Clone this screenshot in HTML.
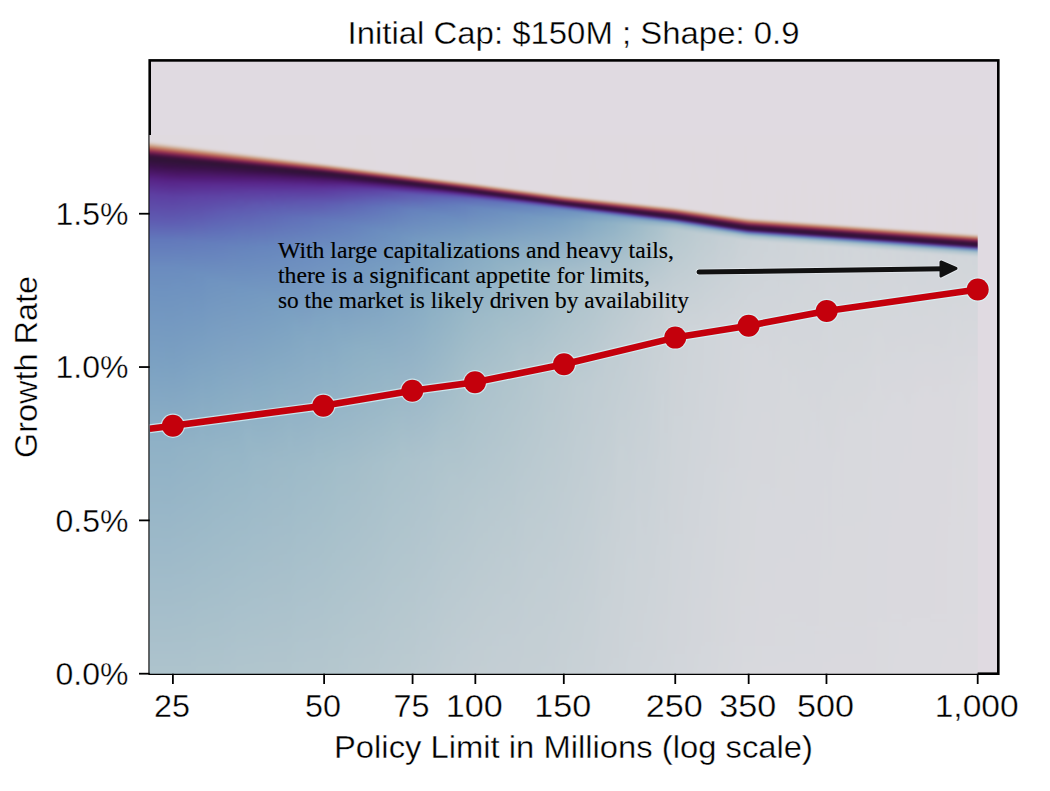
<!DOCTYPE html><html><head><meta charset="utf-8"><style>html,body{margin:0;padding:0;background:#fff;}svg{display:block;}</style></head><body><svg width="1050" height="791" viewBox="0 0 1050 791" font-family='"Liberation Sans", sans-serif'><defs><clipPath id="axc"><rect x="149.7" y="60.4" width="848.6" height="613.3"/></clipPath></defs><rect x="0" y="0" width="1050" height="791" fill="#ffffff"/><rect x="149.7" y="60.4" width="848.6" height="613.3" fill="#e0dae1"/><rect x="149.70" y="60.40" width="848.60" height="613.30" fill="none" stroke="#000" stroke-width="2.6"/><defs><linearGradient id="g0" x2="0" y2="1"><stop offset="0.0000" stop-color="#e0dae0"/><stop offset="0.0277" stop-color="#e0dadf"/><stop offset="0.0304" stop-color="#ded5d5"/><stop offset="0.0322" stop-color="#daccc6"/><stop offset="0.0349" stop-color="#d2b6a4"/><stop offset="0.0385" stop-color="#c78f72"/><stop offset="0.0411" stop-color="#bd6c5a"/><stop offset="0.0438" stop-color="#ab4b50"/><stop offset="0.0465" stop-color="#922f50"/><stop offset="0.0492" stop-color="#741e4f"/><stop offset="0.0528" stop-color="#4c1343"/><stop offset="0.0555" stop-color="#3a113a"/><stop offset="0.0599" stop-color="#2f1436"/><stop offset="0.0716" stop-color="#3a1148"/><stop offset="0.0886" stop-color="#4f1971"/><stop offset="0.0975" stop-color="#572486"/><stop offset="0.1234" stop-color="#5d3ea1"/><stop offset="0.1735" stop-color="#5f5db2"/><stop offset="0.2057" stop-color="#6278bb"/><stop offset="0.2540" stop-color="#6a8bbf"/><stop offset="0.2916" stop-color="#6e92c0"/><stop offset="0.4302" stop-color="#7ca1c2"/><stop offset="0.5671" stop-color="#8fb1c6"/><stop offset="1.0000" stop-color="#afc4cd"/></linearGradient><linearGradient id="g1" x2="0" y2="1"><stop offset="0.0000" stop-color="#e0dae0"/><stop offset="0.0277" stop-color="#e0dadf"/><stop offset="0.0304" stop-color="#ded5d5"/><stop offset="0.0322" stop-color="#daccc6"/><stop offset="0.0349" stop-color="#d2b6a4"/><stop offset="0.0385" stop-color="#c78f72"/><stop offset="0.0411" stop-color="#bd6c5a"/><stop offset="0.0438" stop-color="#ab4b50"/><stop offset="0.0465" stop-color="#922f50"/><stop offset="0.0492" stop-color="#741e4f"/><stop offset="0.0528" stop-color="#4c1343"/><stop offset="0.0555" stop-color="#3a113a"/><stop offset="0.0599" stop-color="#2f1436"/><stop offset="0.0716" stop-color="#3a1148"/><stop offset="0.0886" stop-color="#4f1971"/><stop offset="0.0975" stop-color="#572486"/><stop offset="0.1234" stop-color="#5d3ea1"/><stop offset="0.1735" stop-color="#5f5db2"/><stop offset="0.2048" stop-color="#6277bb"/><stop offset="0.2531" stop-color="#6a8bbf"/><stop offset="0.2970" stop-color="#6f93c0"/><stop offset="0.4293" stop-color="#7ca1c2"/><stop offset="0.5671" stop-color="#8fb1c6"/><stop offset="1.0000" stop-color="#afc4cd"/></linearGradient><linearGradient id="g2" x2="0" y2="1"><stop offset="0.0000" stop-color="#e0dae0"/><stop offset="0.0277" stop-color="#e0dadf"/><stop offset="0.0304" stop-color="#ded5d6"/><stop offset="0.0322" stop-color="#dbccc7"/><stop offset="0.0358" stop-color="#cfae97"/><stop offset="0.0385" stop-color="#c78f72"/><stop offset="0.0411" stop-color="#bd6d5a"/><stop offset="0.0438" stop-color="#ac4c50"/><stop offset="0.0474" stop-color="#8a2950"/><stop offset="0.0501" stop-color="#691a4d"/><stop offset="0.0537" stop-color="#45123f"/><stop offset="0.0564" stop-color="#361139"/><stop offset="0.0599" stop-color="#2f1436"/><stop offset="0.0716" stop-color="#3a1148"/><stop offset="0.0886" stop-color="#4f1970"/><stop offset="0.0975" stop-color="#572386"/><stop offset="0.1234" stop-color="#5d3ea1"/><stop offset="0.1726" stop-color="#5f5db2"/><stop offset="0.2048" stop-color="#6278bb"/><stop offset="0.2558" stop-color="#6b8cbf"/><stop offset="0.2996" stop-color="#6f93c0"/><stop offset="0.4302" stop-color="#7ca1c2"/><stop offset="0.5671" stop-color="#8fb1c6"/><stop offset="1.0000" stop-color="#afc4cd"/></linearGradient><linearGradient id="g3" x2="0" y2="1"><stop offset="0.0000" stop-color="#e0dae0"/><stop offset="0.0286" stop-color="#e0dadf"/><stop offset="0.0313" stop-color="#ded5d5"/><stop offset="0.0340" stop-color="#d8c6bd"/><stop offset="0.0376" stop-color="#cca389"/><stop offset="0.0403" stop-color="#c48367"/><stop offset="0.0429" stop-color="#b86155"/><stop offset="0.0465" stop-color="#9a3750"/><stop offset="0.0492" stop-color="#7d2250"/><stop offset="0.0528" stop-color="#531545"/><stop offset="0.0555" stop-color="#3d113c"/><stop offset="0.0590" stop-color="#311337"/><stop offset="0.0626" stop-color="#301338"/><stop offset="0.0760" stop-color="#3e1150"/><stop offset="0.0921" stop-color="#521c79"/><stop offset="0.0993" stop-color="#572588"/><stop offset="0.1252" stop-color="#5d40a2"/><stop offset="0.1735" stop-color="#5f5db2"/><stop offset="0.2048" stop-color="#6278bb"/><stop offset="0.2558" stop-color="#6b8cbf"/><stop offset="0.2996" stop-color="#6f93c0"/><stop offset="0.4311" stop-color="#7ca2c2"/><stop offset="0.5680" stop-color="#8fb1c6"/><stop offset="1.0000" stop-color="#afc4cd"/></linearGradient><linearGradient id="g4" x2="0" y2="1"><stop offset="0.0000" stop-color="#e0dae0"/><stop offset="0.0295" stop-color="#e0dadf"/><stop offset="0.0322" stop-color="#ded5d5"/><stop offset="0.0349" stop-color="#d8c6bc"/><stop offset="0.0385" stop-color="#cca388"/><stop offset="0.0411" stop-color="#c48266"/><stop offset="0.0438" stop-color="#b75f54"/><stop offset="0.0474" stop-color="#993650"/><stop offset="0.0501" stop-color="#7b2150"/><stop offset="0.0537" stop-color="#511445"/><stop offset="0.0564" stop-color="#3c113b"/><stop offset="0.0599" stop-color="#311337"/><stop offset="0.0662" stop-color="#33113c"/><stop offset="0.0814" stop-color="#44135b"/><stop offset="0.0957" stop-color="#552080"/><stop offset="0.1064" stop-color="#5a2b90"/><stop offset="0.1288" stop-color="#5d41a4"/><stop offset="0.1735" stop-color="#5f5db2"/><stop offset="0.2048" stop-color="#6278bb"/><stop offset="0.2558" stop-color="#6b8cbf"/><stop offset="0.3005" stop-color="#6f93c0"/><stop offset="0.4374" stop-color="#7da2c3"/><stop offset="0.5680" stop-color="#8fb1c6"/><stop offset="1.0000" stop-color="#afc4cd"/></linearGradient><linearGradient id="g5" x2="0" y2="1"><stop offset="0.0000" stop-color="#e0dae0"/><stop offset="0.0304" stop-color="#e0dadf"/><stop offset="0.0331" stop-color="#ded5d5"/><stop offset="0.0349" stop-color="#daccc6"/><stop offset="0.0385" stop-color="#ceac94"/><stop offset="0.0411" stop-color="#c78c6f"/><stop offset="0.0429" stop-color="#c0755e"/><stop offset="0.0456" stop-color="#b05251"/><stop offset="0.0492" stop-color="#8e2c50"/><stop offset="0.0519" stop-color="#6e1c4e"/><stop offset="0.0555" stop-color="#471340"/><stop offset="0.0581" stop-color="#371139"/><stop offset="0.0617" stop-color="#2f1436"/><stop offset="0.0742" stop-color="#3a1149"/><stop offset="0.0912" stop-color="#501a73"/><stop offset="0.1002" stop-color="#572487"/><stop offset="0.1252" stop-color="#5d3ea1"/><stop offset="0.1753" stop-color="#5f5eb3"/><stop offset="0.2048" stop-color="#6278bb"/><stop offset="0.2558" stop-color="#6b8cbf"/><stop offset="0.3005" stop-color="#6f93c0"/><stop offset="0.4320" stop-color="#7ca1c2"/><stop offset="0.5689" stop-color="#8fb1c6"/><stop offset="1.0000" stop-color="#afc4cd"/></linearGradient><linearGradient id="g6" x2="0" y2="1"><stop offset="0.0000" stop-color="#e0dae0"/><stop offset="0.0313" stop-color="#e0dadf"/><stop offset="0.0340" stop-color="#ded5d5"/><stop offset="0.0358" stop-color="#daccc6"/><stop offset="0.0385" stop-color="#d1b5a1"/><stop offset="0.0420" stop-color="#c68b6e"/><stop offset="0.0438" stop-color="#c0745d"/><stop offset="0.0465" stop-color="#af5151"/><stop offset="0.0492" stop-color="#963350"/><stop offset="0.0519" stop-color="#761f4f"/><stop offset="0.0555" stop-color="#4d1443"/><stop offset="0.0581" stop-color="#3a113a"/><stop offset="0.0626" stop-color="#2f1436"/><stop offset="0.0760" stop-color="#3c114b"/><stop offset="0.0930" stop-color="#511b76"/><stop offset="0.1011" stop-color="#572488"/><stop offset="0.1270" stop-color="#5d40a2"/><stop offset="0.1744" stop-color="#5f5db2"/><stop offset="0.2048" stop-color="#6278bb"/><stop offset="0.2558" stop-color="#6b8cbf"/><stop offset="0.3005" stop-color="#6f93c0"/><stop offset="0.4329" stop-color="#7ca2c2"/><stop offset="0.5698" stop-color="#8fb1c6"/><stop offset="1.0000" stop-color="#afc4cd"/></linearGradient><linearGradient id="g7" x2="0" y2="1"><stop offset="0.0000" stop-color="#e0dae0"/><stop offset="0.0322" stop-color="#e0dadf"/><stop offset="0.0349" stop-color="#ded5d5"/><stop offset="0.0367" stop-color="#dacbc6"/><stop offset="0.0394" stop-color="#d1b4a1"/><stop offset="0.0429" stop-color="#c68a6d"/><stop offset="0.0447" stop-color="#bf725c"/><stop offset="0.0474" stop-color="#ae4f51"/><stop offset="0.0510" stop-color="#8b2a50"/><stop offset="0.0537" stop-color="#691a4d"/><stop offset="0.0564" stop-color="#4b1342"/><stop offset="0.0590" stop-color="#39113a"/><stop offset="0.0626" stop-color="#301436"/><stop offset="0.0742" stop-color="#391146"/><stop offset="0.0912" stop-color="#4f1870"/><stop offset="0.1020" stop-color="#572588"/><stop offset="0.1288" stop-color="#5d40a3"/><stop offset="0.1744" stop-color="#5f5db2"/><stop offset="0.2048" stop-color="#6278bb"/><stop offset="0.2558" stop-color="#6b8cbf"/><stop offset="0.3005" stop-color="#6f93c0"/><stop offset="0.4329" stop-color="#7ca1c2"/><stop offset="0.5707" stop-color="#8fb1c6"/><stop offset="1.0000" stop-color="#afc4cd"/></linearGradient><linearGradient id="g8" x2="0" y2="1"><stop offset="0.0000" stop-color="#e0dae0"/><stop offset="0.0331" stop-color="#e0dadf"/><stop offset="0.0358" stop-color="#ded5d5"/><stop offset="0.0376" stop-color="#dacbc5"/><stop offset="0.0403" stop-color="#d1b4a0"/><stop offset="0.0438" stop-color="#c6896c"/><stop offset="0.0456" stop-color="#be715c"/><stop offset="0.0483" stop-color="#ac4d51"/><stop offset="0.0510" stop-color="#923050"/><stop offset="0.0537" stop-color="#721d4f"/><stop offset="0.0572" stop-color="#491341"/><stop offset="0.0599" stop-color="#381139"/><stop offset="0.0635" stop-color="#2f1436"/><stop offset="0.0751" stop-color="#3a1148"/><stop offset="0.0921" stop-color="#4f1971"/><stop offset="0.1011" stop-color="#572487"/><stop offset="0.1279" stop-color="#5d3fa2"/><stop offset="0.1753" stop-color="#5f5eb3"/><stop offset="0.2048" stop-color="#6278bb"/><stop offset="0.2558" stop-color="#6b8cbf"/><stop offset="0.2987" stop-color="#6f93c0"/><stop offset="0.4329" stop-color="#7ca1c2"/><stop offset="0.5698" stop-color="#8fb1c6"/><stop offset="1.0000" stop-color="#afc4cd"/></linearGradient><linearGradient id="g9" x2="0" y2="1"><stop offset="0.0000" stop-color="#e0dae0"/><stop offset="0.0340" stop-color="#e0dadf"/><stop offset="0.0367" stop-color="#ded5d5"/><stop offset="0.0385" stop-color="#dacbc5"/><stop offset="0.0411" stop-color="#d1b4a0"/><stop offset="0.0438" stop-color="#c89477"/><stop offset="0.0456" stop-color="#c27c62"/><stop offset="0.0483" stop-color="#b35752"/><stop offset="0.0519" stop-color="#912f50"/><stop offset="0.0546" stop-color="#701c4e"/><stop offset="0.0572" stop-color="#501444"/><stop offset="0.0599" stop-color="#3b113a"/><stop offset="0.0635" stop-color="#301437"/><stop offset="0.0725" stop-color="#361142"/><stop offset="0.0877" stop-color="#491564"/><stop offset="0.1020" stop-color="#572588"/><stop offset="0.1288" stop-color="#5d41a3"/><stop offset="0.1762" stop-color="#5f5fb3"/><stop offset="0.2057" stop-color="#6379bb"/><stop offset="0.2522" stop-color="#6a8bbf"/><stop offset="0.2871" stop-color="#6e92c0"/><stop offset="0.4302" stop-color="#7ca1c2"/><stop offset="0.5778" stop-color="#91b2c6"/><stop offset="1.0000" stop-color="#afc4cd"/></linearGradient><linearGradient id="g10" x2="0" y2="1"><stop offset="0.0000" stop-color="#e0dae0"/><stop offset="0.0349" stop-color="#e0dadf"/><stop offset="0.0376" stop-color="#ded5d5"/><stop offset="0.0394" stop-color="#dacbc5"/><stop offset="0.0420" stop-color="#d0b39e"/><stop offset="0.0447" stop-color="#c89275"/><stop offset="0.0474" stop-color="#be6e5a"/><stop offset="0.0501" stop-color="#ab4b50"/><stop offset="0.0528" stop-color="#8f2d50"/><stop offset="0.0555" stop-color="#6e1c4e"/><stop offset="0.0590" stop-color="#461240"/><stop offset="0.0617" stop-color="#361138"/><stop offset="0.0653" stop-color="#2f1436"/><stop offset="0.0769" stop-color="#3b114a"/><stop offset="0.0930" stop-color="#501973"/><stop offset="0.1029" stop-color="#58268a"/><stop offset="0.1297" stop-color="#5d42a4"/><stop offset="0.1771" stop-color="#5f60b4"/><stop offset="0.2057" stop-color="#6379bb"/><stop offset="0.2585" stop-color="#6b8dbf"/><stop offset="0.3140" stop-color="#7195c0"/><stop offset="0.4428" stop-color="#7ea3c3"/><stop offset="0.5769" stop-color="#91b2c6"/><stop offset="1.0000" stop-color="#afc4cd"/></linearGradient><linearGradient id="g11" x2="0" y2="1"><stop offset="0.0000" stop-color="#e0dae0"/><stop offset="0.0358" stop-color="#e0dadf"/><stop offset="0.0385" stop-color="#ded5d5"/><stop offset="0.0403" stop-color="#dacbc5"/><stop offset="0.0429" stop-color="#d0b39e"/><stop offset="0.0456" stop-color="#c89275"/><stop offset="0.0483" stop-color="#bd6d5a"/><stop offset="0.0510" stop-color="#a94950"/><stop offset="0.0537" stop-color="#8e2c50"/><stop offset="0.0564" stop-color="#6c1b4e"/><stop offset="0.0590" stop-color="#4c1342"/><stop offset="0.0617" stop-color="#39113a"/><stop offset="0.0653" stop-color="#2f1436"/><stop offset="0.0751" stop-color="#381145"/><stop offset="0.0921" stop-color="#4f1970"/><stop offset="0.1038" stop-color="#58278b"/><stop offset="0.1297" stop-color="#5d42a4"/><stop offset="0.1789" stop-color="#5f62b4"/><stop offset="0.2075" stop-color="#637abb"/><stop offset="0.2585" stop-color="#6b8dbf"/><stop offset="0.3095" stop-color="#7195c0"/><stop offset="0.4401" stop-color="#7ea3c3"/><stop offset="0.5733" stop-color="#91b2c6"/><stop offset="1.0000" stop-color="#afc4cd"/></linearGradient><linearGradient id="g12" x2="0" y2="1"><stop offset="0.0000" stop-color="#e0dae0"/><stop offset="0.0367" stop-color="#e0dadf"/><stop offset="0.0394" stop-color="#ded5d5"/><stop offset="0.0411" stop-color="#dacbc5"/><stop offset="0.0438" stop-color="#d0b29e"/><stop offset="0.0465" stop-color="#c89174"/><stop offset="0.0483" stop-color="#c17860"/><stop offset="0.0501" stop-color="#b75f55"/><stop offset="0.0528" stop-color="#a03d50"/><stop offset="0.0555" stop-color="#812450"/><stop offset="0.0581" stop-color="#5e174a"/><stop offset="0.0608" stop-color="#42123e"/><stop offset="0.0635" stop-color="#341238"/><stop offset="0.0671" stop-color="#301437"/><stop offset="0.0787" stop-color="#3d114d"/><stop offset="0.0948" stop-color="#511b77"/><stop offset="0.1047" stop-color="#59288c"/><stop offset="0.1297" stop-color="#5d43a5"/><stop offset="0.1798" stop-color="#5f64b5"/><stop offset="0.2066" stop-color="#637abb"/><stop offset="0.2612" stop-color="#6c8ebf"/><stop offset="0.3274" stop-color="#7297c1"/><stop offset="0.4660" stop-color="#82a7c3"/><stop offset="0.5805" stop-color="#92b3c6"/><stop offset="1.0000" stop-color="#afc4cd"/></linearGradient><linearGradient id="g13" x2="0" y2="1"><stop offset="0.0000" stop-color="#e0dae0"/><stop offset="0.0376" stop-color="#e0dadf"/><stop offset="0.0403" stop-color="#ded5d5"/><stop offset="0.0420" stop-color="#dacbc5"/><stop offset="0.0447" stop-color="#d0b29c"/><stop offset="0.0474" stop-color="#c89073"/><stop offset="0.0492" stop-color="#c1775f"/><stop offset="0.0510" stop-color="#b65e54"/><stop offset="0.0537" stop-color="#9f3c50"/><stop offset="0.0564" stop-color="#7f2350"/><stop offset="0.0590" stop-color="#5c1749"/><stop offset="0.0617" stop-color="#41123d"/><stop offset="0.0644" stop-color="#341238"/><stop offset="0.0680" stop-color="#301437"/><stop offset="0.0778" stop-color="#3b114a"/><stop offset="0.0939" stop-color="#501a75"/><stop offset="0.1055" stop-color="#59298e"/><stop offset="0.1297" stop-color="#5e43a5"/><stop offset="0.1789" stop-color="#5f64b5"/><stop offset="0.2084" stop-color="#637bbc"/><stop offset="0.2648" stop-color="#6c8fbf"/><stop offset="0.4490" stop-color="#80a5c3"/><stop offset="0.5796" stop-color="#92b3c6"/><stop offset="1.0000" stop-color="#afc4cd"/></linearGradient><linearGradient id="g14" x2="0" y2="1"><stop offset="0.0000" stop-color="#e0dae0"/><stop offset="0.0385" stop-color="#e0dadf"/><stop offset="0.0411" stop-color="#ded5d5"/><stop offset="0.0429" stop-color="#dacbc5"/><stop offset="0.0456" stop-color="#d0b29c"/><stop offset="0.0483" stop-color="#c78f72"/><stop offset="0.0501" stop-color="#c0765f"/><stop offset="0.0519" stop-color="#b55c54"/><stop offset="0.0546" stop-color="#9d3a50"/><stop offset="0.0572" stop-color="#7d2150"/><stop offset="0.0608" stop-color="#4f1444"/><stop offset="0.0635" stop-color="#3a113a"/><stop offset="0.0671" stop-color="#301436"/><stop offset="0.0760" stop-color="#381145"/><stop offset="0.0921" stop-color="#4e1870"/><stop offset="0.1047" stop-color="#59288d"/><stop offset="0.1279" stop-color="#5d42a4"/><stop offset="0.1682" stop-color="#5f5db2"/><stop offset="0.2093" stop-color="#647cbc"/><stop offset="0.2674" stop-color="#6d90c0"/><stop offset="0.4535" stop-color="#81a6c3"/><stop offset="0.5778" stop-color="#92b3c6"/><stop offset="1.0000" stop-color="#b0c5cd"/></linearGradient><linearGradient id="g15" x2="0" y2="1"><stop offset="0.0000" stop-color="#e0dae0"/><stop offset="0.0394" stop-color="#e0dadf"/><stop offset="0.0420" stop-color="#ded5d5"/><stop offset="0.0438" stop-color="#dacbc5"/><stop offset="0.0465" stop-color="#d0b19b"/><stop offset="0.0492" stop-color="#c78e71"/><stop offset="0.0510" stop-color="#c0755e"/><stop offset="0.0537" stop-color="#ad4e51"/><stop offset="0.0564" stop-color="#912f50"/><stop offset="0.0590" stop-color="#6f1c4e"/><stop offset="0.0617" stop-color="#4d1443"/><stop offset="0.0644" stop-color="#391139"/><stop offset="0.0680" stop-color="#2f1436"/><stop offset="0.0778" stop-color="#3a1149"/><stop offset="0.0939" stop-color="#501a74"/><stop offset="0.1064" stop-color="#592a8f"/><stop offset="0.1288" stop-color="#5e43a5"/><stop offset="0.1744" stop-color="#5f61b4"/><stop offset="0.2093" stop-color="#647cbc"/><stop offset="0.2639" stop-color="#6c8fbf"/><stop offset="0.3649" stop-color="#769cc1"/><stop offset="0.5492" stop-color="#90b2c6"/><stop offset="1.0000" stop-color="#b0c5cd"/></linearGradient><linearGradient id="g16" x2="0" y2="1"><stop offset="0.0000" stop-color="#e0dae0"/><stop offset="0.0403" stop-color="#e0dadf"/><stop offset="0.0429" stop-color="#ded5d5"/><stop offset="0.0447" stop-color="#dacbc4"/><stop offset="0.0474" stop-color="#d0b09b"/><stop offset="0.0501" stop-color="#c78e71"/><stop offset="0.0519" stop-color="#bf735d"/><stop offset="0.0546" stop-color="#ac4d51"/><stop offset="0.0572" stop-color="#8f2d50"/><stop offset="0.0599" stop-color="#6c1b4e"/><stop offset="0.0626" stop-color="#4b1342"/><stop offset="0.0653" stop-color="#371139"/><stop offset="0.0689" stop-color="#2f1436"/><stop offset="0.0778" stop-color="#3a1148"/><stop offset="0.0939" stop-color="#501a74"/><stop offset="0.1055" stop-color="#59298e"/><stop offset="0.1270" stop-color="#5d41a4"/><stop offset="0.1565" stop-color="#5f57b0"/><stop offset="0.1825" stop-color="#6068b6"/><stop offset="0.2111" stop-color="#647dbc"/><stop offset="0.2746" stop-color="#6e92c0"/><stop offset="0.4562" stop-color="#82a7c3"/><stop offset="0.5823" stop-color="#93b4c6"/><stop offset="1.0000" stop-color="#b0c5cd"/></linearGradient><linearGradient id="g17" x2="0" y2="1"><stop offset="0.0000" stop-color="#e0dae0"/><stop offset="0.0411" stop-color="#e0dadf"/><stop offset="0.0438" stop-color="#ded5d5"/><stop offset="0.0456" stop-color="#dacac4"/><stop offset="0.0483" stop-color="#d0b09a"/><stop offset="0.0510" stop-color="#c78c6f"/><stop offset="0.0528" stop-color="#bf725c"/><stop offset="0.0555" stop-color="#ab4b50"/><stop offset="0.0581" stop-color="#8e2c50"/><stop offset="0.0608" stop-color="#691a4d"/><stop offset="0.0635" stop-color="#491341"/><stop offset="0.0662" stop-color="#361139"/><stop offset="0.0698" stop-color="#2f1437"/><stop offset="0.0787" stop-color="#3a1149"/><stop offset="0.0939" stop-color="#501a74"/><stop offset="0.1064" stop-color="#592a8f"/><stop offset="0.1279" stop-color="#5e43a5"/><stop offset="0.1601" stop-color="#5f5ab1"/><stop offset="0.1860" stop-color="#606cb8"/><stop offset="0.2120" stop-color="#647ebc"/><stop offset="0.2773" stop-color="#6f93c0"/><stop offset="0.4535" stop-color="#82a7c3"/><stop offset="0.5814" stop-color="#93b4c6"/><stop offset="1.0000" stop-color="#b0c5cd"/></linearGradient><linearGradient id="g18" x2="0" y2="1"><stop offset="0.0000" stop-color="#e0dae0"/><stop offset="0.0420" stop-color="#e0dadf"/><stop offset="0.0447" stop-color="#ded5d5"/><stop offset="0.0465" stop-color="#dacac4"/><stop offset="0.0492" stop-color="#cfaf99"/><stop offset="0.0519" stop-color="#c68b6e"/><stop offset="0.0537" stop-color="#be705c"/><stop offset="0.0555" stop-color="#b25652"/><stop offset="0.0581" stop-color="#973450"/><stop offset="0.0608" stop-color="#741e4f"/><stop offset="0.0635" stop-color="#501444"/><stop offset="0.0653" stop-color="#3f123d"/><stop offset="0.0680" stop-color="#331237"/><stop offset="0.0707" stop-color="#2f1437"/><stop offset="0.0796" stop-color="#3b114a"/><stop offset="0.0948" stop-color="#511b75"/><stop offset="0.1073" stop-color="#5a2c91"/><stop offset="0.1279" stop-color="#5e43a5"/><stop offset="0.1583" stop-color="#5f5ab1"/><stop offset="0.1869" stop-color="#606db8"/><stop offset="0.2120" stop-color="#647ebc"/><stop offset="0.2773" stop-color="#6f93c0"/><stop offset="0.4597" stop-color="#83a8c4"/><stop offset="0.5877" stop-color="#95b5c7"/><stop offset="1.0000" stop-color="#b0c5cd"/></linearGradient><linearGradient id="g19" x2="0" y2="1"><stop offset="0.0000" stop-color="#e0dae0"/><stop offset="0.0429" stop-color="#e0dadf"/><stop offset="0.0456" stop-color="#ded5d6"/><stop offset="0.0474" stop-color="#dacac3"/><stop offset="0.0501" stop-color="#cfaf99"/><stop offset="0.0528" stop-color="#c68a6d"/><stop offset="0.0546" stop-color="#be6f5b"/><stop offset="0.0572" stop-color="#a94850"/><stop offset="0.0599" stop-color="#8b2a50"/><stop offset="0.0617" stop-color="#711d4f"/><stop offset="0.0644" stop-color="#4e1443"/><stop offset="0.0671" stop-color="#381139"/><stop offset="0.0707" stop-color="#2f1436"/><stop offset="0.0796" stop-color="#3a1149"/><stop offset="0.0948" stop-color="#511a75"/><stop offset="0.1073" stop-color="#5a2c91"/><stop offset="0.1288" stop-color="#5e44a5"/><stop offset="0.1547" stop-color="#5f59b1"/><stop offset="0.1860" stop-color="#606db8"/><stop offset="0.2138" stop-color="#657fbd"/><stop offset="0.2826" stop-color="#7094c0"/><stop offset="0.4714" stop-color="#85aac4"/><stop offset="0.5859" stop-color="#95b5c7"/><stop offset="1.0000" stop-color="#b0c5cd"/></linearGradient><linearGradient id="g20" x2="0" y2="1"><stop offset="0.0000" stop-color="#e0dae0"/><stop offset="0.0438" stop-color="#e0dadf"/><stop offset="0.0465" stop-color="#ded5d6"/><stop offset="0.0483" stop-color="#dacac3"/><stop offset="0.0510" stop-color="#cfae98"/><stop offset="0.0537" stop-color="#c6896d"/><stop offset="0.0555" stop-color="#bd6e5a"/><stop offset="0.0581" stop-color="#a84750"/><stop offset="0.0608" stop-color="#882850"/><stop offset="0.0635" stop-color="#62184b"/><stop offset="0.0653" stop-color="#4b1342"/><stop offset="0.0680" stop-color="#371139"/><stop offset="0.0716" stop-color="#2f1436"/><stop offset="0.0805" stop-color="#3b114b"/><stop offset="0.0957" stop-color="#521b77"/><stop offset="0.1082" stop-color="#5a2d92"/><stop offset="0.1297" stop-color="#5e46a6"/><stop offset="0.1574" stop-color="#5f5bb2"/><stop offset="0.1869" stop-color="#606eb8"/><stop offset="0.2129" stop-color="#657fbd"/><stop offset="0.2818" stop-color="#7094c0"/><stop offset="0.4776" stop-color="#87abc4"/><stop offset="0.5850" stop-color="#95b5c7"/><stop offset="1.0000" stop-color="#b0c5cd"/></linearGradient><linearGradient id="g21" x2="0" y2="1"><stop offset="0.0000" stop-color="#e0dae0"/><stop offset="0.0447" stop-color="#e0dadf"/><stop offset="0.0474" stop-color="#ded5d6"/><stop offset="0.0492" stop-color="#dacac3"/><stop offset="0.0519" stop-color="#cfae97"/><stop offset="0.0546" stop-color="#c6886c"/><stop offset="0.0564" stop-color="#bd6c5a"/><stop offset="0.0581" stop-color="#af5251"/><stop offset="0.0608" stop-color="#922f50"/><stop offset="0.0635" stop-color="#6c1b4e"/><stop offset="0.0662" stop-color="#4a1341"/><stop offset="0.0680" stop-color="#3b113a"/><stop offset="0.0716" stop-color="#2f1436"/><stop offset="0.0787" stop-color="#371144"/><stop offset="0.0939" stop-color="#4f1972"/><stop offset="0.1055" stop-color="#59298e"/><stop offset="0.1243" stop-color="#5d41a3"/><stop offset="0.1538" stop-color="#5f5ab1"/><stop offset="0.1905" stop-color="#6171b9"/><stop offset="0.2147" stop-color="#6580bd"/><stop offset="0.2862" stop-color="#7195c0"/><stop offset="0.4830" stop-color="#88acc4"/><stop offset="0.5921" stop-color="#96b6c7"/><stop offset="1.0000" stop-color="#b1c5ce"/></linearGradient><linearGradient id="g22" x2="0" y2="1"><stop offset="0.0000" stop-color="#e0dae0"/><stop offset="0.0456" stop-color="#e0dae0"/><stop offset="0.0483" stop-color="#ded5d6"/><stop offset="0.0501" stop-color="#dacac3"/><stop offset="0.0528" stop-color="#cfad96"/><stop offset="0.0555" stop-color="#c5876b"/><stop offset="0.0572" stop-color="#bc6b59"/><stop offset="0.0590" stop-color="#ae5051"/><stop offset="0.0617" stop-color="#902e50"/><stop offset="0.0635" stop-color="#771f4f"/><stop offset="0.0662" stop-color="#521545"/><stop offset="0.0680" stop-color="#3f123d"/><stop offset="0.0707" stop-color="#331237"/><stop offset="0.0733" stop-color="#301437"/><stop offset="0.0814" stop-color="#3c114b"/><stop offset="0.0957" stop-color="#511b77"/><stop offset="0.1082" stop-color="#5a2d92"/><stop offset="0.1279" stop-color="#5e45a6"/><stop offset="0.1538" stop-color="#5f5bb2"/><stop offset="0.1914" stop-color="#6172ba"/><stop offset="0.2165" stop-color="#6682bd"/><stop offset="0.2871" stop-color="#7195c0"/><stop offset="0.5045" stop-color="#8baec5"/><stop offset="0.5921" stop-color="#96b6c7"/><stop offset="1.0000" stop-color="#b1c5ce"/></linearGradient><linearGradient id="g23" x2="0" y2="1"><stop offset="0.0000" stop-color="#e0dae0"/><stop offset="0.0465" stop-color="#e0dae0"/><stop offset="0.0492" stop-color="#ded5d6"/><stop offset="0.0510" stop-color="#dacac3"/><stop offset="0.0537" stop-color="#cfad96"/><stop offset="0.0564" stop-color="#c5866a"/><stop offset="0.0581" stop-color="#bc6a58"/><stop offset="0.0608" stop-color="#a44250"/><stop offset="0.0635" stop-color="#822450"/><stop offset="0.0662" stop-color="#5b1648"/><stop offset="0.0689" stop-color="#3e113c"/><stop offset="0.0716" stop-color="#321237"/><stop offset="0.0742" stop-color="#301338"/><stop offset="0.0823" stop-color="#3d114d"/><stop offset="0.0966" stop-color="#521c79"/><stop offset="0.1064" stop-color="#592a8f"/><stop offset="0.1234" stop-color="#5d40a3"/><stop offset="0.1521" stop-color="#5f5bb1"/><stop offset="0.1905" stop-color="#6172ba"/><stop offset="0.2165" stop-color="#6682bd"/><stop offset="0.2862" stop-color="#7195c0"/><stop offset="0.5179" stop-color="#8eb0c5"/><stop offset="0.6047" stop-color="#97b7c7"/><stop offset="1.0000" stop-color="#b1c5ce"/></linearGradient><linearGradient id="g24" x2="0" y2="1"><stop offset="0.0000" stop-color="#e0dae0"/><stop offset="0.0474" stop-color="#e0dae0"/><stop offset="0.0501" stop-color="#ded5d6"/><stop offset="0.0519" stop-color="#dacac3"/><stop offset="0.0546" stop-color="#ceac95"/><stop offset="0.0564" stop-color="#c89275"/><stop offset="0.0581" stop-color="#c0765f"/><stop offset="0.0599" stop-color="#b45a53"/><stop offset="0.0626" stop-color="#983550"/><stop offset="0.0644" stop-color="#7f2350"/><stop offset="0.0671" stop-color="#581647"/><stop offset="0.0689" stop-color="#43123e"/><stop offset="0.0716" stop-color="#341238"/><stop offset="0.0742" stop-color="#2f1437"/><stop offset="0.0814" stop-color="#3a1148"/><stop offset="0.0957" stop-color="#511a75"/><stop offset="0.1038" stop-color="#58268a"/><stop offset="0.1145" stop-color="#5c359a"/><stop offset="0.1360" stop-color="#5e4eab"/><stop offset="0.1619" stop-color="#5f61b4"/><stop offset="0.1959" stop-color="#6277bb"/><stop offset="0.2209" stop-color="#6684bd"/><stop offset="0.2961" stop-color="#7297c1"/><stop offset="0.5170" stop-color="#8eb0c5"/><stop offset="0.6020" stop-color="#97b7c7"/><stop offset="1.0000" stop-color="#b2c6ce"/></linearGradient><linearGradient id="g25" x2="0" y2="1"><stop offset="0.0000" stop-color="#e0dae0"/><stop offset="0.0483" stop-color="#e0dae0"/><stop offset="0.0510" stop-color="#ded5d6"/><stop offset="0.0528" stop-color="#dacac3"/><stop offset="0.0555" stop-color="#ceac94"/><stop offset="0.0572" stop-color="#c89174"/><stop offset="0.0590" stop-color="#c0755e"/><stop offset="0.0608" stop-color="#b35953"/><stop offset="0.0635" stop-color="#963350"/><stop offset="0.0653" stop-color="#7d2250"/><stop offset="0.0680" stop-color="#561546"/><stop offset="0.0698" stop-color="#41123e"/><stop offset="0.0725" stop-color="#331237"/><stop offset="0.0751" stop-color="#301437"/><stop offset="0.0823" stop-color="#3b1149"/><stop offset="0.0939" stop-color="#4e1870"/><stop offset="0.1029" stop-color="#572588"/><stop offset="0.1154" stop-color="#5c379b"/><stop offset="0.1377" stop-color="#5e50ac"/><stop offset="0.1646" stop-color="#5f64b5"/><stop offset="0.2165" stop-color="#6683bd"/><stop offset="0.2952" stop-color="#7297c1"/><stop offset="0.5313" stop-color="#90b2c6"/><stop offset="0.6360" stop-color="#9ab8c8"/><stop offset="1.0000" stop-color="#b2c6ce"/></linearGradient><linearGradient id="g26" x2="0" y2="1"><stop offset="0.0000" stop-color="#e0dae0"/><stop offset="0.0492" stop-color="#e0dae0"/><stop offset="0.0519" stop-color="#ded5d6"/><stop offset="0.0537" stop-color="#dac9c3"/><stop offset="0.0564" stop-color="#ceab93"/><stop offset="0.0581" stop-color="#c89073"/><stop offset="0.0599" stop-color="#c0745d"/><stop offset="0.0617" stop-color="#b25752"/><stop offset="0.0644" stop-color="#943150"/><stop offset="0.0662" stop-color="#7b2050"/><stop offset="0.0689" stop-color="#531545"/><stop offset="0.0707" stop-color="#40123d"/><stop offset="0.0733" stop-color="#321237"/><stop offset="0.0760" stop-color="#301437"/><stop offset="0.0841" stop-color="#3d114e"/><stop offset="0.0975" stop-color="#531d7a"/><stop offset="0.1073" stop-color="#5a2b90"/><stop offset="0.1225" stop-color="#5d40a2"/><stop offset="0.1512" stop-color="#5f5cb2"/><stop offset="0.1995" stop-color="#637abb"/><stop offset="0.2254" stop-color="#6786be"/><stop offset="0.3014" stop-color="#7398c1"/><stop offset="0.5537" stop-color="#94b5c7"/><stop offset="1.0000" stop-color="#b2c6ce"/></linearGradient><linearGradient id="g27" x2="0" y2="1"><stop offset="0.0000" stop-color="#e0dae0"/><stop offset="0.0501" stop-color="#e0dae0"/><stop offset="0.0528" stop-color="#ded5d6"/><stop offset="0.0546" stop-color="#dac9c2"/><stop offset="0.0572" stop-color="#ceab92"/><stop offset="0.0590" stop-color="#c89073"/><stop offset="0.0608" stop-color="#bf725c"/><stop offset="0.0626" stop-color="#b15552"/><stop offset="0.0653" stop-color="#922f50"/><stop offset="0.0671" stop-color="#781f50"/><stop offset="0.0698" stop-color="#501444"/><stop offset="0.0716" stop-color="#3e113c"/><stop offset="0.0733" stop-color="#341238"/><stop offset="0.0760" stop-color="#2f1437"/><stop offset="0.0832" stop-color="#3a1149"/><stop offset="0.0939" stop-color="#4e186f"/><stop offset="0.1038" stop-color="#58268a"/><stop offset="0.1172" stop-color="#5d3a9e"/><stop offset="0.1449" stop-color="#5f58b0"/><stop offset="0.1744" stop-color="#606ab7"/><stop offset="0.2174" stop-color="#6684bd"/><stop offset="0.2996" stop-color="#7398c1"/><stop offset="0.5653" stop-color="#96b6c7"/><stop offset="1.0000" stop-color="#b2c6ce"/></linearGradient><linearGradient id="g28" x2="0" y2="1"><stop offset="0.0000" stop-color="#e0dae0"/><stop offset="0.0510" stop-color="#e0dae0"/><stop offset="0.0537" stop-color="#ded5d6"/><stop offset="0.0555" stop-color="#d9c9c2"/><stop offset="0.0581" stop-color="#ceaa91"/><stop offset="0.0599" stop-color="#c78f72"/><stop offset="0.0617" stop-color="#be705c"/><stop offset="0.0635" stop-color="#b05351"/><stop offset="0.0662" stop-color="#902e50"/><stop offset="0.0680" stop-color="#751e4f"/><stop offset="0.0707" stop-color="#4e1443"/><stop offset="0.0725" stop-color="#3c113b"/><stop offset="0.0751" stop-color="#311337"/><stop offset="0.0778" stop-color="#311339"/><stop offset="0.0850" stop-color="#3d114e"/><stop offset="0.0903" stop-color="#481562"/><stop offset="0.1029" stop-color="#572588"/><stop offset="0.1172" stop-color="#5d3a9e"/><stop offset="0.1422" stop-color="#5f56af"/><stop offset="0.1664" stop-color="#6067b6"/><stop offset="0.2165" stop-color="#6684bd"/><stop offset="0.2987" stop-color="#7398c1"/><stop offset="0.4857" stop-color="#8aaec5"/><stop offset="0.5966" stop-color="#99b8c8"/><stop offset="1.0000" stop-color="#b2c6ce"/></linearGradient><linearGradient id="g29" x2="0" y2="1"><stop offset="0.0000" stop-color="#e0dae0"/><stop offset="0.0519" stop-color="#e0dae0"/><stop offset="0.0546" stop-color="#ded5d6"/><stop offset="0.0564" stop-color="#d9c9c2"/><stop offset="0.0590" stop-color="#cea991"/><stop offset="0.0608" stop-color="#c78e71"/><stop offset="0.0626" stop-color="#be6f5b"/><stop offset="0.0644" stop-color="#af5251"/><stop offset="0.0671" stop-color="#8e2c50"/><stop offset="0.0689" stop-color="#721d4f"/><stop offset="0.0716" stop-color="#4b1342"/><stop offset="0.0733" stop-color="#3b113a"/><stop offset="0.0760" stop-color="#311337"/><stop offset="0.0796" stop-color="#33123b"/><stop offset="0.0859" stop-color="#3e1150"/><stop offset="0.0912" stop-color="#491564"/><stop offset="0.1038" stop-color="#58268a"/><stop offset="0.1172" stop-color="#5d3a9e"/><stop offset="0.1422" stop-color="#5f57b0"/><stop offset="0.1691" stop-color="#6069b7"/><stop offset="0.2182" stop-color="#6785be"/><stop offset="0.3041" stop-color="#7499c1"/><stop offset="0.4571" stop-color="#87abc4"/><stop offset="0.5939" stop-color="#99b8c8"/><stop offset="1.0000" stop-color="#b2c6ce"/></linearGradient><linearGradient id="g30" x2="0" y2="1"><stop offset="0.0000" stop-color="#e0dae0"/><stop offset="0.0528" stop-color="#e0dae0"/><stop offset="0.0555" stop-color="#ded5d6"/><stop offset="0.0572" stop-color="#d9c9c2"/><stop offset="0.0599" stop-color="#cda88f"/><stop offset="0.0617" stop-color="#c78c6f"/><stop offset="0.0635" stop-color="#bd6e5a"/><stop offset="0.0653" stop-color="#ae5051"/><stop offset="0.0680" stop-color="#8d2b50"/><stop offset="0.0698" stop-color="#701c4e"/><stop offset="0.0725" stop-color="#491341"/><stop offset="0.0742" stop-color="#39113a"/><stop offset="0.0769" stop-color="#301437"/><stop offset="0.0814" stop-color="#34113f"/><stop offset="0.0877" stop-color="#411256"/><stop offset="0.0993" stop-color="#541e7d"/><stop offset="0.1073" stop-color="#5a2b90"/><stop offset="0.1243" stop-color="#5e43a5"/><stop offset="0.1547" stop-color="#5f62b4"/><stop offset="0.2174" stop-color="#6785be"/><stop offset="0.3077" stop-color="#759ac1"/><stop offset="0.4803" stop-color="#8aaec5"/><stop offset="0.6029" stop-color="#9ab8c8"/><stop offset="1.0000" stop-color="#b2c6ce"/></linearGradient><linearGradient id="g31" x2="0" y2="1"><stop offset="0.0000" stop-color="#e0dae0"/><stop offset="0.0546" stop-color="#e0dade"/><stop offset="0.0564" stop-color="#ded5d6"/><stop offset="0.0581" stop-color="#d9c9c2"/><stop offset="0.0608" stop-color="#cda88f"/><stop offset="0.0626" stop-color="#c68b6e"/><stop offset="0.0644" stop-color="#bd6c59"/><stop offset="0.0662" stop-color="#ad4e51"/><stop offset="0.0689" stop-color="#8a2950"/><stop offset="0.0707" stop-color="#6d1b4e"/><stop offset="0.0733" stop-color="#471340"/><stop offset="0.0751" stop-color="#381139"/><stop offset="0.0778" stop-color="#301436"/><stop offset="0.0841" stop-color="#381145"/><stop offset="0.0921" stop-color="#4a1565"/><stop offset="0.1029" stop-color="#572487"/><stop offset="0.1154" stop-color="#5c379c"/><stop offset="0.1377" stop-color="#5e53ae"/><stop offset="0.1637" stop-color="#6068b6"/><stop offset="0.2191" stop-color="#6786be"/><stop offset="0.3122" stop-color="#769bc1"/><stop offset="0.4776" stop-color="#8aaec5"/><stop offset="0.6002" stop-color="#9ab8c8"/><stop offset="1.0000" stop-color="#b3c6ce"/></linearGradient><linearGradient id="g32" x2="0" y2="1"><stop offset="0.0000" stop-color="#e0dae0"/><stop offset="0.0555" stop-color="#e0dadf"/><stop offset="0.0572" stop-color="#ded5d6"/><stop offset="0.0590" stop-color="#d9c9c2"/><stop offset="0.0617" stop-color="#cda78e"/><stop offset="0.0635" stop-color="#c68a6d"/><stop offset="0.0653" stop-color="#bc6a58"/><stop offset="0.0671" stop-color="#ac4c50"/><stop offset="0.0689" stop-color="#953250"/><stop offset="0.0707" stop-color="#792050"/><stop offset="0.0733" stop-color="#4f1444"/><stop offset="0.0751" stop-color="#3c113b"/><stop offset="0.0778" stop-color="#311337"/><stop offset="0.0805" stop-color="#31123a"/><stop offset="0.0868" stop-color="#3d114e"/><stop offset="0.0930" stop-color="#4b1668"/><stop offset="0.1047" stop-color="#58278b"/><stop offset="0.1190" stop-color="#5d3ca0"/><stop offset="0.1431" stop-color="#5f59b1"/><stop offset="0.1664" stop-color="#606ab7"/><stop offset="0.2182" stop-color="#6786be"/><stop offset="0.3122" stop-color="#769bc1"/><stop offset="0.4383" stop-color="#86aac4"/><stop offset="0.5975" stop-color="#9ab8c8"/><stop offset="1.0000" stop-color="#b3c6ce"/></linearGradient><linearGradient id="g33" x2="0" y2="1"><stop offset="0.0000" stop-color="#e0dae0"/><stop offset="0.0564" stop-color="#e0dadf"/><stop offset="0.0581" stop-color="#ded5d6"/><stop offset="0.0599" stop-color="#d9c9c1"/><stop offset="0.0626" stop-color="#cda68c"/><stop offset="0.0644" stop-color="#c6896c"/><stop offset="0.0662" stop-color="#bb6958"/><stop offset="0.0680" stop-color="#aa4a50"/><stop offset="0.0698" stop-color="#933050"/><stop offset="0.0716" stop-color="#761f4f"/><stop offset="0.0742" stop-color="#4d1443"/><stop offset="0.0760" stop-color="#3b113a"/><stop offset="0.0787" stop-color="#301337"/><stop offset="0.0832" stop-color="#34113f"/><stop offset="0.0903" stop-color="#45135d"/><stop offset="0.1020" stop-color="#562284"/><stop offset="0.1091" stop-color="#5a2e93"/><stop offset="0.1252" stop-color="#5e45a6"/><stop offset="0.1547" stop-color="#5f64b5"/><stop offset="0.2165" stop-color="#6786be"/><stop offset="0.3157" stop-color="#769cc1"/><stop offset="0.4436" stop-color="#87abc4"/><stop offset="0.6064" stop-color="#9cb9c8"/><stop offset="1.0000" stop-color="#b3c6ce"/></linearGradient><linearGradient id="g34" x2="0" y2="1"><stop offset="0.0000" stop-color="#e0dae0"/><stop offset="0.0572" stop-color="#e0dadf"/><stop offset="0.0590" stop-color="#ded5d6"/><stop offset="0.0608" stop-color="#d9c8c1"/><stop offset="0.0635" stop-color="#cda68c"/><stop offset="0.0653" stop-color="#c6876b"/><stop offset="0.0671" stop-color="#ba6757"/><stop offset="0.0689" stop-color="#a94850"/><stop offset="0.0707" stop-color="#912e50"/><stop offset="0.0725" stop-color="#741e4f"/><stop offset="0.0751" stop-color="#4a1342"/><stop offset="0.0769" stop-color="#39113a"/><stop offset="0.0796" stop-color="#301437"/><stop offset="0.0850" stop-color="#371143"/><stop offset="0.0930" stop-color="#4a1566"/><stop offset="0.1038" stop-color="#572588"/><stop offset="0.1154" stop-color="#5c379c"/><stop offset="0.1369" stop-color="#5e53ae"/><stop offset="0.1646" stop-color="#606bb7"/><stop offset="0.2182" stop-color="#6887be"/><stop offset="0.3265" stop-color="#789ec2"/><stop offset="0.4776" stop-color="#8cafc5"/><stop offset="0.6038" stop-color="#9cb9c8"/><stop offset="1.0000" stop-color="#b3c6ce"/></linearGradient><linearGradient id="g35" x2="0" y2="1"><stop offset="0.0000" stop-color="#e0dae0"/><stop offset="0.0581" stop-color="#e0dadf"/><stop offset="0.0599" stop-color="#ded5d6"/><stop offset="0.0608" stop-color="#dcd0ce"/><stop offset="0.0626" stop-color="#d5beb0"/><stop offset="0.0653" stop-color="#c99679"/><stop offset="0.0671" stop-color="#c0755e"/><stop offset="0.0689" stop-color="#b15552"/><stop offset="0.0716" stop-color="#8e2c50"/><stop offset="0.0733" stop-color="#711d4f"/><stop offset="0.0751" stop-color="#531546"/><stop offset="0.0769" stop-color="#3e113c"/><stop offset="0.0796" stop-color="#311337"/><stop offset="0.0814" stop-color="#301437"/><stop offset="0.0877" stop-color="#3c114b"/><stop offset="0.0948" stop-color="#4c176b"/><stop offset="0.1055" stop-color="#59288d"/><stop offset="0.1208" stop-color="#5d3fa2"/><stop offset="0.1467" stop-color="#5f5eb3"/><stop offset="0.1682" stop-color="#606eb8"/><stop offset="0.2200" stop-color="#6888be"/><stop offset="0.3309" stop-color="#799fc2"/><stop offset="0.4928" stop-color="#8eb1c5"/><stop offset="0.6029" stop-color="#9cb9c8"/><stop offset="1.0000" stop-color="#b3c6ce"/></linearGradient><linearGradient id="g36" x2="0" y2="1"><stop offset="0.0000" stop-color="#e0dae0"/><stop offset="0.0590" stop-color="#e0dadf"/><stop offset="0.0608" stop-color="#ded6d7"/><stop offset="0.0617" stop-color="#dcd0ce"/><stop offset="0.0635" stop-color="#d4beaf"/><stop offset="0.0662" stop-color="#c99578"/><stop offset="0.0680" stop-color="#c0745d"/><stop offset="0.0698" stop-color="#b05351"/><stop offset="0.0725" stop-color="#8d2b50"/><stop offset="0.0742" stop-color="#6e1c4e"/><stop offset="0.0760" stop-color="#501444"/><stop offset="0.0778" stop-color="#3c113b"/><stop offset="0.0805" stop-color="#311337"/><stop offset="0.0832" stop-color="#32123a"/><stop offset="0.0894" stop-color="#3f1251"/><stop offset="0.0948" stop-color="#4c1669"/><stop offset="0.1064" stop-color="#59298e"/><stop offset="0.1216" stop-color="#5d41a3"/><stop offset="0.1485" stop-color="#5f60b3"/><stop offset="0.1682" stop-color="#616fb9"/><stop offset="0.2191" stop-color="#6888be"/><stop offset="0.3354" stop-color="#7aa0c2"/><stop offset="0.5179" stop-color="#92b3c6"/><stop offset="0.6145" stop-color="#9dbac8"/><stop offset="1.0000" stop-color="#b3c6ce"/></linearGradient><linearGradient id="g37" x2="0" y2="1"><stop offset="0.0000" stop-color="#e0dae0"/><stop offset="0.0599" stop-color="#e0dadf"/><stop offset="0.0617" stop-color="#ded6d7"/><stop offset="0.0626" stop-color="#dcd0ce"/><stop offset="0.0644" stop-color="#d4beaf"/><stop offset="0.0671" stop-color="#c89477"/><stop offset="0.0680" stop-color="#c48368"/><stop offset="0.0698" stop-color="#b86255"/><stop offset="0.0716" stop-color="#a44250"/><stop offset="0.0733" stop-color="#8a2950"/><stop offset="0.0751" stop-color="#6b1b4d"/><stop offset="0.0769" stop-color="#4e1443"/><stop offset="0.0787" stop-color="#3b113a"/><stop offset="0.0814" stop-color="#301437"/><stop offset="0.0859" stop-color="#351141"/><stop offset="0.0948" stop-color="#4b1668"/><stop offset="0.1055" stop-color="#58278b"/><stop offset="0.1145" stop-color="#5c369b"/><stop offset="0.1342" stop-color="#5e51ad"/><stop offset="0.1646" stop-color="#606eb8"/><stop offset="0.2182" stop-color="#6888be"/><stop offset="0.3399" stop-color="#7ba1c2"/><stop offset="0.5626" stop-color="#99b8c8"/><stop offset="1.0000" stop-color="#b3c6ce"/></linearGradient><linearGradient id="g38" x2="0" y2="1"><stop offset="0.0000" stop-color="#e0dae0"/><stop offset="0.0608" stop-color="#e0dadf"/><stop offset="0.0626" stop-color="#ded6d7"/><stop offset="0.0635" stop-color="#dcd0ce"/><stop offset="0.0653" stop-color="#d4bdaf"/><stop offset="0.0680" stop-color="#c89275"/><stop offset="0.0689" stop-color="#c48166"/><stop offset="0.0707" stop-color="#b75f55"/><stop offset="0.0725" stop-color="#a24050"/><stop offset="0.0742" stop-color="#872750"/><stop offset="0.0760" stop-color="#681a4d"/><stop offset="0.0778" stop-color="#4b1342"/><stop offset="0.0796" stop-color="#39113a"/><stop offset="0.0823" stop-color="#2f1436"/><stop offset="0.0877" stop-color="#381145"/><stop offset="0.0957" stop-color="#4c176b"/><stop offset="0.1073" stop-color="#592a8f"/><stop offset="0.1216" stop-color="#5d41a3"/><stop offset="0.1449" stop-color="#5f5db2"/><stop offset="0.1673" stop-color="#6170b9"/><stop offset="0.2191" stop-color="#6989be"/><stop offset="0.3605" stop-color="#7fa5c3"/><stop offset="0.6055" stop-color="#9dbac8"/><stop offset="1.0000" stop-color="#b4c7ce"/></linearGradient><linearGradient id="g39" x2="0" y2="1"><stop offset="0.0000" stop-color="#e0dae0"/><stop offset="0.0617" stop-color="#e0dadf"/><stop offset="0.0635" stop-color="#ded6d7"/><stop offset="0.0644" stop-color="#dcd0ce"/><stop offset="0.0653" stop-color="#d9c8c0"/><stop offset="0.0671" stop-color="#d0b09a"/><stop offset="0.0689" stop-color="#c89174"/><stop offset="0.0698" stop-color="#c48065"/><stop offset="0.0716" stop-color="#b65d54"/><stop offset="0.0733" stop-color="#a13e50"/><stop offset="0.0751" stop-color="#852650"/><stop offset="0.0769" stop-color="#64194c"/><stop offset="0.0787" stop-color="#481341"/><stop offset="0.0805" stop-color="#381139"/><stop offset="0.0832" stop-color="#2f1436"/><stop offset="0.0894" stop-color="#3b114a"/><stop offset="0.0957" stop-color="#4c1669"/><stop offset="0.1064" stop-color="#59288d"/><stop offset="0.1172" stop-color="#5d3a9e"/><stop offset="0.1395" stop-color="#5f58b0"/><stop offset="0.1664" stop-color="#6170b9"/><stop offset="0.2182" stop-color="#6989be"/><stop offset="0.3694" stop-color="#81a6c3"/><stop offset="0.6154" stop-color="#9ebbc9"/><stop offset="1.0000" stop-color="#b4c7cf"/></linearGradient><linearGradient id="g40" x2="0" y2="1"><stop offset="0.0000" stop-color="#e0dae0"/><stop offset="0.0626" stop-color="#e0dadf"/><stop offset="0.0644" stop-color="#ded6d7"/><stop offset="0.0653" stop-color="#dcd0ce"/><stop offset="0.0671" stop-color="#d4bdad"/><stop offset="0.0698" stop-color="#c89073"/><stop offset="0.0707" stop-color="#c37f64"/><stop offset="0.0716" stop-color="#bd6d5a"/><stop offset="0.0733" stop-color="#ab4b50"/><stop offset="0.0751" stop-color="#912f50"/><stop offset="0.0769" stop-color="#711d4f"/><stop offset="0.0796" stop-color="#461240"/><stop offset="0.0814" stop-color="#361139"/><stop offset="0.0841" stop-color="#2f1437"/><stop offset="0.0894" stop-color="#3a1148"/><stop offset="0.0957" stop-color="#4b1668"/><stop offset="0.1064" stop-color="#58288c"/><stop offset="0.1136" stop-color="#5c359a"/><stop offset="0.1351" stop-color="#5e53ae"/><stop offset="0.1664" stop-color="#6171b9"/><stop offset="0.2200" stop-color="#698abf"/><stop offset="0.3766" stop-color="#82a7c3"/><stop offset="0.6118" stop-color="#9ebbc9"/><stop offset="1.0000" stop-color="#b4c7cf"/></linearGradient><linearGradient id="g41" x2="0" y2="1"><stop offset="0.0000" stop-color="#e0dae0"/><stop offset="0.0635" stop-color="#e0dadf"/><stop offset="0.0653" stop-color="#ded6d7"/><stop offset="0.0662" stop-color="#dcd0ce"/><stop offset="0.0680" stop-color="#d4bcad"/><stop offset="0.0707" stop-color="#c78f72"/><stop offset="0.0716" stop-color="#c37d63"/><stop offset="0.0725" stop-color="#bc6b59"/><stop offset="0.0742" stop-color="#a94950"/><stop offset="0.0760" stop-color="#8f2d50"/><stop offset="0.0778" stop-color="#6f1c4e"/><stop offset="0.0796" stop-color="#4f1444"/><stop offset="0.0814" stop-color="#3b113a"/><stop offset="0.0841" stop-color="#301437"/><stop offset="0.0877" stop-color="#34113f"/><stop offset="0.0939" stop-color="#45135c"/><stop offset="0.0966" stop-color="#4c176b"/><stop offset="0.1073" stop-color="#59298e"/><stop offset="0.1145" stop-color="#5c369b"/><stop offset="0.1369" stop-color="#5f55af"/><stop offset="0.1673" stop-color="#6172ba"/><stop offset="0.2191" stop-color="#698abf"/><stop offset="0.3810" stop-color="#84a8c4"/><stop offset="0.6091" stop-color="#9ebbc9"/><stop offset="1.0000" stop-color="#b5c7cf"/></linearGradient><linearGradient id="g42" x2="0" y2="1"><stop offset="0.0000" stop-color="#e0dae0"/><stop offset="0.0644" stop-color="#e0dadf"/><stop offset="0.0662" stop-color="#ded6d7"/><stop offset="0.0671" stop-color="#dcd0ce"/><stop offset="0.0689" stop-color="#d4bcac"/><stop offset="0.0716" stop-color="#c78e71"/><stop offset="0.0725" stop-color="#c27b62"/><stop offset="0.0733" stop-color="#bb6958"/><stop offset="0.0751" stop-color="#a84750"/><stop offset="0.0769" stop-color="#8d2b50"/><stop offset="0.0787" stop-color="#6b1b4d"/><stop offset="0.0805" stop-color="#4d1443"/><stop offset="0.0823" stop-color="#39113a"/><stop offset="0.0850" stop-color="#2f1436"/><stop offset="0.0903" stop-color="#391147"/><stop offset="0.0975" stop-color="#4d176d"/><stop offset="0.1082" stop-color="#592a8f"/><stop offset="0.1136" stop-color="#5c359a"/><stop offset="0.1360" stop-color="#5f55af"/><stop offset="0.1682" stop-color="#6173ba"/><stop offset="0.2200" stop-color="#6a8bbf"/><stop offset="0.3873" stop-color="#85a9c4"/><stop offset="0.6136" stop-color="#9fbbc9"/><stop offset="1.0000" stop-color="#b5c7cf"/></linearGradient><linearGradient id="g43" x2="0" y2="1"><stop offset="0.0000" stop-color="#e0dae0"/><stop offset="0.0653" stop-color="#e0dadf"/><stop offset="0.0671" stop-color="#ded6d7"/><stop offset="0.0680" stop-color="#dcd0ce"/><stop offset="0.0698" stop-color="#d4bcac"/><stop offset="0.0725" stop-color="#c78c6f"/><stop offset="0.0733" stop-color="#c27a61"/><stop offset="0.0742" stop-color="#bb6757"/><stop offset="0.0760" stop-color="#a64550"/><stop offset="0.0778" stop-color="#8a2950"/><stop offset="0.0796" stop-color="#681a4d"/><stop offset="0.0814" stop-color="#491341"/><stop offset="0.0832" stop-color="#381139"/><stop offset="0.0859" stop-color="#2f1436"/><stop offset="0.0912" stop-color="#3a1149"/><stop offset="0.0975" stop-color="#4c176b"/><stop offset="0.1082" stop-color="#592a8f"/><stop offset="0.1145" stop-color="#5c369b"/><stop offset="0.1377" stop-color="#5f57b0"/><stop offset="0.1682" stop-color="#6275ba"/><stop offset="0.2191" stop-color="#6a8bbf"/><stop offset="0.3640" stop-color="#82a7c3"/><stop offset="0.6145" stop-color="#a0bcc9"/><stop offset="1.0000" stop-color="#b5c7cf"/></linearGradient><linearGradient id="g44" x2="0" y2="1"><stop offset="0.0000" stop-color="#e0dae0"/><stop offset="0.0662" stop-color="#e0dadf"/><stop offset="0.0680" stop-color="#ded6d7"/><stop offset="0.0689" stop-color="#dcd0ce"/><stop offset="0.0698" stop-color="#d8c7be"/><stop offset="0.0716" stop-color="#cfad96"/><stop offset="0.0733" stop-color="#c68a6e"/><stop offset="0.0742" stop-color="#c17860"/><stop offset="0.0751" stop-color="#ba6557"/><stop offset="0.0769" stop-color="#a54350"/><stop offset="0.0787" stop-color="#872750"/><stop offset="0.0805" stop-color="#64194c"/><stop offset="0.0823" stop-color="#471340"/><stop offset="0.0841" stop-color="#361139"/><stop offset="0.0868" stop-color="#2f1437"/><stop offset="0.0921" stop-color="#3b114a"/><stop offset="0.0984" stop-color="#4d176d"/><stop offset="0.1082" stop-color="#59298e"/><stop offset="0.1136" stop-color="#5c359a"/><stop offset="0.1369" stop-color="#5f57b0"/><stop offset="0.1691" stop-color="#6276ba"/><stop offset="0.2200" stop-color="#6b8cbf"/><stop offset="0.3515" stop-color="#80a5c3"/><stop offset="0.5886" stop-color="#9ebbc9"/><stop offset="1.0000" stop-color="#b5c7cf"/></linearGradient><linearGradient id="g45" x2="0" y2="1"><stop offset="0.0000" stop-color="#e0dae0"/><stop offset="0.0671" stop-color="#e0dae0"/><stop offset="0.0689" stop-color="#ded6d7"/><stop offset="0.0698" stop-color="#dcd0ce"/><stop offset="0.0707" stop-color="#d8c7be"/><stop offset="0.0725" stop-color="#ceac94"/><stop offset="0.0742" stop-color="#c6896c"/><stop offset="0.0751" stop-color="#c0765f"/><stop offset="0.0760" stop-color="#b96356"/><stop offset="0.0778" stop-color="#a34050"/><stop offset="0.0796" stop-color="#842550"/><stop offset="0.0814" stop-color="#61184b"/><stop offset="0.0832" stop-color="#44123f"/><stop offset="0.0850" stop-color="#351138"/><stop offset="0.0868" stop-color="#2f1436"/><stop offset="0.0912" stop-color="#371144"/><stop offset="0.0975" stop-color="#4a1667"/><stop offset="0.1047" stop-color="#562182"/><stop offset="0.1127" stop-color="#5c3499"/><stop offset="0.1360" stop-color="#5f55af"/><stop offset="0.1691" stop-color="#6277bb"/><stop offset="0.2182" stop-color="#6b8cbf"/><stop offset="0.3453" stop-color="#7fa4c3"/><stop offset="0.4159" stop-color="#89adc5"/><stop offset="0.6091" stop-color="#a0bcc9"/><stop offset="1.0000" stop-color="#b5c7cf"/></linearGradient><linearGradient id="g46" x2="0" y2="1"><stop offset="0.0000" stop-color="#e0dae0"/><stop offset="0.0680" stop-color="#e0dae0"/><stop offset="0.0698" stop-color="#ded6d8"/><stop offset="0.0707" stop-color="#dcd0ce"/><stop offset="0.0716" stop-color="#d8c7be"/><stop offset="0.0733" stop-color="#ceac94"/><stop offset="0.0751" stop-color="#c6896c"/><stop offset="0.0760" stop-color="#c0765e"/><stop offset="0.0769" stop-color="#b96356"/><stop offset="0.0787" stop-color="#a23f50"/><stop offset="0.0805" stop-color="#832550"/><stop offset="0.0823" stop-color="#5f184a"/><stop offset="0.0841" stop-color="#43123e"/><stop offset="0.0859" stop-color="#341238"/><stop offset="0.0877" stop-color="#2f1436"/><stop offset="0.0921" stop-color="#381145"/><stop offset="0.1002" stop-color="#4f1972"/><stop offset="0.1100" stop-color="#5a2d92"/><stop offset="0.1163" stop-color="#5d3a9e"/><stop offset="0.1404" stop-color="#5f5cb2"/><stop offset="0.1708" stop-color="#6378bb"/><stop offset="0.2200" stop-color="#6b8dbf"/><stop offset="0.3479" stop-color="#80a5c3"/><stop offset="0.4329" stop-color="#8cafc5"/><stop offset="0.6163" stop-color="#a1bdc9"/><stop offset="1.0000" stop-color="#b5c7cf"/></linearGradient><linearGradient id="g47" x2="0" y2="1"><stop offset="0.0000" stop-color="#e0dae0"/><stop offset="0.0689" stop-color="#e0dae0"/><stop offset="0.0707" stop-color="#dfd6d8"/><stop offset="0.0716" stop-color="#dcd1cf"/><stop offset="0.0733" stop-color="#d3bbab"/><stop offset="0.0751" stop-color="#ca9b7f"/><stop offset="0.0760" stop-color="#c6896c"/><stop offset="0.0769" stop-color="#c0765f"/><stop offset="0.0778" stop-color="#b96356"/><stop offset="0.0796" stop-color="#a13f50"/><stop offset="0.0814" stop-color="#832550"/><stop offset="0.0832" stop-color="#5f174a"/><stop offset="0.0850" stop-color="#42123e"/><stop offset="0.0868" stop-color="#341238"/><stop offset="0.0886" stop-color="#2f1436"/><stop offset="0.0930" stop-color="#391146"/><stop offset="0.1002" stop-color="#4f1971"/><stop offset="0.1100" stop-color="#5a2e93"/><stop offset="0.1172" stop-color="#5d3ca0"/><stop offset="0.1413" stop-color="#5f5eb3"/><stop offset="0.1717" stop-color="#637abb"/><stop offset="0.2218" stop-color="#6c8ebf"/><stop offset="0.3515" stop-color="#81a6c3"/><stop offset="0.4821" stop-color="#92b3c6"/><stop offset="0.6136" stop-color="#a1bdc9"/><stop offset="1.0000" stop-color="#b6c8cf"/></linearGradient><linearGradient id="g48" x2="0" y2="1"><stop offset="0.0000" stop-color="#e0dae0"/><stop offset="0.0698" stop-color="#e0dae0"/><stop offset="0.0716" stop-color="#dfd7d8"/><stop offset="0.0725" stop-color="#dcd1cf"/><stop offset="0.0733" stop-color="#d9c8c0"/><stop offset="0.0751" stop-color="#cfad96"/><stop offset="0.0769" stop-color="#c6896d"/><stop offset="0.0778" stop-color="#c0765f"/><stop offset="0.0787" stop-color="#b96356"/><stop offset="0.0805" stop-color="#a13f50"/><stop offset="0.0823" stop-color="#822450"/><stop offset="0.0841" stop-color="#5d1749"/><stop offset="0.0859" stop-color="#41123d"/><stop offset="0.0877" stop-color="#341238"/><stop offset="0.0894" stop-color="#2f1436"/><stop offset="0.0939" stop-color="#3a1148"/><stop offset="0.1011" stop-color="#501a74"/><stop offset="0.1091" stop-color="#5a2b90"/><stop offset="0.1172" stop-color="#5d3da1"/><stop offset="0.1422" stop-color="#5f60b4"/><stop offset="0.1726" stop-color="#637bbc"/><stop offset="0.2236" stop-color="#6c8fbf"/><stop offset="0.3605" stop-color="#83a8c4"/><stop offset="0.6082" stop-color="#a1bdc9"/><stop offset="1.0000" stop-color="#b6c8cf"/></linearGradient><linearGradient id="g49" x2="0" y2="1"><stop offset="0.0000" stop-color="#e0dae0"/><stop offset="0.0707" stop-color="#e0dae0"/><stop offset="0.0725" stop-color="#dfd7d9"/><stop offset="0.0733" stop-color="#ddd1d0"/><stop offset="0.0742" stop-color="#d9c8c1"/><stop offset="0.0760" stop-color="#cfad96"/><stop offset="0.0778" stop-color="#c68a6d"/><stop offset="0.0787" stop-color="#c0765f"/><stop offset="0.0796" stop-color="#b96356"/><stop offset="0.0814" stop-color="#a13f50"/><stop offset="0.0832" stop-color="#812450"/><stop offset="0.0850" stop-color="#5d1749"/><stop offset="0.0859" stop-color="#4d1443"/><stop offset="0.0877" stop-color="#381139"/><stop offset="0.0903" stop-color="#2f1437"/><stop offset="0.0948" stop-color="#3a1149"/><stop offset="0.1020" stop-color="#511b76"/><stop offset="0.1091" stop-color="#5a2c91"/><stop offset="0.1181" stop-color="#5d40a2"/><stop offset="0.1431" stop-color="#5f62b4"/><stop offset="0.1735" stop-color="#647cbc"/><stop offset="0.2245" stop-color="#6d90c0"/><stop offset="0.3640" stop-color="#84a9c4"/><stop offset="0.6172" stop-color="#a3beca"/><stop offset="1.0000" stop-color="#b6c8cf"/></linearGradient><linearGradient id="g50" x2="0" y2="1"><stop offset="0.0000" stop-color="#e0dae0"/><stop offset="0.0716" stop-color="#e0dae0"/><stop offset="0.0733" stop-color="#dfd7d9"/><stop offset="0.0742" stop-color="#ddd2d0"/><stop offset="0.0751" stop-color="#d9c9c2"/><stop offset="0.0769" stop-color="#cfae97"/><stop offset="0.0787" stop-color="#c68a6d"/><stop offset="0.0796" stop-color="#c0765f"/><stop offset="0.0805" stop-color="#b96356"/><stop offset="0.0823" stop-color="#a13e50"/><stop offset="0.0841" stop-color="#812350"/><stop offset="0.0859" stop-color="#5c1749"/><stop offset="0.0877" stop-color="#40123d"/><stop offset="0.0894" stop-color="#331237"/><stop offset="0.0912" stop-color="#2f1437"/><stop offset="0.0957" stop-color="#3b114a"/><stop offset="0.1029" stop-color="#521c79"/><stop offset="0.1100" stop-color="#5b2f94"/><stop offset="0.1199" stop-color="#5e43a5"/><stop offset="0.1449" stop-color="#5f65b5"/><stop offset="0.1753" stop-color="#647ebc"/><stop offset="0.2272" stop-color="#6e91c0"/><stop offset="0.3971" stop-color="#89adc5"/><stop offset="0.6136" stop-color="#a3beca"/><stop offset="1.0000" stop-color="#b6c8cf"/></linearGradient><linearGradient id="g51" x2="0" y2="1"><stop offset="0.0000" stop-color="#e0dae0"/><stop offset="0.0725" stop-color="#e0dae0"/><stop offset="0.0742" stop-color="#dfd7da"/><stop offset="0.0751" stop-color="#ddd2d1"/><stop offset="0.0760" stop-color="#d9c9c2"/><stop offset="0.0778" stop-color="#cfae97"/><stop offset="0.0796" stop-color="#c68a6d"/><stop offset="0.0805" stop-color="#c0765f"/><stop offset="0.0814" stop-color="#b96356"/><stop offset="0.0832" stop-color="#a13e50"/><stop offset="0.0850" stop-color="#802350"/><stop offset="0.0868" stop-color="#5b1749"/><stop offset="0.0886" stop-color="#3f123d"/><stop offset="0.0903" stop-color="#331237"/><stop offset="0.0921" stop-color="#2f1437"/><stop offset="0.0957" stop-color="#391146"/><stop offset="0.1020" stop-color="#4f1971"/><stop offset="0.1055" stop-color="#562284"/><stop offset="0.1118" stop-color="#5c3499"/><stop offset="0.1208" stop-color="#5e45a6"/><stop offset="0.1431" stop-color="#5f65b5"/><stop offset="0.1762" stop-color="#657fbd"/><stop offset="0.2281" stop-color="#6e92c0"/><stop offset="0.4016" stop-color="#8aaec5"/><stop offset="0.6127" stop-color="#a3beca"/><stop offset="1.0000" stop-color="#b7c8d0"/></linearGradient><linearGradient id="g52" x2="0" y2="1"><stop offset="0.0000" stop-color="#e0dae0"/><stop offset="0.0733" stop-color="#e0dae0"/><stop offset="0.0751" stop-color="#dfd7da"/><stop offset="0.0760" stop-color="#ddd2d1"/><stop offset="0.0769" stop-color="#dacac3"/><stop offset="0.0787" stop-color="#cfaf99"/><stop offset="0.0805" stop-color="#c68a6e"/><stop offset="0.0814" stop-color="#c0765f"/><stop offset="0.0823" stop-color="#b96356"/><stop offset="0.0841" stop-color="#a03e50"/><stop offset="0.0859" stop-color="#7f2350"/><stop offset="0.0877" stop-color="#5b1648"/><stop offset="0.0886" stop-color="#4b1342"/><stop offset="0.0903" stop-color="#371139"/><stop offset="0.0921" stop-color="#301437"/><stop offset="0.0939" stop-color="#32123a"/><stop offset="0.0975" stop-color="#3d114d"/><stop offset="0.1038" stop-color="#521c7a"/><stop offset="0.1109" stop-color="#5b3297"/><stop offset="0.1199" stop-color="#5e45a6"/><stop offset="0.1431" stop-color="#6066b6"/><stop offset="0.1771" stop-color="#6580bd"/><stop offset="0.2308" stop-color="#6f93c0"/><stop offset="0.3998" stop-color="#8aaec5"/><stop offset="0.6172" stop-color="#a4beca"/><stop offset="1.0000" stop-color="#b7c9d0"/></linearGradient><linearGradient id="g53" x2="0" y2="1"><stop offset="0.0000" stop-color="#e0dae0"/><stop offset="0.0751" stop-color="#e0dadf"/><stop offset="0.0769" stop-color="#ddd3d2"/><stop offset="0.0778" stop-color="#dacac4"/><stop offset="0.0796" stop-color="#cfaf99"/><stop offset="0.0814" stop-color="#c68b6e"/><stop offset="0.0823" stop-color="#c1765f"/><stop offset="0.0832" stop-color="#b96356"/><stop offset="0.0850" stop-color="#a03e50"/><stop offset="0.0859" stop-color="#902e50"/><stop offset="0.0877" stop-color="#6c1b4e"/><stop offset="0.0894" stop-color="#4a1342"/><stop offset="0.0903" stop-color="#3e113c"/><stop offset="0.0921" stop-color="#331237"/><stop offset="0.0939" stop-color="#301437"/><stop offset="0.0975" stop-color="#3a1148"/><stop offset="0.1038" stop-color="#511b76"/><stop offset="0.1082" stop-color="#59288d"/><stop offset="0.1127" stop-color="#5c379b"/><stop offset="0.1225" stop-color="#5e49a9"/><stop offset="0.1440" stop-color="#6068b6"/><stop offset="0.1789" stop-color="#6682bd"/><stop offset="0.2317" stop-color="#7094c0"/><stop offset="0.4043" stop-color="#8cafc5"/><stop offset="0.6118" stop-color="#a4beca"/><stop offset="1.0000" stop-color="#b8c9d0"/></linearGradient><linearGradient id="g54" x2="0" y2="1"><stop offset="0.0000" stop-color="#e0dae0"/><stop offset="0.0760" stop-color="#e0dadf"/><stop offset="0.0778" stop-color="#ddd3d3"/><stop offset="0.0787" stop-color="#dacbc5"/><stop offset="0.0805" stop-color="#cfb09a"/><stop offset="0.0823" stop-color="#c68b6e"/><stop offset="0.0832" stop-color="#c1775f"/><stop offset="0.0841" stop-color="#b96356"/><stop offset="0.0859" stop-color="#a03d50"/><stop offset="0.0877" stop-color="#7e2250"/><stop offset="0.0894" stop-color="#591648"/><stop offset="0.0903" stop-color="#491341"/><stop offset="0.0912" stop-color="#3e113c"/><stop offset="0.0930" stop-color="#321237"/><stop offset="0.0948" stop-color="#301437"/><stop offset="0.0993" stop-color="#3e1150"/><stop offset="0.1047" stop-color="#521c79"/><stop offset="0.1109" stop-color="#5b3196"/><stop offset="0.1163" stop-color="#5d3fa2"/><stop offset="0.1369" stop-color="#5f60b4"/><stop offset="0.1547" stop-color="#6172b9"/><stop offset="0.1816" stop-color="#6784be"/><stop offset="0.2352" stop-color="#7195c0"/><stop offset="0.4025" stop-color="#8cafc5"/><stop offset="0.6073" stop-color="#a4beca"/><stop offset="1.0000" stop-color="#b8c9d0"/></linearGradient><linearGradient id="g55" x2="0" y2="1"><stop offset="0.0000" stop-color="#e0dae0"/><stop offset="0.0769" stop-color="#e0dadf"/><stop offset="0.0787" stop-color="#ded4d4"/><stop offset="0.0796" stop-color="#dacbc6"/><stop offset="0.0814" stop-color="#d0b09b"/><stop offset="0.0832" stop-color="#c68b6e"/><stop offset="0.0841" stop-color="#c1775f"/><stop offset="0.0850" stop-color="#b86256"/><stop offset="0.0868" stop-color="#a03d50"/><stop offset="0.0877" stop-color="#8f2d50"/><stop offset="0.0894" stop-color="#6b1b4d"/><stop offset="0.0912" stop-color="#481341"/><stop offset="0.0930" stop-color="#361138"/><stop offset="0.0948" stop-color="#2f1436"/><stop offset="0.0975" stop-color="#351140"/><stop offset="0.1011" stop-color="#431359"/><stop offset="0.1064" stop-color="#552081"/><stop offset="0.1127" stop-color="#5c379c"/><stop offset="0.1225" stop-color="#5e4caa"/><stop offset="0.1449" stop-color="#606bb7"/><stop offset="0.1807" stop-color="#6785be"/><stop offset="0.2326" stop-color="#7195c0"/><stop offset="0.3998" stop-color="#8cafc5"/><stop offset="0.6145" stop-color="#a6bfca"/><stop offset="1.0000" stop-color="#b8c9d0"/></linearGradient><linearGradient id="g56" x2="0" y2="1"><stop offset="0.0000" stop-color="#e0dae0"/><stop offset="0.0778" stop-color="#e0dadf"/><stop offset="0.0796" stop-color="#ded4d4"/><stop offset="0.0805" stop-color="#daccc6"/><stop offset="0.0823" stop-color="#d0b19b"/><stop offset="0.0841" stop-color="#c78c6f"/><stop offset="0.0850" stop-color="#c1775f"/><stop offset="0.0859" stop-color="#b86256"/><stop offset="0.0877" stop-color="#a03d50"/><stop offset="0.0886" stop-color="#8f2d50"/><stop offset="0.0903" stop-color="#691a4d"/><stop offset="0.0921" stop-color="#481341"/><stop offset="0.0930" stop-color="#3c113b"/><stop offset="0.0948" stop-color="#321337"/><stop offset="0.0966" stop-color="#301338"/><stop offset="0.1002" stop-color="#3c114c"/><stop offset="0.1055" stop-color="#511b77"/><stop offset="0.1091" stop-color="#59288d"/><stop offset="0.1145" stop-color="#5d3da0"/><stop offset="0.1297" stop-color="#5f58b0"/><stop offset="0.1467" stop-color="#606eb8"/><stop offset="0.1834" stop-color="#6887be"/><stop offset="0.2379" stop-color="#7297c1"/><stop offset="0.4061" stop-color="#8db0c5"/><stop offset="0.6100" stop-color="#a6bfca"/><stop offset="1.0000" stop-color="#b9c9d0"/></linearGradient><linearGradient id="g57" x2="0" y2="1"><stop offset="0.0000" stop-color="#e0dae0"/><stop offset="0.0787" stop-color="#e0dadf"/><stop offset="0.0805" stop-color="#ded4d5"/><stop offset="0.0814" stop-color="#dbccc7"/><stop offset="0.0832" stop-color="#d0b29c"/><stop offset="0.0850" stop-color="#c78c6f"/><stop offset="0.0859" stop-color="#c1775f"/><stop offset="0.0868" stop-color="#b86256"/><stop offset="0.0886" stop-color="#9f3c50"/><stop offset="0.0894" stop-color="#8f2d50"/><stop offset="0.0912" stop-color="#691a4d"/><stop offset="0.0930" stop-color="#471340"/><stop offset="0.0939" stop-color="#3c113b"/><stop offset="0.0957" stop-color="#311337"/><stop offset="0.0975" stop-color="#311339"/><stop offset="0.1011" stop-color="#3d114e"/><stop offset="0.1064" stop-color="#531d7a"/><stop offset="0.1118" stop-color="#5b3196"/><stop offset="0.1163" stop-color="#5d41a3"/><stop offset="0.1333" stop-color="#5f5eb3"/><stop offset="0.1476" stop-color="#6170b9"/><stop offset="0.1860" stop-color="#6989be"/><stop offset="0.2415" stop-color="#7398c1"/><stop offset="0.4097" stop-color="#8eb1c5"/><stop offset="0.6064" stop-color="#a6bfca"/><stop offset="1.0000" stop-color="#b9c9d0"/></linearGradient><linearGradient id="g58" x2="0" y2="1"><stop offset="0.0000" stop-color="#e0dae0"/><stop offset="0.0796" stop-color="#e0dadf"/><stop offset="0.0814" stop-color="#ded5d5"/><stop offset="0.0823" stop-color="#dbcdc8"/><stop offset="0.0832" stop-color="#d6c1b4"/><stop offset="0.0850" stop-color="#cba085"/><stop offset="0.0859" stop-color="#c78c6f"/><stop offset="0.0868" stop-color="#c1775f"/><stop offset="0.0877" stop-color="#b86256"/><stop offset="0.0894" stop-color="#9f3c50"/><stop offset="0.0903" stop-color="#8e2c50"/><stop offset="0.0912" stop-color="#7b2150"/><stop offset="0.0930" stop-color="#561546"/><stop offset="0.0939" stop-color="#461240"/><stop offset="0.0948" stop-color="#3b113b"/><stop offset="0.0966" stop-color="#311337"/><stop offset="0.0984" stop-color="#311339"/><stop offset="0.1020" stop-color="#3e1150"/><stop offset="0.1064" stop-color="#511b76"/><stop offset="0.1100" stop-color="#59288d"/><stop offset="0.1154" stop-color="#5d3fa2"/><stop offset="0.1297" stop-color="#5f59b1"/><stop offset="0.1458" stop-color="#6170b9"/><stop offset="0.1860" stop-color="#698abf"/><stop offset="0.2487" stop-color="#759ac1"/><stop offset="0.4079" stop-color="#8eb1c5"/><stop offset="0.6127" stop-color="#a7c0cb"/><stop offset="1.0000" stop-color="#b9c9d0"/></linearGradient><linearGradient id="g59" x2="0" y2="1"><stop offset="0.0000" stop-color="#e0dae0"/><stop offset="0.0805" stop-color="#e0dae0"/><stop offset="0.0823" stop-color="#ded5d6"/><stop offset="0.0832" stop-color="#dbcdc9"/><stop offset="0.0850" stop-color="#d0b39e"/><stop offset="0.0868" stop-color="#c78c70"/><stop offset="0.0877" stop-color="#c1775f"/><stop offset="0.0886" stop-color="#b86256"/><stop offset="0.0903" stop-color="#9f3c50"/><stop offset="0.0912" stop-color="#8e2c50"/><stop offset="0.0930" stop-color="#67194c"/><stop offset="0.0948" stop-color="#461240"/><stop offset="0.0957" stop-color="#3a113a"/><stop offset="0.0975" stop-color="#311337"/><stop offset="0.0993" stop-color="#31123a"/><stop offset="0.1020" stop-color="#3b114a"/><stop offset="0.1064" stop-color="#4f1972"/><stop offset="0.1109" stop-color="#592a8f"/><stop offset="0.1163" stop-color="#5d42a4"/><stop offset="0.1324" stop-color="#5f5fb3"/><stop offset="0.1485" stop-color="#6173ba"/><stop offset="0.1887" stop-color="#6b8cbf"/><stop offset="0.2558" stop-color="#769cc1"/><stop offset="0.4141" stop-color="#8fb1c6"/><stop offset="0.6082" stop-color="#a7c0cb"/><stop offset="1.0000" stop-color="#b9c9d0"/></linearGradient><linearGradient id="g60" x2="0" y2="1"><stop offset="0.0000" stop-color="#e0dae0"/><stop offset="0.0814" stop-color="#e0dae0"/><stop offset="0.0832" stop-color="#ded5d6"/><stop offset="0.0841" stop-color="#dbcec9"/><stop offset="0.0850" stop-color="#d6c2b6"/><stop offset="0.0868" stop-color="#cca186"/><stop offset="0.0877" stop-color="#c78d70"/><stop offset="0.0886" stop-color="#c1775f"/><stop offset="0.0894" stop-color="#b86256"/><stop offset="0.0912" stop-color="#9f3c50"/><stop offset="0.0930" stop-color="#7a2050"/><stop offset="0.0948" stop-color="#541546"/><stop offset="0.0957" stop-color="#44123f"/><stop offset="0.0966" stop-color="#3a113a"/><stop offset="0.0984" stop-color="#311337"/><stop offset="0.1002" stop-color="#32123a"/><stop offset="0.1029" stop-color="#3c114b"/><stop offset="0.1073" stop-color="#501a75"/><stop offset="0.1118" stop-color="#5a2c91"/><stop offset="0.1172" stop-color="#5e45a6"/><stop offset="0.1342" stop-color="#5f62b4"/><stop offset="0.1485" stop-color="#6275ba"/><stop offset="0.1896" stop-color="#6b8dbf"/><stop offset="0.2621" stop-color="#789ec2"/><stop offset="0.4204" stop-color="#91b2c6"/><stop offset="0.6029" stop-color="#a7c0cb"/><stop offset="1.0000" stop-color="#bacad0"/></linearGradient><linearGradient id="g61" x2="0" y2="1"><stop offset="0.0000" stop-color="#e0dae0"/><stop offset="0.0823" stop-color="#e0dae0"/><stop offset="0.0841" stop-color="#ded6d7"/><stop offset="0.0850" stop-color="#dccecb"/><stop offset="0.0859" stop-color="#d7c3b8"/><stop offset="0.0877" stop-color="#cca186"/><stop offset="0.0886" stop-color="#c78e71"/><stop offset="0.0894" stop-color="#c17860"/><stop offset="0.0903" stop-color="#b86255"/><stop offset="0.0921" stop-color="#9e3b50"/><stop offset="0.0930" stop-color="#8d2b50"/><stop offset="0.0939" stop-color="#7a2050"/><stop offset="0.0957" stop-color="#531545"/><stop offset="0.0966" stop-color="#44123f"/><stop offset="0.0975" stop-color="#3a113a"/><stop offset="0.0993" stop-color="#311337"/><stop offset="0.1011" stop-color="#32123a"/><stop offset="0.1038" stop-color="#3c114d"/><stop offset="0.1082" stop-color="#511b77"/><stop offset="0.1127" stop-color="#5a2e93"/><stop offset="0.1181" stop-color="#5e47a7"/><stop offset="0.1351" stop-color="#5f65b5"/><stop offset="0.1494" stop-color="#6277bb"/><stop offset="0.1932" stop-color="#6c8fbf"/><stop offset="0.2853" stop-color="#7da3c3"/><stop offset="0.4490" stop-color="#95b5c7"/><stop offset="0.6109" stop-color="#a9c1cb"/><stop offset="1.0000" stop-color="#bacad1"/></linearGradient><linearGradient id="g62" x2="0" y2="1"><stop offset="0.0000" stop-color="#e0dae0"/><stop offset="0.0832" stop-color="#e0dae0"/><stop offset="0.0850" stop-color="#ded6d7"/><stop offset="0.0859" stop-color="#dccfcb"/><stop offset="0.0868" stop-color="#d7c3b8"/><stop offset="0.0886" stop-color="#cca287"/><stop offset="0.0894" stop-color="#c78e71"/><stop offset="0.0903" stop-color="#c17860"/><stop offset="0.0912" stop-color="#b86255"/><stop offset="0.0930" stop-color="#9e3b50"/><stop offset="0.0948" stop-color="#792050"/><stop offset="0.0966" stop-color="#521545"/><stop offset="0.0975" stop-color="#43123e"/><stop offset="0.0984" stop-color="#39113a"/><stop offset="0.1002" stop-color="#301437"/><stop offset="0.1011" stop-color="#2f1437"/><stop offset="0.1038" stop-color="#391146"/><stop offset="0.1073" stop-color="#4b1669"/><stop offset="0.1109" stop-color="#572487"/><stop offset="0.1163" stop-color="#5d3da1"/><stop offset="0.1190" stop-color="#5e4aa9"/><stop offset="0.1413" stop-color="#616fb9"/><stop offset="0.1521" stop-color="#637abb"/><stop offset="0.1941" stop-color="#6d90c0"/><stop offset="0.2889" stop-color="#7ea4c3"/><stop offset="0.4562" stop-color="#96b6c7"/><stop offset="0.6055" stop-color="#a9c1cb"/><stop offset="1.0000" stop-color="#bbcad1"/></linearGradient><linearGradient id="g63" x2="0" y2="1"><stop offset="0.0000" stop-color="#e0dae0"/><stop offset="0.0841" stop-color="#e0dae0"/><stop offset="0.0859" stop-color="#dfd6d8"/><stop offset="0.0868" stop-color="#dccfcc"/><stop offset="0.0877" stop-color="#d7c4b9"/><stop offset="0.0894" stop-color="#cca287"/><stop offset="0.0903" stop-color="#c78e71"/><stop offset="0.0912" stop-color="#c17860"/><stop offset="0.0921" stop-color="#b86255"/><stop offset="0.0939" stop-color="#9e3b50"/><stop offset="0.0948" stop-color="#8c2b50"/><stop offset="0.0957" stop-color="#781f50"/><stop offset="0.0975" stop-color="#511445"/><stop offset="0.0984" stop-color="#42123e"/><stop offset="0.0993" stop-color="#39113a"/><stop offset="0.1011" stop-color="#301437"/><stop offset="0.1020" stop-color="#301437"/><stop offset="0.1047" stop-color="#3a1148"/><stop offset="0.1082" stop-color="#4c176b"/><stop offset="0.1100" stop-color="#531e7c"/><stop offset="0.1145" stop-color="#5b3298"/><stop offset="0.1199" stop-color="#5e4dab"/><stop offset="0.1440" stop-color="#6173ba"/><stop offset="0.1574" stop-color="#647ebc"/><stop offset="0.1977" stop-color="#6e92c0"/><stop offset="0.3113" stop-color="#82a7c3"/><stop offset="0.5349" stop-color="#a1bdc9"/><stop offset="0.6225" stop-color="#aac2cc"/><stop offset="1.0000" stop-color="#bbcad1"/></linearGradient><linearGradient id="g64" x2="0" y2="1"><stop offset="0.0000" stop-color="#e0dae0"/><stop offset="0.0850" stop-color="#e0dae0"/><stop offset="0.0868" stop-color="#dfd6d8"/><stop offset="0.0877" stop-color="#dcd0cd"/><stop offset="0.0886" stop-color="#d7c4ba"/><stop offset="0.0903" stop-color="#cca389"/><stop offset="0.0912" stop-color="#c78f72"/><stop offset="0.0921" stop-color="#c17960"/><stop offset="0.0930" stop-color="#b86255"/><stop offset="0.0948" stop-color="#9d3a50"/><stop offset="0.0957" stop-color="#8c2a50"/><stop offset="0.0966" stop-color="#781f4f"/><stop offset="0.0984" stop-color="#501444"/><stop offset="0.0993" stop-color="#41123e"/><stop offset="0.1002" stop-color="#381139"/><stop offset="0.1020" stop-color="#301437"/><stop offset="0.1029" stop-color="#301437"/><stop offset="0.1055" stop-color="#3a1149"/><stop offset="0.1091" stop-color="#4e186e"/><stop offset="0.1118" stop-color="#572385"/><stop offset="0.1163" stop-color="#5c399e"/><stop offset="0.1208" stop-color="#5e50ac"/><stop offset="0.1458" stop-color="#6277bb"/><stop offset="0.1860" stop-color="#6c8fbf"/><stop offset="0.2835" stop-color="#7fa5c3"/><stop offset="0.4902" stop-color="#9cb9c8"/><stop offset="0.6100" stop-color="#aac2cc"/><stop offset="1.0000" stop-color="#bbcad1"/></linearGradient><linearGradient id="g65" x2="0" y2="1"><stop offset="0.0000" stop-color="#e0dae0"/><stop offset="0.0859" stop-color="#e0dae0"/><stop offset="0.0877" stop-color="#dfd7d9"/><stop offset="0.0886" stop-color="#dcd0ce"/><stop offset="0.0894" stop-color="#d8c5bb"/><stop offset="0.0912" stop-color="#cca389"/><stop offset="0.0921" stop-color="#c78f72"/><stop offset="0.0930" stop-color="#c17960"/><stop offset="0.0939" stop-color="#b86255"/><stop offset="0.0957" stop-color="#9d3a50"/><stop offset="0.0966" stop-color="#8b2a50"/><stop offset="0.0975" stop-color="#761f4f"/><stop offset="0.0993" stop-color="#4f1444"/><stop offset="0.1002" stop-color="#41123d"/><stop offset="0.1011" stop-color="#371139"/><stop offset="0.1029" stop-color="#301436"/><stop offset="0.1047" stop-color="#33113d"/><stop offset="0.1073" stop-color="#401253"/><stop offset="0.1109" stop-color="#531d7a"/><stop offset="0.1154" stop-color="#5b3297"/><stop offset="0.1208" stop-color="#5e4eab"/><stop offset="0.1234" stop-color="#5f55af"/><stop offset="0.1494" stop-color="#647cbc"/><stop offset="0.1986" stop-color="#7094c0"/><stop offset="0.3113" stop-color="#84a8c4"/><stop offset="0.5796" stop-color="#a9c1cb"/><stop offset="1.0000" stop-color="#bbcbd1"/></linearGradient><linearGradient id="g66" x2="0" y2="1"><stop offset="0.0000" stop-color="#e0dae0"/><stop offset="0.0868" stop-color="#e0dae0"/><stop offset="0.0886" stop-color="#dfd7d9"/><stop offset="0.0894" stop-color="#dcd1cf"/><stop offset="0.0903" stop-color="#d8c6bc"/><stop offset="0.0921" stop-color="#cca48a"/><stop offset="0.0930" stop-color="#c78f72"/><stop offset="0.0939" stop-color="#c17960"/><stop offset="0.0948" stop-color="#b86255"/><stop offset="0.0966" stop-color="#9d3a50"/><stop offset="0.0975" stop-color="#8b2a50"/><stop offset="0.0984" stop-color="#761f4f"/><stop offset="0.1002" stop-color="#4e1443"/><stop offset="0.1011" stop-color="#40123d"/><stop offset="0.1020" stop-color="#371139"/><stop offset="0.1038" stop-color="#2f1436"/><stop offset="0.1055" stop-color="#34113d"/><stop offset="0.1082" stop-color="#411254"/><stop offset="0.1118" stop-color="#541e7d"/><stop offset="0.1163" stop-color="#5c3499"/><stop offset="0.1216" stop-color="#5e51ad"/><stop offset="0.1243" stop-color="#5f58b0"/><stop offset="0.1503" stop-color="#647ebc"/><stop offset="0.1995" stop-color="#7195c0"/><stop offset="0.3131" stop-color="#85a9c4"/><stop offset="0.5966" stop-color="#aac2cc"/><stop offset="1.0000" stop-color="#bccbd1"/></linearGradient><linearGradient id="g67" x2="0" y2="1"><stop offset="0.0000" stop-color="#e0dae0"/><stop offset="0.0886" stop-color="#e0dadf"/><stop offset="0.0894" stop-color="#dfd7da"/><stop offset="0.0903" stop-color="#dcd1cf"/><stop offset="0.0912" stop-color="#d8c6bd"/><stop offset="0.0930" stop-color="#cca58b"/><stop offset="0.0939" stop-color="#c89073"/><stop offset="0.0948" stop-color="#c17960"/><stop offset="0.0957" stop-color="#b86255"/><stop offset="0.0966" stop-color="#ac4c50"/><stop offset="0.0984" stop-color="#8a2950"/><stop offset="0.0993" stop-color="#751e4f"/><stop offset="0.1011" stop-color="#4d1443"/><stop offset="0.1020" stop-color="#3f123d"/><stop offset="0.1029" stop-color="#361139"/><stop offset="0.1047" stop-color="#2f1436"/><stop offset="0.1064" stop-color="#34113e"/><stop offset="0.1091" stop-color="#421256"/><stop offset="0.1127" stop-color="#551f7f"/><stop offset="0.1172" stop-color="#5c369b"/><stop offset="0.1234" stop-color="#5f58b0"/><stop offset="0.1512" stop-color="#6580bd"/><stop offset="0.2030" stop-color="#7297c1"/><stop offset="0.3166" stop-color="#86aac4"/><stop offset="0.6020" stop-color="#abc2cc"/><stop offset="1.0000" stop-color="#bccbd1"/></linearGradient><linearGradient id="g68" x2="0" y2="1"><stop offset="0.0000" stop-color="#e0dae0"/><stop offset="0.0894" stop-color="#e0dadf"/><stop offset="0.0903" stop-color="#dfd7da"/><stop offset="0.0912" stop-color="#ddd1d0"/><stop offset="0.0921" stop-color="#d8c6be"/><stop offset="0.0939" stop-color="#cca58b"/><stop offset="0.0948" stop-color="#c89073"/><stop offset="0.0957" stop-color="#c27961"/><stop offset="0.0966" stop-color="#b96356"/><stop offset="0.0975" stop-color="#ac4d51"/><stop offset="0.0993" stop-color="#8a2950"/><stop offset="0.1002" stop-color="#751e4f"/><stop offset="0.1020" stop-color="#4d1443"/><stop offset="0.1029" stop-color="#3f123d"/><stop offset="0.1038" stop-color="#361139"/><stop offset="0.1055" stop-color="#2f1436"/><stop offset="0.1073" stop-color="#34113f"/><stop offset="0.1100" stop-color="#431358"/><stop offset="0.1136" stop-color="#552081"/><stop offset="0.1181" stop-color="#5c389d"/><stop offset="0.1234" stop-color="#5f57b0"/><stop offset="0.1404" stop-color="#6172ba"/><stop offset="0.1530" stop-color="#6682bd"/><stop offset="0.2039" stop-color="#7398c1"/><stop offset="0.3175" stop-color="#87abc4"/><stop offset="0.6029" stop-color="#acc2cc"/><stop offset="1.0000" stop-color="#bccbd1"/></linearGradient><linearGradient id="g69" x2="0" y2="1"><stop offset="0.0000" stop-color="#e0dae0"/><stop offset="0.0903" stop-color="#e0dadf"/><stop offset="0.0912" stop-color="#dfd8da"/><stop offset="0.0921" stop-color="#ddd2d0"/><stop offset="0.0930" stop-color="#d8c7be"/><stop offset="0.0948" stop-color="#cda68c"/><stop offset="0.0957" stop-color="#c89073"/><stop offset="0.0966" stop-color="#c27a61"/><stop offset="0.0975" stop-color="#b96356"/><stop offset="0.0984" stop-color="#ac4d51"/><stop offset="0.1002" stop-color="#8b2a50"/><stop offset="0.1011" stop-color="#751e4f"/><stop offset="0.1029" stop-color="#4e1443"/><stop offset="0.1038" stop-color="#3f123d"/><stop offset="0.1047" stop-color="#361139"/><stop offset="0.1064" stop-color="#2f1436"/><stop offset="0.1082" stop-color="#34113f"/><stop offset="0.1109" stop-color="#431359"/><stop offset="0.1145" stop-color="#562284"/><stop offset="0.1190" stop-color="#5d3c9f"/><stop offset="0.1252" stop-color="#5f5bb2"/><stop offset="0.1521" stop-color="#6682bd"/><stop offset="0.2048" stop-color="#7499c1"/><stop offset="0.3184" stop-color="#88acc4"/><stop offset="0.5993" stop-color="#acc2cc"/><stop offset="1.0000" stop-color="#bdcbd2"/></linearGradient><linearGradient id="g70" x2="0" y2="1"><stop offset="0.0000" stop-color="#e0dae0"/><stop offset="0.0912" stop-color="#e0dadf"/><stop offset="0.0921" stop-color="#dfd8da"/><stop offset="0.0930" stop-color="#ddd2d0"/><stop offset="0.0939" stop-color="#d8c7be"/><stop offset="0.0957" stop-color="#cda68c"/><stop offset="0.0966" stop-color="#c89174"/><stop offset="0.0975" stop-color="#c27a61"/><stop offset="0.0984" stop-color="#b96356"/><stop offset="0.0993" stop-color="#ac4d51"/><stop offset="0.1011" stop-color="#8b2a50"/><stop offset="0.1020" stop-color="#761f4f"/><stop offset="0.1038" stop-color="#4e1443"/><stop offset="0.1047" stop-color="#3f123d"/><stop offset="0.1055" stop-color="#371139"/><stop offset="0.1073" stop-color="#2f1436"/><stop offset="0.1091" stop-color="#34113f"/><stop offset="0.1118" stop-color="#44135b"/><stop offset="0.1145" stop-color="#541e7d"/><stop offset="0.1181" stop-color="#5c3398"/><stop offset="0.1225" stop-color="#5e4daa"/><stop offset="0.1261" stop-color="#5f5eb3"/><stop offset="0.1530" stop-color="#6683bd"/><stop offset="0.2066" stop-color="#759ac1"/><stop offset="0.3193" stop-color="#89adc5"/><stop offset="0.6082" stop-color="#adc3cd"/><stop offset="1.0000" stop-color="#beccd2"/></linearGradient><linearGradient id="g71" x2="0" y2="1"><stop offset="0.0000" stop-color="#e0dae0"/><stop offset="0.0921" stop-color="#e0dadf"/><stop offset="0.0930" stop-color="#dfd8da"/><stop offset="0.0939" stop-color="#ddd2d0"/><stop offset="0.0948" stop-color="#d9c7bf"/><stop offset="0.0966" stop-color="#cda68c"/><stop offset="0.0975" stop-color="#c89174"/><stop offset="0.0984" stop-color="#c27b62"/><stop offset="0.0993" stop-color="#b96456"/><stop offset="0.1002" stop-color="#ad4e51"/><stop offset="0.1020" stop-color="#8c2a50"/><stop offset="0.1029" stop-color="#761f4f"/><stop offset="0.1047" stop-color="#4e1443"/><stop offset="0.1055" stop-color="#40123d"/><stop offset="0.1064" stop-color="#371139"/><stop offset="0.1082" stop-color="#2f1436"/><stop offset="0.1091" stop-color="#311339"/><stop offset="0.1118" stop-color="#3f1251"/><stop offset="0.1145" stop-color="#501a75"/><stop offset="0.1163" stop-color="#572588"/><stop offset="0.1199" stop-color="#5d3c9f"/><stop offset="0.1261" stop-color="#5f5cb2"/><stop offset="0.1395" stop-color="#6172ba"/><stop offset="0.1565" stop-color="#6785be"/><stop offset="0.2075" stop-color="#769bc1"/><stop offset="0.3211" stop-color="#8aaec5"/><stop offset="0.6038" stop-color="#adc3cd"/><stop offset="1.0000" stop-color="#beccd2"/></linearGradient><linearGradient id="g72" x2="0" y2="1"><stop offset="0.0000" stop-color="#e0dae0"/><stop offset="0.0930" stop-color="#e0dadf"/><stop offset="0.0939" stop-color="#dfd8da"/><stop offset="0.0948" stop-color="#ddd2d1"/><stop offset="0.0957" stop-color="#d9c8c0"/><stop offset="0.0975" stop-color="#cda78d"/><stop offset="0.0984" stop-color="#c89275"/><stop offset="0.0993" stop-color="#c27b62"/><stop offset="0.1002" stop-color="#b96456"/><stop offset="0.1011" stop-color="#ad4e51"/><stop offset="0.1029" stop-color="#8c2a50"/><stop offset="0.1038" stop-color="#771f4f"/><stop offset="0.1055" stop-color="#4e1444"/><stop offset="0.1064" stop-color="#40123d"/><stop offset="0.1073" stop-color="#371139"/><stop offset="0.1091" stop-color="#2f1436"/><stop offset="0.1100" stop-color="#311339"/><stop offset="0.1118" stop-color="#3a1148"/><stop offset="0.1145" stop-color="#4c176b"/><stop offset="0.1172" stop-color="#58278a"/><stop offset="0.1208" stop-color="#5d3ea1"/><stop offset="0.1261" stop-color="#5f5ab1"/><stop offset="0.1297" stop-color="#5f64b5"/><stop offset="0.1476" stop-color="#647dbc"/><stop offset="0.1610" stop-color="#6888be"/><stop offset="0.2111" stop-color="#779dc2"/><stop offset="0.3292" stop-color="#8db0c5"/><stop offset="0.6020" stop-color="#adc3cd"/><stop offset="1.0000" stop-color="#beccd2"/></linearGradient><linearGradient id="g73" x2="0" y2="1"><stop offset="0.0000" stop-color="#e0dae0"/><stop offset="0.0939" stop-color="#e0dadf"/><stop offset="0.0948" stop-color="#dfd8da"/><stop offset="0.0957" stop-color="#ddd2d1"/><stop offset="0.0966" stop-color="#d9c8c0"/><stop offset="0.0984" stop-color="#cda78e"/><stop offset="0.0993" stop-color="#c89275"/><stop offset="0.1002" stop-color="#c27c62"/><stop offset="0.1011" stop-color="#ba6556"/><stop offset="0.1020" stop-color="#ad4f51"/><stop offset="0.1038" stop-color="#8c2b50"/><stop offset="0.1047" stop-color="#781f4f"/><stop offset="0.1064" stop-color="#4f1444"/><stop offset="0.1073" stop-color="#40123d"/><stop offset="0.1082" stop-color="#371139"/><stop offset="0.1100" stop-color="#2f1436"/><stop offset="0.1109" stop-color="#311339"/><stop offset="0.1136" stop-color="#401253"/><stop offset="0.1163" stop-color="#521c79"/><stop offset="0.1181" stop-color="#59288d"/><stop offset="0.1216" stop-color="#5d41a3"/><stop offset="0.1261" stop-color="#5f58b0"/><stop offset="0.1297" stop-color="#5f65b5"/><stop offset="0.1422" stop-color="#6277bb"/><stop offset="0.1592" stop-color="#6888be"/><stop offset="0.2147" stop-color="#799fc2"/><stop offset="0.3318" stop-color="#8eb1c5"/><stop offset="0.6029" stop-color="#aec4cd"/><stop offset="1.0000" stop-color="#bfccd3"/></linearGradient><linearGradient id="g74" x2="0" y2="1"><stop offset="0.0000" stop-color="#e0dae0"/><stop offset="0.0948" stop-color="#e0dadf"/><stop offset="0.0957" stop-color="#dfd8da"/><stop offset="0.0966" stop-color="#ddd2d1"/><stop offset="0.0975" stop-color="#d9c8c0"/><stop offset="0.0993" stop-color="#cda78e"/><stop offset="0.1002" stop-color="#c89275"/><stop offset="0.1011" stop-color="#c27c63"/><stop offset="0.1020" stop-color="#ba6557"/><stop offset="0.1029" stop-color="#ae5051"/><stop offset="0.1047" stop-color="#8d2b50"/><stop offset="0.1055" stop-color="#781f4f"/><stop offset="0.1073" stop-color="#4f1444"/><stop offset="0.1082" stop-color="#40123d"/><stop offset="0.1091" stop-color="#371139"/><stop offset="0.1109" stop-color="#2f1436"/><stop offset="0.1118" stop-color="#311339"/><stop offset="0.1136" stop-color="#3a1149"/><stop offset="0.1163" stop-color="#4e186f"/><stop offset="0.1181" stop-color="#572385"/><stop offset="0.1208" stop-color="#5c369b"/><stop offset="0.1243" stop-color="#5e4fac"/><stop offset="0.1297" stop-color="#5f65b5"/><stop offset="0.1422" stop-color="#6278bb"/><stop offset="0.1610" stop-color="#6989be"/><stop offset="0.2165" stop-color="#7aa0c2"/><stop offset="0.3327" stop-color="#8fb1c6"/><stop offset="0.5984" stop-color="#afc4cd"/><stop offset="1.0000" stop-color="#bfccd3"/></linearGradient><linearGradient id="g75" x2="0" y2="1"><stop offset="0.0000" stop-color="#e0dae0"/><stop offset="0.0957" stop-color="#e0dadf"/><stop offset="0.0966" stop-color="#dfd8db"/><stop offset="0.0975" stop-color="#ddd2d1"/><stop offset="0.0984" stop-color="#d9c8c1"/><stop offset="0.1002" stop-color="#cda88f"/><stop offset="0.1011" stop-color="#c89376"/><stop offset="0.1020" stop-color="#c27c63"/><stop offset="0.1029" stop-color="#ba6657"/><stop offset="0.1038" stop-color="#ae5051"/><stop offset="0.1055" stop-color="#8d2b50"/><stop offset="0.1064" stop-color="#781f50"/><stop offset="0.1082" stop-color="#4f1444"/><stop offset="0.1091" stop-color="#41123d"/><stop offset="0.1100" stop-color="#371139"/><stop offset="0.1118" stop-color="#2f1436"/><stop offset="0.1127" stop-color="#311339"/><stop offset="0.1145" stop-color="#3a1149"/><stop offset="0.1172" stop-color="#4f1970"/><stop offset="0.1190" stop-color="#572588"/><stop offset="0.1216" stop-color="#5c389d"/><stop offset="0.1252" stop-color="#5e52ad"/><stop offset="0.1315" stop-color="#6068b6"/><stop offset="0.1431" stop-color="#637abb"/><stop offset="0.1619" stop-color="#698abf"/><stop offset="0.2174" stop-color="#7ba1c2"/><stop offset="0.3336" stop-color="#91b2c6"/><stop offset="0.5501" stop-color="#aac2cc"/><stop offset="0.6619" stop-color="#b2c6ce"/><stop offset="1.0000" stop-color="#c0cdd3"/></linearGradient><linearGradient id="g76" x2="0" y2="1"><stop offset="0.0000" stop-color="#e0dae0"/><stop offset="0.0966" stop-color="#e0dadf"/><stop offset="0.0975" stop-color="#dfd8db"/><stop offset="0.0984" stop-color="#ddd3d2"/><stop offset="0.0993" stop-color="#d9c9c2"/><stop offset="0.1011" stop-color="#cda88f"/><stop offset="0.1020" stop-color="#c89477"/><stop offset="0.1029" stop-color="#c37d63"/><stop offset="0.1038" stop-color="#ba6657"/><stop offset="0.1047" stop-color="#ae5051"/><stop offset="0.1064" stop-color="#8d2c50"/><stop offset="0.1073" stop-color="#792050"/><stop offset="0.1091" stop-color="#501444"/><stop offset="0.1100" stop-color="#41123d"/><stop offset="0.1109" stop-color="#371139"/><stop offset="0.1127" stop-color="#2f1436"/><stop offset="0.1136" stop-color="#311339"/><stop offset="0.1154" stop-color="#3b114a"/><stop offset="0.1181" stop-color="#4f1972"/><stop offset="0.1199" stop-color="#58268a"/><stop offset="0.1234" stop-color="#5d42a4"/><stop offset="0.1261" stop-color="#5f55af"/><stop offset="0.1324" stop-color="#606ab7"/><stop offset="0.1440" stop-color="#637bbc"/><stop offset="0.1637" stop-color="#6a8bbf"/><stop offset="0.2209" stop-color="#7da3c3"/><stop offset="0.3426" stop-color="#93b4c6"/><stop offset="0.5868" stop-color="#afc4cd"/><stop offset="1.0000" stop-color="#c1cdd3"/></linearGradient><linearGradient id="g77" x2="0" y2="1"><stop offset="0.0000" stop-color="#e0dae0"/><stop offset="0.0975" stop-color="#e0dadf"/><stop offset="0.0984" stop-color="#dfd8db"/><stop offset="0.0993" stop-color="#ddd3d2"/><stop offset="0.1002" stop-color="#d9c9c2"/><stop offset="0.1020" stop-color="#cda990"/><stop offset="0.1029" stop-color="#c89477"/><stop offset="0.1038" stop-color="#c37d63"/><stop offset="0.1047" stop-color="#ba6657"/><stop offset="0.1055" stop-color="#af5151"/><stop offset="0.1073" stop-color="#8e2c50"/><stop offset="0.1082" stop-color="#792050"/><stop offset="0.1100" stop-color="#501444"/><stop offset="0.1109" stop-color="#41123d"/><stop offset="0.1118" stop-color="#381139"/><stop offset="0.1136" stop-color="#301436"/><stop offset="0.1145" stop-color="#311339"/><stop offset="0.1163" stop-color="#3b114a"/><stop offset="0.1190" stop-color="#501a74"/><stop offset="0.1199" stop-color="#552182"/><stop offset="0.1225" stop-color="#5c369b"/><stop offset="0.1270" stop-color="#5f58b0"/><stop offset="0.1333" stop-color="#606cb8"/><stop offset="0.1431" stop-color="#647cbc"/><stop offset="0.1664" stop-color="#6b8dbf"/><stop offset="0.2227" stop-color="#7ea4c3"/><stop offset="0.3372" stop-color="#93b4c6"/><stop offset="0.4767" stop-color="#a4beca"/><stop offset="0.6342" stop-color="#b2c6ce"/><stop offset="1.0000" stop-color="#c1cdd3"/></linearGradient><linearGradient id="g78" x2="0" y2="1"><stop offset="0.0000" stop-color="#e0dae0"/><stop offset="0.0984" stop-color="#e0dadf"/><stop offset="0.0993" stop-color="#dfd8db"/><stop offset="0.1002" stop-color="#ddd3d3"/><stop offset="0.1011" stop-color="#d9c9c2"/><stop offset="0.1029" stop-color="#cea991"/><stop offset="0.1038" stop-color="#c99578"/><stop offset="0.1047" stop-color="#c37e64"/><stop offset="0.1055" stop-color="#bb6757"/><stop offset="0.1064" stop-color="#af5151"/><stop offset="0.1082" stop-color="#8e2c50"/><stop offset="0.1091" stop-color="#7a2050"/><stop offset="0.1109" stop-color="#501444"/><stop offset="0.1118" stop-color="#41123e"/><stop offset="0.1127" stop-color="#381139"/><stop offset="0.1145" stop-color="#301436"/><stop offset="0.1154" stop-color="#311338"/><stop offset="0.1172" stop-color="#3b114b"/><stop offset="0.1199" stop-color="#511b76"/><stop offset="0.1216" stop-color="#59298e"/><stop offset="0.1243" stop-color="#5d3fa2"/><stop offset="0.1279" stop-color="#5f5bb2"/><stop offset="0.1351" stop-color="#616fb9"/><stop offset="0.1449" stop-color="#647ebc"/><stop offset="0.1708" stop-color="#6c8fbf"/><stop offset="0.2236" stop-color="#7fa5c3"/><stop offset="0.3381" stop-color="#95b5c7"/><stop offset="0.4669" stop-color="#a4beca"/><stop offset="0.6306" stop-color="#b2c6ce"/><stop offset="1.0000" stop-color="#c1cdd3"/></linearGradient><linearGradient id="g79" x2="0" y2="1"><stop offset="0.0000" stop-color="#e0dae0"/><stop offset="0.0993" stop-color="#e0dadf"/><stop offset="0.1002" stop-color="#dfd8db"/><stop offset="0.1011" stop-color="#ddd3d3"/><stop offset="0.1020" stop-color="#dac9c2"/><stop offset="0.1029" stop-color="#d3bbac"/><stop offset="0.1047" stop-color="#c99578"/><stop offset="0.1055" stop-color="#c37f64"/><stop offset="0.1064" stop-color="#bb6857"/><stop offset="0.1073" stop-color="#af5251"/><stop offset="0.1091" stop-color="#8e2c50"/><stop offset="0.1100" stop-color="#7a2050"/><stop offset="0.1118" stop-color="#511445"/><stop offset="0.1127" stop-color="#42123e"/><stop offset="0.1136" stop-color="#381139"/><stop offset="0.1154" stop-color="#301437"/><stop offset="0.1163" stop-color="#311338"/><stop offset="0.1181" stop-color="#3c114b"/><stop offset="0.1199" stop-color="#4b1668"/><stop offset="0.1216" stop-color="#572385"/><stop offset="0.1243" stop-color="#5d3a9e"/><stop offset="0.1279" stop-color="#5f58b0"/><stop offset="0.1297" stop-color="#5f61b4"/><stop offset="0.1377" stop-color="#6275ba"/><stop offset="0.1449" stop-color="#657fbd"/><stop offset="0.1762" stop-color="#6e92c0"/><stop offset="0.2272" stop-color="#81a6c3"/><stop offset="0.3390" stop-color="#96b6c7"/><stop offset="0.4687" stop-color="#a6bfca"/><stop offset="0.6485" stop-color="#b3c6ce"/><stop offset="1.0000" stop-color="#c2ced4"/></linearGradient><linearGradient id="g80" x2="0" y2="1"><stop offset="0.0000" stop-color="#e0dae0"/><stop offset="0.1002" stop-color="#e0dadf"/><stop offset="0.1011" stop-color="#dfd8db"/><stop offset="0.1020" stop-color="#ddd3d3"/><stop offset="0.1029" stop-color="#dacac3"/><stop offset="0.1047" stop-color="#ceaa91"/><stop offset="0.1055" stop-color="#c99578"/><stop offset="0.1064" stop-color="#c37f64"/><stop offset="0.1073" stop-color="#bb6858"/><stop offset="0.1082" stop-color="#af5251"/><stop offset="0.1100" stop-color="#8f2d50"/><stop offset="0.1109" stop-color="#7a2050"/><stop offset="0.1127" stop-color="#521545"/><stop offset="0.1136" stop-color="#42123e"/><stop offset="0.1145" stop-color="#381139"/><stop offset="0.1163" stop-color="#301437"/><stop offset="0.1172" stop-color="#301338"/><stop offset="0.1190" stop-color="#3c114b"/><stop offset="0.1208" stop-color="#4c1669"/><stop offset="0.1225" stop-color="#572588"/><stop offset="0.1252" stop-color="#5d3ca0"/><stop offset="0.1297" stop-color="#5f61b4"/><stop offset="0.1386" stop-color="#6276bb"/><stop offset="0.1458" stop-color="#6681bd"/><stop offset="0.1860" stop-color="#7297c1"/><stop offset="0.2290" stop-color="#82a7c3"/><stop offset="0.3390" stop-color="#97b7c7"/><stop offset="0.4589" stop-color="#a6bfca"/><stop offset="0.6431" stop-color="#b3c6ce"/><stop offset="1.0000" stop-color="#c2ced4"/></linearGradient><linearGradient id="g81" x2="0" y2="1"><stop offset="0.0000" stop-color="#e0dae0"/><stop offset="0.1011" stop-color="#e0dadf"/><stop offset="0.1020" stop-color="#dfd8db"/><stop offset="0.1029" stop-color="#ddd4d3"/><stop offset="0.1038" stop-color="#dacac3"/><stop offset="0.1055" stop-color="#ceab92"/><stop offset="0.1064" stop-color="#c99679"/><stop offset="0.1073" stop-color="#c38065"/><stop offset="0.1082" stop-color="#bb6958"/><stop offset="0.1091" stop-color="#b05351"/><stop offset="0.1109" stop-color="#8f2d50"/><stop offset="0.1118" stop-color="#7b2150"/><stop offset="0.1136" stop-color="#521545"/><stop offset="0.1145" stop-color="#42123e"/><stop offset="0.1154" stop-color="#381139"/><stop offset="0.1172" stop-color="#301437"/><stop offset="0.1181" stop-color="#301338"/><stop offset="0.1199" stop-color="#3c114c"/><stop offset="0.1216" stop-color="#4c176b"/><stop offset="0.1234" stop-color="#58268a"/><stop offset="0.1261" stop-color="#5d3ea1"/><stop offset="0.1297" stop-color="#5f5db2"/><stop offset="0.1306" stop-color="#5f64b5"/><stop offset="0.1440" stop-color="#6580bd"/><stop offset="0.1807" stop-color="#7195c0"/><stop offset="0.2290" stop-color="#84a8c4"/><stop offset="0.3399" stop-color="#99b8c8"/><stop offset="0.4624" stop-color="#a7c0cb"/><stop offset="0.6628" stop-color="#b5c7cf"/><stop offset="1.0000" stop-color="#c2ced4"/></linearGradient><linearGradient id="g82" x2="0" y2="1"><stop offset="0.0000" stop-color="#e0dae0"/><stop offset="0.1020" stop-color="#e0dadf"/><stop offset="0.1029" stop-color="#dfd8dc"/><stop offset="0.1038" stop-color="#ded4d4"/><stop offset="0.1047" stop-color="#dacac3"/><stop offset="0.1055" stop-color="#d4bcad"/><stop offset="0.1073" stop-color="#c99679"/><stop offset="0.1082" stop-color="#c48065"/><stop offset="0.1091" stop-color="#bb6958"/><stop offset="0.1100" stop-color="#b05351"/><stop offset="0.1118" stop-color="#8f2d50"/><stop offset="0.1127" stop-color="#7b2150"/><stop offset="0.1145" stop-color="#521545"/><stop offset="0.1154" stop-color="#42123e"/><stop offset="0.1163" stop-color="#39113a"/><stop offset="0.1181" stop-color="#301437"/><stop offset="0.1190" stop-color="#301338"/><stop offset="0.1208" stop-color="#3d114d"/><stop offset="0.1225" stop-color="#4d176d"/><stop offset="0.1243" stop-color="#58278b"/><stop offset="0.1270" stop-color="#5d40a2"/><stop offset="0.1315" stop-color="#6067b6"/><stop offset="0.1467" stop-color="#6785be"/><stop offset="0.2084" stop-color="#7ca2c2"/><stop offset="0.2335" stop-color="#86aac4"/><stop offset="0.3408" stop-color="#9ab8c8"/><stop offset="0.4660" stop-color="#a9c1cb"/><stop offset="0.6601" stop-color="#b5c7cf"/><stop offset="1.0000" stop-color="#c3ced4"/></linearGradient><linearGradient id="g83" x2="0" y2="1"><stop offset="0.0000" stop-color="#e0dae0"/><stop offset="0.1029" stop-color="#e0dadf"/><stop offset="0.1038" stop-color="#e0d8dc"/><stop offset="0.1047" stop-color="#ded4d4"/><stop offset="0.1055" stop-color="#dacac4"/><stop offset="0.1073" stop-color="#ceab93"/><stop offset="0.1082" stop-color="#c9977a"/><stop offset="0.1091" stop-color="#c48065"/><stop offset="0.1100" stop-color="#bc6a58"/><stop offset="0.1109" stop-color="#b05352"/><stop offset="0.1127" stop-color="#902e50"/><stop offset="0.1136" stop-color="#7c2150"/><stop offset="0.1154" stop-color="#531545"/><stop offset="0.1163" stop-color="#43123e"/><stop offset="0.1172" stop-color="#39113a"/><stop offset="0.1190" stop-color="#301437"/><stop offset="0.1199" stop-color="#301338"/><stop offset="0.1216" stop-color="#3d114d"/><stop offset="0.1234" stop-color="#4e186e"/><stop offset="0.1252" stop-color="#59298d"/><stop offset="0.1279" stop-color="#5d42a4"/><stop offset="0.1324" stop-color="#606ab7"/><stop offset="0.1476" stop-color="#6886be"/><stop offset="0.2057" stop-color="#7ca1c2"/><stop offset="0.2343" stop-color="#87abc4"/><stop offset="0.3426" stop-color="#9cb9c8"/><stop offset="0.4553" stop-color="#a9c1cb"/><stop offset="0.6789" stop-color="#b6c8cf"/><stop offset="1.0000" stop-color="#c4ced4"/></linearGradient><linearGradient id="g84" x2="0" y2="1"><stop offset="0.0000" stop-color="#e0dae0"/><stop offset="0.1038" stop-color="#e0dae0"/><stop offset="0.1055" stop-color="#ded4d5"/><stop offset="0.1064" stop-color="#dacbc6"/><stop offset="0.1082" stop-color="#cfad96"/><stop offset="0.1091" stop-color="#ca997c"/><stop offset="0.1100" stop-color="#c48267"/><stop offset="0.1109" stop-color="#bc6b59"/><stop offset="0.1118" stop-color="#b15552"/><stop offset="0.1136" stop-color="#912f50"/><stop offset="0.1145" stop-color="#7e2250"/><stop offset="0.1163" stop-color="#541546"/><stop offset="0.1172" stop-color="#44123f"/><stop offset="0.1181" stop-color="#39113a"/><stop offset="0.1199" stop-color="#301437"/><stop offset="0.1208" stop-color="#301437"/><stop offset="0.1225" stop-color="#3d114d"/><stop offset="0.1243" stop-color="#4e186f"/><stop offset="0.1261" stop-color="#592a8f"/><stop offset="0.1288" stop-color="#5e43a5"/><stop offset="0.1324" stop-color="#5f65b5"/><stop offset="0.1333" stop-color="#606cb8"/><stop offset="0.1485" stop-color="#6888be"/><stop offset="0.2066" stop-color="#7ca2c2"/><stop offset="0.2317" stop-color="#87abc4"/><stop offset="0.3372" stop-color="#9cb9c8"/><stop offset="0.4589" stop-color="#aac2cc"/><stop offset="0.7039" stop-color="#b8c9d0"/><stop offset="1.0000" stop-color="#c4ced4"/></linearGradient><linearGradient id="g85" x2="0" y2="1"><stop offset="0.0000" stop-color="#e0dae0"/><stop offset="0.1047" stop-color="#e0dae0"/><stop offset="0.1055" stop-color="#e0d9dd"/><stop offset="0.1064" stop-color="#ded5d5"/><stop offset="0.1073" stop-color="#dbccc7"/><stop offset="0.1091" stop-color="#cfae97"/><stop offset="0.1100" stop-color="#ca9a7d"/><stop offset="0.1109" stop-color="#c58468"/><stop offset="0.1118" stop-color="#bd6d5a"/><stop offset="0.1127" stop-color="#b25752"/><stop offset="0.1145" stop-color="#933050"/><stop offset="0.1154" stop-color="#7f2350"/><stop offset="0.1172" stop-color="#561546"/><stop offset="0.1181" stop-color="#45123f"/><stop offset="0.1190" stop-color="#3a113a"/><stop offset="0.1208" stop-color="#301337"/><stop offset="0.1216" stop-color="#2f1437"/><stop offset="0.1225" stop-color="#351140"/><stop offset="0.1243" stop-color="#45135d"/><stop offset="0.1261" stop-color="#552081"/><stop offset="0.1270" stop-color="#5a2b90"/><stop offset="0.1297" stop-color="#5e45a6"/><stop offset="0.1333" stop-color="#6066b6"/><stop offset="0.1342" stop-color="#606eb8"/><stop offset="0.1494" stop-color="#6989be"/><stop offset="0.2075" stop-color="#7da3c3"/><stop offset="0.2335" stop-color="#88acc4"/><stop offset="0.3399" stop-color="#9dbac8"/><stop offset="0.4535" stop-color="#aac2cc"/><stop offset="0.6905" stop-color="#b8c9d0"/><stop offset="1.0000" stop-color="#c4ced4"/></linearGradient><linearGradient id="g86" x2="0" y2="1"><stop offset="0.0000" stop-color="#e0dae0"/><stop offset="0.1055" stop-color="#e0dae0"/><stop offset="0.1073" stop-color="#ded5d6"/><stop offset="0.1082" stop-color="#dbcdc9"/><stop offset="0.1091" stop-color="#d5c0b3"/><stop offset="0.1109" stop-color="#ca9c80"/><stop offset="0.1118" stop-color="#c5866a"/><stop offset="0.1127" stop-color="#be6f5b"/><stop offset="0.1136" stop-color="#b35953"/><stop offset="0.1154" stop-color="#943150"/><stop offset="0.1163" stop-color="#812450"/><stop offset="0.1181" stop-color="#571647"/><stop offset="0.1190" stop-color="#461240"/><stop offset="0.1199" stop-color="#3a113a"/><stop offset="0.1216" stop-color="#311337"/><stop offset="0.1225" stop-color="#2f1437"/><stop offset="0.1234" stop-color="#34113f"/><stop offset="0.1252" stop-color="#45135d"/><stop offset="0.1270" stop-color="#562182"/><stop offset="0.1279" stop-color="#5a2d92"/><stop offset="0.1306" stop-color="#5e46a7"/><stop offset="0.1342" stop-color="#6068b6"/><stop offset="0.1351" stop-color="#616fb9"/><stop offset="0.1503" stop-color="#698abf"/><stop offset="0.2111" stop-color="#7fa5c3"/><stop offset="0.2388" stop-color="#8aaec5"/><stop offset="0.3453" stop-color="#9ebbc9"/><stop offset="0.4615" stop-color="#acc2cc"/><stop offset="0.7182" stop-color="#b9c9d0"/><stop offset="1.0000" stop-color="#c4cfd4"/></linearGradient><linearGradient id="g87" x2="0" y2="1"><stop offset="0.0000" stop-color="#e0dae0"/><stop offset="0.1064" stop-color="#e0dae0"/><stop offset="0.1082" stop-color="#ded6d7"/><stop offset="0.1091" stop-color="#dbceca"/><stop offset="0.1100" stop-color="#d6c2b6"/><stop offset="0.1118" stop-color="#cb9d82"/><stop offset="0.1127" stop-color="#c6886c"/><stop offset="0.1136" stop-color="#bf715c"/><stop offset="0.1145" stop-color="#b55b53"/><stop offset="0.1163" stop-color="#963350"/><stop offset="0.1172" stop-color="#832550"/><stop offset="0.1190" stop-color="#591648"/><stop offset="0.1199" stop-color="#481340"/><stop offset="0.1208" stop-color="#3b113b"/><stop offset="0.1225" stop-color="#311337"/><stop offset="0.1234" stop-color="#2f1437"/><stop offset="0.1243" stop-color="#34113e"/><stop offset="0.1252" stop-color="#3c114b"/><stop offset="0.1270" stop-color="#4f1970"/><stop offset="0.1288" stop-color="#5a2e93"/><stop offset="0.1315" stop-color="#5e48a8"/><stop offset="0.1351" stop-color="#6069b7"/><stop offset="0.1360" stop-color="#6170b9"/><stop offset="0.1512" stop-color="#6a8bbf"/><stop offset="0.2120" stop-color="#80a5c3"/><stop offset="0.2370" stop-color="#8aaec5"/><stop offset="0.3399" stop-color="#9ebbc9"/><stop offset="0.4526" stop-color="#acc2cc"/><stop offset="0.6753" stop-color="#b8c9d0"/><stop offset="1.0000" stop-color="#c4cfd4"/></linearGradient><linearGradient id="g88" x2="0" y2="1"><stop offset="0.0000" stop-color="#e0dae0"/><stop offset="0.1073" stop-color="#e0dae0"/><stop offset="0.1091" stop-color="#dfd6d8"/><stop offset="0.1100" stop-color="#dccfcc"/><stop offset="0.1109" stop-color="#d7c3b8"/><stop offset="0.1127" stop-color="#cba084"/><stop offset="0.1136" stop-color="#c68a6d"/><stop offset="0.1145" stop-color="#bf735d"/><stop offset="0.1154" stop-color="#b55c54"/><stop offset="0.1172" stop-color="#973450"/><stop offset="0.1181" stop-color="#852650"/><stop offset="0.1190" stop-color="#6f1c4e"/><stop offset="0.1208" stop-color="#491341"/><stop offset="0.1216" stop-color="#3c113b"/><stop offset="0.1234" stop-color="#311337"/><stop offset="0.1243" stop-color="#2f1436"/><stop offset="0.1252" stop-color="#34113e"/><stop offset="0.1270" stop-color="#45135c"/><stop offset="0.1279" stop-color="#4f1970"/><stop offset="0.1297" stop-color="#5a2e94"/><stop offset="0.1315" stop-color="#5d41a4"/><stop offset="0.1351" stop-color="#5f64b5"/><stop offset="0.1369" stop-color="#6171b9"/><stop offset="0.1521" stop-color="#6b8cbf"/><stop offset="0.2156" stop-color="#83a7c4"/><stop offset="0.2424" stop-color="#8db0c5"/><stop offset="0.3444" stop-color="#a0bcc9"/><stop offset="0.4615" stop-color="#adc3cd"/><stop offset="0.7343" stop-color="#bbcad1"/><stop offset="1.0000" stop-color="#c4cfd5"/></linearGradient><linearGradient id="g89" x2="0" y2="1"><stop offset="0.0000" stop-color="#e0dae0"/><stop offset="0.1082" stop-color="#e0dae0"/><stop offset="0.1100" stop-color="#dfd7d9"/><stop offset="0.1109" stop-color="#dcd0cd"/><stop offset="0.1118" stop-color="#d7c4b9"/><stop offset="0.1136" stop-color="#cca186"/><stop offset="0.1145" stop-color="#c78c6f"/><stop offset="0.1154" stop-color="#c0755e"/><stop offset="0.1163" stop-color="#b65e54"/><stop offset="0.1181" stop-color="#993650"/><stop offset="0.1190" stop-color="#862750"/><stop offset="0.1208" stop-color="#5c1749"/><stop offset="0.1216" stop-color="#4a1342"/><stop offset="0.1225" stop-color="#3d113c"/><stop offset="0.1243" stop-color="#311337"/><stop offset="0.1252" stop-color="#2f1436"/><stop offset="0.1261" stop-color="#33113d"/><stop offset="0.1270" stop-color="#3b114a"/><stop offset="0.1288" stop-color="#4f1970"/><stop offset="0.1306" stop-color="#5b2f94"/><stop offset="0.1324" stop-color="#5e43a5"/><stop offset="0.1360" stop-color="#6066b6"/><stop offset="0.1377" stop-color="#6173ba"/><stop offset="0.1530" stop-color="#6b8dbf"/><stop offset="0.2165" stop-color="#84a8c4"/><stop offset="0.2433" stop-color="#8eb1c5"/><stop offset="0.3488" stop-color="#a1bdc9"/><stop offset="0.4535" stop-color="#adc3cd"/><stop offset="0.6869" stop-color="#b9c9d0"/><stop offset="1.0000" stop-color="#c5cfd5"/></linearGradient><linearGradient id="g90" x2="0" y2="1"><stop offset="0.0000" stop-color="#e0dae0"/><stop offset="0.1091" stop-color="#e0dae0"/><stop offset="0.1109" stop-color="#dfd7d9"/><stop offset="0.1118" stop-color="#dcd0ce"/><stop offset="0.1127" stop-color="#d8c5bb"/><stop offset="0.1136" stop-color="#d1b6a3"/><stop offset="0.1154" stop-color="#c78e71"/><stop offset="0.1163" stop-color="#c1775f"/><stop offset="0.1172" stop-color="#b76055"/><stop offset="0.1190" stop-color="#9b3750"/><stop offset="0.1199" stop-color="#882850"/><stop offset="0.1208" stop-color="#721d4f"/><stop offset="0.1225" stop-color="#4b1342"/><stop offset="0.1234" stop-color="#3e113c"/><stop offset="0.1243" stop-color="#361138"/><stop offset="0.1261" stop-color="#2f1436"/><stop offset="0.1270" stop-color="#33113c"/><stop offset="0.1279" stop-color="#3b114a"/><stop offset="0.1297" stop-color="#4f1970"/><stop offset="0.1306" stop-color="#562385"/><stop offset="0.1315" stop-color="#5b3095"/><stop offset="0.1324" stop-color="#5d3ca0"/><stop offset="0.1360" stop-color="#5f5fb3"/><stop offset="0.1386" stop-color="#6275ba"/><stop offset="0.1530" stop-color="#6c8ebf"/><stop offset="0.2182" stop-color="#85aac4"/><stop offset="0.2496" stop-color="#91b2c6"/><stop offset="0.3542" stop-color="#a3beca"/><stop offset="0.4624" stop-color="#afc4cd"/><stop offset="0.7156" stop-color="#bbcad1"/><stop offset="1.0000" stop-color="#c5cfd5"/></linearGradient><linearGradient id="g91" x2="0" y2="1"><stop offset="0.0000" stop-color="#e0dae0"/><stop offset="0.1109" stop-color="#e0dadf"/><stop offset="0.1118" stop-color="#dfd7da"/><stop offset="0.1127" stop-color="#ddd1cf"/><stop offset="0.1136" stop-color="#d8c6bd"/><stop offset="0.1154" stop-color="#cca58b"/><stop offset="0.1163" stop-color="#c89073"/><stop offset="0.1172" stop-color="#c17960"/><stop offset="0.1181" stop-color="#b86255"/><stop offset="0.1199" stop-color="#9c3950"/><stop offset="0.1208" stop-color="#8a2950"/><stop offset="0.1216" stop-color="#751e4f"/><stop offset="0.1234" stop-color="#4d1443"/><stop offset="0.1243" stop-color="#3f123c"/><stop offset="0.1252" stop-color="#361139"/><stop offset="0.1270" stop-color="#2f1436"/><stop offset="0.1279" stop-color="#33123b"/><stop offset="0.1288" stop-color="#3a1149"/><stop offset="0.1306" stop-color="#4f1970"/><stop offset="0.1315" stop-color="#572385"/><stop offset="0.1324" stop-color="#5b3196"/><stop offset="0.1333" stop-color="#5d3da1"/><stop offset="0.1369" stop-color="#5f61b4"/><stop offset="0.1395" stop-color="#6276ba"/><stop offset="0.1440" stop-color="#657fbd"/><stop offset="0.1556" stop-color="#6d90c0"/><stop offset="0.2191" stop-color="#86aac4"/><stop offset="0.2549" stop-color="#93b4c6"/><stop offset="0.3694" stop-color="#a6bfca"/><stop offset="0.4714" stop-color="#b0c5cd"/><stop offset="0.7853" stop-color="#beccd2"/><stop offset="1.0000" stop-color="#c5cfd5"/></linearGradient><linearGradient id="g92" x2="0" y2="1"><stop offset="0.0000" stop-color="#e0dae0"/><stop offset="0.1118" stop-color="#e0dadf"/><stop offset="0.1127" stop-color="#dfd8da"/><stop offset="0.1136" stop-color="#ddd2d1"/><stop offset="0.1145" stop-color="#d9c7bf"/><stop offset="0.1163" stop-color="#cda68d"/><stop offset="0.1172" stop-color="#c89174"/><stop offset="0.1181" stop-color="#c27b62"/><stop offset="0.1190" stop-color="#b96456"/><stop offset="0.1199" stop-color="#ad4e51"/><stop offset="0.1216" stop-color="#8c2a50"/><stop offset="0.1225" stop-color="#761f4f"/><stop offset="0.1243" stop-color="#4e1443"/><stop offset="0.1252" stop-color="#40123d"/><stop offset="0.1261" stop-color="#371139"/><stop offset="0.1279" stop-color="#2f1436"/><stop offset="0.1288" stop-color="#32123a"/><stop offset="0.1297" stop-color="#3a1148"/><stop offset="0.1315" stop-color="#4f1970"/><stop offset="0.1324" stop-color="#572385"/><stop offset="0.1333" stop-color="#5b3196"/><stop offset="0.1342" stop-color="#5d3ea1"/><stop offset="0.1377" stop-color="#5f62b4"/><stop offset="0.1395" stop-color="#6172ba"/><stop offset="0.1413" stop-color="#637bbc"/><stop offset="0.1565" stop-color="#6e91c0"/><stop offset="0.2227" stop-color="#88acc4"/><stop offset="0.2585" stop-color="#95b5c7"/><stop offset="0.3739" stop-color="#a7c0cb"/><stop offset="0.4642" stop-color="#b0c5cd"/><stop offset="0.7281" stop-color="#bccbd1"/><stop offset="1.0000" stop-color="#c5cfd5"/></linearGradient><linearGradient id="g93" x2="0" y2="1"><stop offset="0.0000" stop-color="#e0dae0"/><stop offset="0.1127" stop-color="#e0dadf"/><stop offset="0.1136" stop-color="#dfd8db"/><stop offset="0.1145" stop-color="#ddd2d2"/><stop offset="0.1154" stop-color="#d9c8c1"/><stop offset="0.1172" stop-color="#cda88f"/><stop offset="0.1181" stop-color="#c89376"/><stop offset="0.1190" stop-color="#c37d63"/><stop offset="0.1199" stop-color="#ba6657"/><stop offset="0.1208" stop-color="#ae5051"/><stop offset="0.1225" stop-color="#8d2b50"/><stop offset="0.1234" stop-color="#782050"/><stop offset="0.1252" stop-color="#501444"/><stop offset="0.1261" stop-color="#41123d"/><stop offset="0.1270" stop-color="#371139"/><stop offset="0.1288" stop-color="#2f1436"/><stop offset="0.1297" stop-color="#32123a"/><stop offset="0.1306" stop-color="#391147"/><stop offset="0.1324" stop-color="#4f1970"/><stop offset="0.1333" stop-color="#572386"/><stop offset="0.1342" stop-color="#5b3297"/><stop offset="0.1351" stop-color="#5d40a3"/><stop offset="0.1386" stop-color="#5f65b5"/><stop offset="0.1404" stop-color="#6275ba"/><stop offset="0.1422" stop-color="#647dbc"/><stop offset="0.1574" stop-color="#6e92c0"/><stop offset="0.2245" stop-color="#8aadc5"/><stop offset="0.2665" stop-color="#97b7c7"/><stop offset="0.3918" stop-color="#aac2cc"/><stop offset="0.5018" stop-color="#b3c6ce"/><stop offset="0.9436" stop-color="#c4ced4"/><stop offset="1.0000" stop-color="#c5cfd5"/></linearGradient><linearGradient id="g94" x2="0" y2="1"><stop offset="0.0000" stop-color="#e0dae0"/><stop offset="0.1136" stop-color="#e0dadf"/><stop offset="0.1145" stop-color="#dfd8db"/><stop offset="0.1154" stop-color="#ddd3d3"/><stop offset="0.1163" stop-color="#dac9c3"/><stop offset="0.1172" stop-color="#d4bcac"/><stop offset="0.1190" stop-color="#c99578"/><stop offset="0.1199" stop-color="#c37f64"/><stop offset="0.1208" stop-color="#bb6857"/><stop offset="0.1216" stop-color="#af5251"/><stop offset="0.1234" stop-color="#8e2c50"/><stop offset="0.1243" stop-color="#7a2050"/><stop offset="0.1261" stop-color="#511445"/><stop offset="0.1270" stop-color="#42123e"/><stop offset="0.1279" stop-color="#381139"/><stop offset="0.1297" stop-color="#301437"/><stop offset="0.1306" stop-color="#311339"/><stop offset="0.1315" stop-color="#391146"/><stop offset="0.1324" stop-color="#431359"/><stop offset="0.1333" stop-color="#4f1970"/><stop offset="0.1342" stop-color="#572486"/><stop offset="0.1351" stop-color="#5b3298"/><stop offset="0.1360" stop-color="#5d42a4"/><stop offset="0.1395" stop-color="#6066b6"/><stop offset="0.1413" stop-color="#6277bb"/><stop offset="0.1440" stop-color="#6580bd"/><stop offset="0.1592" stop-color="#7094c0"/><stop offset="0.2254" stop-color="#8baec5"/><stop offset="0.2665" stop-color="#99b8c8"/><stop offset="0.4213" stop-color="#afc4cd"/><stop offset="0.6628" stop-color="#bbcad1"/><stop offset="1.0000" stop-color="#c5cfd5"/></linearGradient><linearGradient id="g95" x2="0" y2="1"><stop offset="0.0000" stop-color="#e0dae0"/><stop offset="0.1145" stop-color="#e0dae0"/><stop offset="0.1154" stop-color="#e0d9dc"/><stop offset="0.1163" stop-color="#ded4d4"/><stop offset="0.1172" stop-color="#dacbc5"/><stop offset="0.1190" stop-color="#ceab94"/><stop offset="0.1199" stop-color="#c9977a"/><stop offset="0.1208" stop-color="#c48166"/><stop offset="0.1216" stop-color="#bc6a58"/><stop offset="0.1225" stop-color="#b05452"/><stop offset="0.1243" stop-color="#902e50"/><stop offset="0.1252" stop-color="#7c2150"/><stop offset="0.1270" stop-color="#531545"/><stop offset="0.1279" stop-color="#43123e"/><stop offset="0.1288" stop-color="#39113a"/><stop offset="0.1306" stop-color="#301437"/><stop offset="0.1315" stop-color="#301338"/><stop offset="0.1324" stop-color="#381145"/><stop offset="0.1342" stop-color="#4f1970"/><stop offset="0.1351" stop-color="#572487"/><stop offset="0.1360" stop-color="#5c3398"/><stop offset="0.1369" stop-color="#5e43a5"/><stop offset="0.1404" stop-color="#6068b6"/><stop offset="0.1422" stop-color="#6379bb"/><stop offset="0.1449" stop-color="#6682bd"/><stop offset="0.1601" stop-color="#7195c0"/><stop offset="0.2272" stop-color="#8dafc5"/><stop offset="0.2683" stop-color="#9ab8c8"/><stop offset="0.4410" stop-color="#b2c6ce"/><stop offset="0.7809" stop-color="#bfccd3"/><stop offset="1.0000" stop-color="#c6cfd5"/></linearGradient><linearGradient id="g96" x2="0" y2="1"><stop offset="0.0000" stop-color="#e0dae0"/><stop offset="0.1154" stop-color="#e0dae0"/><stop offset="0.1172" stop-color="#ded4d5"/><stop offset="0.1181" stop-color="#daccc6"/><stop offset="0.1199" stop-color="#cfad96"/><stop offset="0.1208" stop-color="#ca997c"/><stop offset="0.1216" stop-color="#c48267"/><stop offset="0.1225" stop-color="#bc6b59"/><stop offset="0.1234" stop-color="#b15552"/><stop offset="0.1252" stop-color="#912f50"/><stop offset="0.1261" stop-color="#7e2250"/><stop offset="0.1279" stop-color="#541546"/><stop offset="0.1288" stop-color="#44123f"/><stop offset="0.1297" stop-color="#39113a"/><stop offset="0.1315" stop-color="#301437"/><stop offset="0.1324" stop-color="#301437"/><stop offset="0.1333" stop-color="#371144"/><stop offset="0.1342" stop-color="#431258"/><stop offset="0.1351" stop-color="#4e1870"/><stop offset="0.1360" stop-color="#572487"/><stop offset="0.1369" stop-color="#5c3499"/><stop offset="0.1377" stop-color="#5e44a5"/><stop offset="0.1413" stop-color="#6069b7"/><stop offset="0.1431" stop-color="#637bbc"/><stop offset="0.1458" stop-color="#6684bd"/><stop offset="0.1610" stop-color="#7196c1"/><stop offset="0.2281" stop-color="#8db0c5"/><stop offset="0.2674" stop-color="#9bb9c8"/><stop offset="0.4365" stop-color="#b2c6ce"/><stop offset="0.7200" stop-color="#beccd2"/><stop offset="1.0000" stop-color="#c6d0d5"/></linearGradient><linearGradient id="g97" x2="0" y2="1"><stop offset="0.0000" stop-color="#e0dae0"/><stop offset="0.1163" stop-color="#e0dae0"/><stop offset="0.1181" stop-color="#ded5d6"/><stop offset="0.1190" stop-color="#dbcdc8"/><stop offset="0.1199" stop-color="#d5bfb2"/><stop offset="0.1216" stop-color="#ca9b7e"/><stop offset="0.1225" stop-color="#c58569"/><stop offset="0.1234" stop-color="#bd6e5a"/><stop offset="0.1243" stop-color="#b35752"/><stop offset="0.1261" stop-color="#933050"/><stop offset="0.1270" stop-color="#802350"/><stop offset="0.1288" stop-color="#561546"/><stop offset="0.1297" stop-color="#461240"/><stop offset="0.1306" stop-color="#3a113a"/><stop offset="0.1324" stop-color="#301337"/><stop offset="0.1333" stop-color="#2f1437"/><stop offset="0.1342" stop-color="#371143"/><stop offset="0.1360" stop-color="#4e186f"/><stop offset="0.1369" stop-color="#572487"/><stop offset="0.1377" stop-color="#5c3499"/><stop offset="0.1386" stop-color="#5e45a6"/><stop offset="0.1422" stop-color="#606bb7"/><stop offset="0.1440" stop-color="#647dbc"/><stop offset="0.1467" stop-color="#6785be"/><stop offset="0.1619" stop-color="#7297c1"/><stop offset="0.2343" stop-color="#91b3c6"/><stop offset="0.2710" stop-color="#9dbac8"/><stop offset="0.4499" stop-color="#b3c6ce"/><stop offset="0.7120" stop-color="#beccd2"/><stop offset="1.0000" stop-color="#c6d0d5"/></linearGradient><linearGradient id="g98" x2="0" y2="1"><stop offset="0.0000" stop-color="#e0dae0"/><stop offset="0.1172" stop-color="#e0dae0"/><stop offset="0.1190" stop-color="#ded5d6"/><stop offset="0.1199" stop-color="#dbcdc9"/><stop offset="0.1208" stop-color="#d6c1b4"/><stop offset="0.1225" stop-color="#ca9c80"/><stop offset="0.1234" stop-color="#c5866a"/><stop offset="0.1243" stop-color="#be705b"/><stop offset="0.1252" stop-color="#b45953"/><stop offset="0.1270" stop-color="#953250"/><stop offset="0.1279" stop-color="#812450"/><stop offset="0.1297" stop-color="#571647"/><stop offset="0.1306" stop-color="#471340"/><stop offset="0.1315" stop-color="#3b113a"/><stop offset="0.1333" stop-color="#311337"/><stop offset="0.1342" stop-color="#2f1437"/><stop offset="0.1351" stop-color="#361142"/><stop offset="0.1360" stop-color="#411256"/><stop offset="0.1369" stop-color="#4e186f"/><stop offset="0.1377" stop-color="#572487"/><stop offset="0.1386" stop-color="#5c3499"/><stop offset="0.1395" stop-color="#5e46a6"/><stop offset="0.1431" stop-color="#606db8"/><stop offset="0.1449" stop-color="#647ebc"/><stop offset="0.1476" stop-color="#6887be"/><stop offset="0.1646" stop-color="#7499c1"/><stop offset="0.2388" stop-color="#94b4c7"/><stop offset="0.2737" stop-color="#9ebbc9"/><stop offset="0.4571" stop-color="#b5c7cf"/><stop offset="0.7996" stop-color="#c1cdd3"/><stop offset="1.0000" stop-color="#c6d0d5"/></linearGradient><linearGradient id="g99" x2="0" y2="1"><stop offset="0.0000" stop-color="#e0dae0"/><stop offset="0.1181" stop-color="#e0dae0"/><stop offset="0.1199" stop-color="#ded6d7"/><stop offset="0.1208" stop-color="#dccecb"/><stop offset="0.1216" stop-color="#d6c2b6"/><stop offset="0.1234" stop-color="#cb9e82"/><stop offset="0.1243" stop-color="#c6896c"/><stop offset="0.1252" stop-color="#bf715c"/><stop offset="0.1261" stop-color="#b55b53"/><stop offset="0.1279" stop-color="#963350"/><stop offset="0.1288" stop-color="#832550"/><stop offset="0.1306" stop-color="#591648"/><stop offset="0.1315" stop-color="#481341"/><stop offset="0.1324" stop-color="#3b113b"/><stop offset="0.1342" stop-color="#311337"/><stop offset="0.1351" stop-color="#2f1437"/><stop offset="0.1360" stop-color="#361141"/><stop offset="0.1369" stop-color="#411255"/><stop offset="0.1377" stop-color="#4e186e"/><stop offset="0.1386" stop-color="#572487"/><stop offset="0.1395" stop-color="#5c359a"/><stop offset="0.1404" stop-color="#5e46a7"/><stop offset="0.1431" stop-color="#5f65b5"/><stop offset="0.1458" stop-color="#6580bd"/><stop offset="0.1485" stop-color="#6988be"/><stop offset="0.1655" stop-color="#759ac1"/><stop offset="0.2585" stop-color="#9dbac8"/><stop offset="0.4445" stop-color="#b5c7cf"/><stop offset="0.7746" stop-color="#c1cdd3"/><stop offset="1.0000" stop-color="#c6d0d5"/></linearGradient><linearGradient id="g100" x2="0" y2="1"><stop offset="0.0000" stop-color="#e0dae0"/><stop offset="0.1190" stop-color="#e0dae0"/><stop offset="0.1208" stop-color="#dfd6d8"/><stop offset="0.1216" stop-color="#dccfcc"/><stop offset="0.1225" stop-color="#d7c3b8"/><stop offset="0.1243" stop-color="#cba085"/><stop offset="0.1252" stop-color="#c68a6d"/><stop offset="0.1261" stop-color="#c0745d"/><stop offset="0.1270" stop-color="#b65d54"/><stop offset="0.1288" stop-color="#983550"/><stop offset="0.1297" stop-color="#852650"/><stop offset="0.1315" stop-color="#5b1648"/><stop offset="0.1324" stop-color="#491341"/><stop offset="0.1333" stop-color="#3c113b"/><stop offset="0.1351" stop-color="#311337"/><stop offset="0.1360" stop-color="#2f1436"/><stop offset="0.1369" stop-color="#351140"/><stop offset="0.1377" stop-color="#401254"/><stop offset="0.1386" stop-color="#4d176d"/><stop offset="0.1395" stop-color="#572386"/><stop offset="0.1404" stop-color="#5c359a"/><stop offset="0.1413" stop-color="#5e47a7"/><stop offset="0.1440" stop-color="#6067b6"/><stop offset="0.1467" stop-color="#6682bd"/><stop offset="0.1494" stop-color="#698abf"/><stop offset="0.1664" stop-color="#769bc1"/><stop offset="0.2594" stop-color="#9ebbc9"/><stop offset="0.4544" stop-color="#b6c8cf"/><stop offset="0.8256" stop-color="#c2ced4"/><stop offset="1.0000" stop-color="#c6d0d5"/></linearGradient><linearGradient id="g101" x2="0" y2="1"><stop offset="0.0000" stop-color="#e0dae0"/><stop offset="0.1199" stop-color="#e0dae0"/><stop offset="0.1216" stop-color="#dfd7d9"/><stop offset="0.1225" stop-color="#dcd0ce"/><stop offset="0.1234" stop-color="#d7c4b9"/><stop offset="0.1243" stop-color="#d1b5a1"/><stop offset="0.1261" stop-color="#c78c6f"/><stop offset="0.1270" stop-color="#c0755e"/><stop offset="0.1279" stop-color="#b75f54"/><stop offset="0.1297" stop-color="#993650"/><stop offset="0.1306" stop-color="#872750"/><stop offset="0.1315" stop-color="#711d4f"/><stop offset="0.1333" stop-color="#4a1342"/><stop offset="0.1342" stop-color="#3d113c"/><stop offset="0.1360" stop-color="#311337"/><stop offset="0.1369" stop-color="#2f1436"/><stop offset="0.1377" stop-color="#34113f"/><stop offset="0.1386" stop-color="#401253"/><stop offset="0.1395" stop-color="#4d176c"/><stop offset="0.1404" stop-color="#572386"/><stop offset="0.1413" stop-color="#5c359a"/><stop offset="0.1422" stop-color="#5e47a7"/><stop offset="0.1440" stop-color="#5f5fb3"/><stop offset="0.1476" stop-color="#6683bd"/><stop offset="0.1503" stop-color="#6a8cbf"/><stop offset="0.1673" stop-color="#769cc1"/><stop offset="0.2612" stop-color="#a0bcc9"/><stop offset="0.4624" stop-color="#b8c9d0"/><stop offset="0.9875" stop-color="#c6d0d5"/><stop offset="1.0000" stop-color="#c6d0d5"/></linearGradient><linearGradient id="g102" x2="0" y2="1"><stop offset="0.0000" stop-color="#e0dae0"/><stop offset="0.1208" stop-color="#e0dae0"/><stop offset="0.1225" stop-color="#dfd7d9"/><stop offset="0.1234" stop-color="#dcd1cf"/><stop offset="0.1243" stop-color="#d8c5bc"/><stop offset="0.1261" stop-color="#cca389"/><stop offset="0.1270" stop-color="#c78e71"/><stop offset="0.1279" stop-color="#c1775f"/><stop offset="0.1288" stop-color="#b86155"/><stop offset="0.1306" stop-color="#9b3850"/><stop offset="0.1315" stop-color="#882850"/><stop offset="0.1324" stop-color="#731d4f"/><stop offset="0.1342" stop-color="#4b1342"/><stop offset="0.1351" stop-color="#3e113c"/><stop offset="0.1360" stop-color="#361138"/><stop offset="0.1377" stop-color="#2f1436"/><stop offset="0.1386" stop-color="#34113e"/><stop offset="0.1395" stop-color="#3f1251"/><stop offset="0.1404" stop-color="#4c176b"/><stop offset="0.1413" stop-color="#572385"/><stop offset="0.1422" stop-color="#5c359a"/><stop offset="0.1431" stop-color="#5e48a8"/><stop offset="0.1440" stop-color="#5f56af"/><stop offset="0.1476" stop-color="#647cbc"/><stop offset="0.1494" stop-color="#698abf"/><stop offset="0.1673" stop-color="#779dc2"/><stop offset="0.2657" stop-color="#a2bdca"/><stop offset="0.4589" stop-color="#b8c9d0"/><stop offset="0.7970" stop-color="#c2ced4"/><stop offset="1.0000" stop-color="#c7d0d5"/></linearGradient><linearGradient id="g103" x2="0" y2="1"><stop offset="0.0000" stop-color="#e0dae0"/><stop offset="0.1225" stop-color="#e0dadf"/><stop offset="0.1234" stop-color="#dfd7da"/><stop offset="0.1243" stop-color="#ddd1d0"/><stop offset="0.1252" stop-color="#d8c6be"/><stop offset="0.1270" stop-color="#cca58b"/><stop offset="0.1279" stop-color="#c89073"/><stop offset="0.1288" stop-color="#c27961"/><stop offset="0.1297" stop-color="#b96356"/><stop offset="0.1306" stop-color="#ac4d51"/><stop offset="0.1324" stop-color="#8a2950"/><stop offset="0.1333" stop-color="#751e4f"/><stop offset="0.1351" stop-color="#4d1443"/><stop offset="0.1360" stop-color="#3f123d"/><stop offset="0.1369" stop-color="#361139"/><stop offset="0.1386" stop-color="#2f1436"/><stop offset="0.1395" stop-color="#33113d"/><stop offset="0.1404" stop-color="#3e1150"/><stop offset="0.1413" stop-color="#4c176a"/><stop offset="0.1422" stop-color="#572385"/><stop offset="0.1431" stop-color="#5c359a"/><stop offset="0.1440" stop-color="#5e48a8"/><stop offset="0.1449" stop-color="#5f58b0"/><stop offset="0.1485" stop-color="#647dbc"/><stop offset="0.1503" stop-color="#6b8cbf"/><stop offset="0.1682" stop-color="#789ec2"/><stop offset="0.2665" stop-color="#a4beca"/><stop offset="0.4660" stop-color="#b9c9d0"/><stop offset="1.0000" stop-color="#c7d0d6"/></linearGradient><linearGradient id="g104" x2="0" y2="1"><stop offset="0.0000" stop-color="#e0dae0"/><stop offset="0.1234" stop-color="#e0dadf"/><stop offset="0.1243" stop-color="#dfd8da"/><stop offset="0.1252" stop-color="#ddd2d1"/><stop offset="0.1261" stop-color="#d9c8c0"/><stop offset="0.1279" stop-color="#cda78d"/><stop offset="0.1288" stop-color="#c89275"/><stop offset="0.1297" stop-color="#c27b62"/><stop offset="0.1306" stop-color="#b96456"/><stop offset="0.1315" stop-color="#ad4e51"/><stop offset="0.1333" stop-color="#8c2a50"/><stop offset="0.1342" stop-color="#771f4f"/><stop offset="0.1360" stop-color="#4e1444"/><stop offset="0.1369" stop-color="#40123d"/><stop offset="0.1377" stop-color="#371139"/><stop offset="0.1395" stop-color="#2f1436"/><stop offset="0.1404" stop-color="#33123b"/><stop offset="0.1413" stop-color="#3d114e"/><stop offset="0.1422" stop-color="#4c1669"/><stop offset="0.1431" stop-color="#562284"/><stop offset="0.1440" stop-color="#5c359a"/><stop offset="0.1449" stop-color="#5e48a8"/><stop offset="0.1458" stop-color="#5f59b1"/><stop offset="0.1494" stop-color="#657fbd"/><stop offset="0.1512" stop-color="#6c8ebf"/><stop offset="0.1699" stop-color="#7a9fc2"/><stop offset="0.2683" stop-color="#a5bfca"/><stop offset="0.4597" stop-color="#b9c9d0"/><stop offset="0.8256" stop-color="#c4ced4"/><stop offset="1.0000" stop-color="#c7d0d6"/></linearGradient><linearGradient id="g105" x2="0" y2="1"><stop offset="0.0000" stop-color="#e0dae0"/><stop offset="0.1243" stop-color="#e0dadf"/><stop offset="0.1252" stop-color="#dfd8db"/><stop offset="0.1261" stop-color="#ddd3d2"/><stop offset="0.1270" stop-color="#d9c9c2"/><stop offset="0.1288" stop-color="#cda88f"/><stop offset="0.1297" stop-color="#c89477"/><stop offset="0.1306" stop-color="#c37d63"/><stop offset="0.1315" stop-color="#ba6657"/><stop offset="0.1324" stop-color="#ae5151"/><stop offset="0.1342" stop-color="#8e2c50"/><stop offset="0.1351" stop-color="#792050"/><stop offset="0.1369" stop-color="#501444"/><stop offset="0.1377" stop-color="#41123d"/><stop offset="0.1386" stop-color="#381139"/><stop offset="0.1404" stop-color="#301436"/><stop offset="0.1413" stop-color="#32123a"/><stop offset="0.1422" stop-color="#3d114d"/><stop offset="0.1431" stop-color="#4b1668"/><stop offset="0.1440" stop-color="#562284"/><stop offset="0.1449" stop-color="#5c359a"/><stop offset="0.1458" stop-color="#5e49a8"/><stop offset="0.1467" stop-color="#5f5ab1"/><stop offset="0.1503" stop-color="#6580bd"/><stop offset="0.1521" stop-color="#6d90c0"/><stop offset="0.1717" stop-color="#7ba1c2"/><stop offset="0.2701" stop-color="#a7c0cb"/><stop offset="0.4678" stop-color="#bbcad1"/><stop offset="1.0000" stop-color="#c8d1d6"/></linearGradient><linearGradient id="g106" x2="0" y2="1"><stop offset="0.0000" stop-color="#e0dae0"/><stop offset="0.1252" stop-color="#e0dadf"/><stop offset="0.1261" stop-color="#dfd8da"/><stop offset="0.1270" stop-color="#ddd2d1"/><stop offset="0.1279" stop-color="#d9c8c0"/><stop offset="0.1297" stop-color="#cda78e"/><stop offset="0.1306" stop-color="#c89275"/><stop offset="0.1315" stop-color="#c27c62"/><stop offset="0.1324" stop-color="#ba6557"/><stop offset="0.1333" stop-color="#ae4f51"/><stop offset="0.1351" stop-color="#8d2b50"/><stop offset="0.1360" stop-color="#781f4f"/><stop offset="0.1377" stop-color="#4f1444"/><stop offset="0.1386" stop-color="#41123d"/><stop offset="0.1395" stop-color="#371139"/><stop offset="0.1413" stop-color="#2f1436"/><stop offset="0.1422" stop-color="#32123b"/><stop offset="0.1431" stop-color="#3d114d"/><stop offset="0.1440" stop-color="#4b1668"/><stop offset="0.1449" stop-color="#562284"/><stop offset="0.1458" stop-color="#5c359a"/><stop offset="0.1467" stop-color="#5e49a9"/><stop offset="0.1476" stop-color="#5f5bb1"/><stop offset="0.1512" stop-color="#6682bd"/><stop offset="0.1530" stop-color="#6e91c0"/><stop offset="0.1717" stop-color="#7ca2c2"/><stop offset="0.2701" stop-color="#a7c0cb"/><stop offset="0.4615" stop-color="#bbcad1"/><stop offset="0.9204" stop-color="#c6d0d5"/><stop offset="1.0000" stop-color="#c8d1d6"/></linearGradient><linearGradient id="g107" x2="0" y2="1"><stop offset="0.0000" stop-color="#e0dae0"/><stop offset="0.1261" stop-color="#e0dadf"/><stop offset="0.1270" stop-color="#dfd7da"/><stop offset="0.1279" stop-color="#ddd1cf"/><stop offset="0.1288" stop-color="#d8c6bd"/><stop offset="0.1306" stop-color="#cca58b"/><stop offset="0.1315" stop-color="#c89073"/><stop offset="0.1324" stop-color="#c27961"/><stop offset="0.1333" stop-color="#b96356"/><stop offset="0.1342" stop-color="#ac4d51"/><stop offset="0.1360" stop-color="#8b2a50"/><stop offset="0.1369" stop-color="#761e4f"/><stop offset="0.1386" stop-color="#4e1443"/><stop offset="0.1395" stop-color="#40123d"/><stop offset="0.1404" stop-color="#371139"/><stop offset="0.1422" stop-color="#2f1436"/><stop offset="0.1431" stop-color="#33123c"/><stop offset="0.1440" stop-color="#3d114e"/><stop offset="0.1449" stop-color="#4b1668"/><stop offset="0.1458" stop-color="#562284"/><stop offset="0.1467" stop-color="#5c359a"/><stop offset="0.1476" stop-color="#5e49a9"/><stop offset="0.1485" stop-color="#5f5bb1"/><stop offset="0.1521" stop-color="#6683bd"/><stop offset="0.1538" stop-color="#6e92c0"/><stop offset="0.1717" stop-color="#7ea3c3"/><stop offset="0.2719" stop-color="#a9c1cb"/><stop offset="0.4687" stop-color="#bccbd1"/><stop offset="1.0000" stop-color="#c8d1d6"/></linearGradient><linearGradient id="g108" x2="0" y2="1"><stop offset="0.0000" stop-color="#e0dae0"/><stop offset="0.1261" stop-color="#e0dae0"/><stop offset="0.1279" stop-color="#dfd7d9"/><stop offset="0.1288" stop-color="#dcd0ce"/><stop offset="0.1297" stop-color="#d7c5ba"/><stop offset="0.1315" stop-color="#cca287"/><stop offset="0.1324" stop-color="#c78e71"/><stop offset="0.1333" stop-color="#c1775f"/><stop offset="0.1342" stop-color="#b86155"/><stop offset="0.1360" stop-color="#9b3850"/><stop offset="0.1369" stop-color="#882850"/><stop offset="0.1377" stop-color="#741e4f"/><stop offset="0.1395" stop-color="#4d1443"/><stop offset="0.1404" stop-color="#3f113c"/><stop offset="0.1422" stop-color="#321237"/><stop offset="0.1431" stop-color="#2f1436"/><stop offset="0.1440" stop-color="#33113c"/><stop offset="0.1449" stop-color="#3d114e"/><stop offset="0.1458" stop-color="#4b1668"/><stop offset="0.1467" stop-color="#562284"/><stop offset="0.1476" stop-color="#5c359a"/><stop offset="0.1485" stop-color="#5e4aa9"/><stop offset="0.1494" stop-color="#5f5bb2"/><stop offset="0.1530" stop-color="#6784be"/><stop offset="0.1547" stop-color="#6f93c0"/><stop offset="0.1717" stop-color="#7fa5c3"/><stop offset="0.2737" stop-color="#aac2cc"/><stop offset="0.4642" stop-color="#bdcbd2"/><stop offset="0.9562" stop-color="#c8d1d6"/><stop offset="1.0000" stop-color="#c9d1d6"/></linearGradient><linearGradient id="g109" x2="0" y2="1"><stop offset="0.0000" stop-color="#e0dae0"/><stop offset="0.1270" stop-color="#e0dae0"/><stop offset="0.1288" stop-color="#dfd6d8"/><stop offset="0.1297" stop-color="#dccfcb"/><stop offset="0.1306" stop-color="#d7c3b8"/><stop offset="0.1324" stop-color="#cba085"/><stop offset="0.1333" stop-color="#c68b6e"/><stop offset="0.1342" stop-color="#c0745e"/><stop offset="0.1351" stop-color="#b65e54"/><stop offset="0.1369" stop-color="#993650"/><stop offset="0.1377" stop-color="#872750"/><stop offset="0.1386" stop-color="#721d4f"/><stop offset="0.1404" stop-color="#4b1342"/><stop offset="0.1413" stop-color="#3e113c"/><stop offset="0.1422" stop-color="#361138"/><stop offset="0.1440" stop-color="#2f1436"/><stop offset="0.1449" stop-color="#33113d"/><stop offset="0.1458" stop-color="#3e114f"/><stop offset="0.1467" stop-color="#4b1668"/><stop offset="0.1476" stop-color="#562284"/><stop offset="0.1485" stop-color="#5c359a"/><stop offset="0.1494" stop-color="#5e4ba9"/><stop offset="0.1503" stop-color="#5f5bb2"/><stop offset="0.1538" stop-color="#6786be"/><stop offset="0.1556" stop-color="#7094c0"/><stop offset="0.1708" stop-color="#80a5c3"/><stop offset="0.2755" stop-color="#acc2cc"/><stop offset="0.4732" stop-color="#beccd2"/><stop offset="1.0000" stop-color="#c9d1d6"/></linearGradient><linearGradient id="g110" x2="0" y2="1"><stop offset="0.0000" stop-color="#e0dae0"/><stop offset="0.1279" stop-color="#e0dae0"/><stop offset="0.1297" stop-color="#ded5d6"/><stop offset="0.1306" stop-color="#dbcdc9"/><stop offset="0.1324" stop-color="#d0b19c"/><stop offset="0.1333" stop-color="#cb9d82"/><stop offset="0.1342" stop-color="#c6896c"/><stop offset="0.1351" stop-color="#bf725c"/><stop offset="0.1360" stop-color="#b55c54"/><stop offset="0.1377" stop-color="#973450"/><stop offset="0.1386" stop-color="#852650"/><stop offset="0.1404" stop-color="#5b1749"/><stop offset="0.1413" stop-color="#4a1342"/><stop offset="0.1422" stop-color="#3d113c"/><stop offset="0.1440" stop-color="#311337"/><stop offset="0.1449" stop-color="#2f1436"/><stop offset="0.1458" stop-color="#34113e"/><stop offset="0.1467" stop-color="#3e1150"/><stop offset="0.1476" stop-color="#4b1668"/><stop offset="0.1485" stop-color="#562284"/><stop offset="0.1494" stop-color="#5c369b"/><stop offset="0.1503" stop-color="#5e4ba9"/><stop offset="0.1521" stop-color="#6068b6"/><stop offset="0.1547" stop-color="#6887be"/><stop offset="0.1556" stop-color="#6d90c0"/><stop offset="0.1583" stop-color="#7499c1"/><stop offset="0.1735" stop-color="#82a7c3"/><stop offset="0.2755" stop-color="#acc3cc"/><stop offset="0.4669" stop-color="#beccd2"/><stop offset="0.9955" stop-color="#c9d1d6"/><stop offset="1.0000" stop-color="#c9d1d7"/></linearGradient><linearGradient id="g111" x2="0" y2="1"><stop offset="0.0000" stop-color="#e0dae0"/><stop offset="0.1288" stop-color="#e0dae0"/><stop offset="0.1306" stop-color="#ded5d5"/><stop offset="0.1315" stop-color="#dbccc7"/><stop offset="0.1333" stop-color="#cfaf99"/><stop offset="0.1342" stop-color="#ca9b7f"/><stop offset="0.1351" stop-color="#c5866a"/><stop offset="0.1360" stop-color="#be705b"/><stop offset="0.1369" stop-color="#b45a53"/><stop offset="0.1386" stop-color="#963350"/><stop offset="0.1395" stop-color="#832550"/><stop offset="0.1413" stop-color="#591648"/><stop offset="0.1422" stop-color="#491341"/><stop offset="0.1431" stop-color="#3c113b"/><stop offset="0.1449" stop-color="#311337"/><stop offset="0.1458" stop-color="#2f1436"/><stop offset="0.1467" stop-color="#34113f"/><stop offset="0.1476" stop-color="#3e1150"/><stop offset="0.1485" stop-color="#4b1668"/><stop offset="0.1494" stop-color="#562284"/><stop offset="0.1503" stop-color="#5c369b"/><stop offset="0.1512" stop-color="#5e4caa"/><stop offset="0.1530" stop-color="#6069b7"/><stop offset="0.1556" stop-color="#6888be"/><stop offset="0.1565" stop-color="#6e91c0"/><stop offset="0.1592" stop-color="#769bc1"/><stop offset="0.1735" stop-color="#84a9c4"/><stop offset="0.2764" stop-color="#adc3cd"/><stop offset="0.4723" stop-color="#bfccd3"/><stop offset="1.0000" stop-color="#cad2d7"/></linearGradient><linearGradient id="g112" x2="0" y2="1"><stop offset="0.0000" stop-color="#e0dae0"/><stop offset="0.1297" stop-color="#e0dadf"/><stop offset="0.1306" stop-color="#e0d8dc"/><stop offset="0.1315" stop-color="#ded4d4"/><stop offset="0.1324" stop-color="#dacbc5"/><stop offset="0.1342" stop-color="#cfad96"/><stop offset="0.1351" stop-color="#ca997c"/><stop offset="0.1360" stop-color="#c58468"/><stop offset="0.1369" stop-color="#bd6d5a"/><stop offset="0.1377" stop-color="#b35752"/><stop offset="0.1395" stop-color="#943150"/><stop offset="0.1404" stop-color="#812450"/><stop offset="0.1422" stop-color="#581647"/><stop offset="0.1431" stop-color="#471340"/><stop offset="0.1440" stop-color="#3b113b"/><stop offset="0.1458" stop-color="#311337"/><stop offset="0.1467" stop-color="#2f1436"/><stop offset="0.1476" stop-color="#35113f"/><stop offset="0.1485" stop-color="#3f1251"/><stop offset="0.1494" stop-color="#4b1668"/><stop offset="0.1503" stop-color="#562284"/><stop offset="0.1512" stop-color="#5c369b"/><stop offset="0.1521" stop-color="#5e4caa"/><stop offset="0.1538" stop-color="#606ab7"/><stop offset="0.1565" stop-color="#6989be"/><stop offset="0.1574" stop-color="#6f92c0"/><stop offset="0.1601" stop-color="#779cc2"/><stop offset="0.1735" stop-color="#86aac4"/><stop offset="0.2782" stop-color="#afc4cd"/><stop offset="0.4678" stop-color="#bfccd3"/><stop offset="1.0000" stop-color="#cad2d7"/></linearGradient><linearGradient id="g113" x2="0" y2="1"><stop offset="0.0000" stop-color="#e0dae0"/><stop offset="0.1306" stop-color="#e0dadf"/><stop offset="0.1315" stop-color="#dfd8db"/><stop offset="0.1324" stop-color="#ddd3d3"/><stop offset="0.1333" stop-color="#dac9c2"/><stop offset="0.1351" stop-color="#ceab92"/><stop offset="0.1360" stop-color="#c9977a"/><stop offset="0.1369" stop-color="#c48166"/><stop offset="0.1377" stop-color="#bc6b59"/><stop offset="0.1386" stop-color="#b15552"/><stop offset="0.1404" stop-color="#922f50"/><stop offset="0.1413" stop-color="#7f2350"/><stop offset="0.1431" stop-color="#571647"/><stop offset="0.1440" stop-color="#461240"/><stop offset="0.1449" stop-color="#3b113b"/><stop offset="0.1467" stop-color="#311337"/><stop offset="0.1476" stop-color="#2f1437"/><stop offset="0.1485" stop-color="#351140"/><stop offset="0.1494" stop-color="#3f1251"/><stop offset="0.1503" stop-color="#4a1667"/><stop offset="0.1512" stop-color="#562284"/><stop offset="0.1521" stop-color="#5c379b"/><stop offset="0.1530" stop-color="#5e4dab"/><stop offset="0.1547" stop-color="#606cb8"/><stop offset="0.1574" stop-color="#6a8abf"/><stop offset="0.1583" stop-color="#7094c0"/><stop offset="0.1610" stop-color="#789ec2"/><stop offset="0.1744" stop-color="#88acc4"/><stop offset="0.2800" stop-color="#b0c5cd"/><stop offset="0.4776" stop-color="#c1cdd3"/><stop offset="1.0000" stop-color="#cad2d7"/></linearGradient><linearGradient id="g114" x2="0" y2="1"><stop offset="0.0000" stop-color="#e0dae0"/><stop offset="0.1315" stop-color="#e0dadf"/><stop offset="0.1324" stop-color="#dfd8da"/><stop offset="0.1333" stop-color="#ddd2d1"/><stop offset="0.1342" stop-color="#d9c8c0"/><stop offset="0.1360" stop-color="#cda88f"/><stop offset="0.1369" stop-color="#c99477"/><stop offset="0.1377" stop-color="#c37f64"/><stop offset="0.1386" stop-color="#bb6858"/><stop offset="0.1395" stop-color="#b05351"/><stop offset="0.1413" stop-color="#902e50"/><stop offset="0.1422" stop-color="#7d2250"/><stop offset="0.1440" stop-color="#551546"/><stop offset="0.1449" stop-color="#45123f"/><stop offset="0.1458" stop-color="#3a113a"/><stop offset="0.1476" stop-color="#311337"/><stop offset="0.1485" stop-color="#2f1437"/><stop offset="0.1494" stop-color="#351140"/><stop offset="0.1503" stop-color="#3f1251"/><stop offset="0.1512" stop-color="#4a1566"/><stop offset="0.1521" stop-color="#562284"/><stop offset="0.1530" stop-color="#5c379c"/><stop offset="0.1538" stop-color="#5e4dab"/><stop offset="0.1556" stop-color="#606db8"/><stop offset="0.1583" stop-color="#6a8bbf"/><stop offset="0.1592" stop-color="#7195c0"/><stop offset="0.1619" stop-color="#7a9fc2"/><stop offset="0.1744" stop-color="#89adc5"/><stop offset="0.2809" stop-color="#b1c5ce"/><stop offset="0.4624" stop-color="#c1cdd3"/><stop offset="1.0000" stop-color="#cbd2d7"/></linearGradient><linearGradient id="g115" x2="0" y2="1"><stop offset="0.0000" stop-color="#e0dae0"/><stop offset="0.1315" stop-color="#e0dae0"/><stop offset="0.1333" stop-color="#dfd7d9"/><stop offset="0.1342" stop-color="#dcd1cf"/><stop offset="0.1351" stop-color="#d8c6bd"/><stop offset="0.1360" stop-color="#d2b8a6"/><stop offset="0.1377" stop-color="#c89275"/><stop offset="0.1386" stop-color="#c27c63"/><stop offset="0.1395" stop-color="#ba6657"/><stop offset="0.1404" stop-color="#af5151"/><stop offset="0.1422" stop-color="#8f2d50"/><stop offset="0.1431" stop-color="#7b2150"/><stop offset="0.1449" stop-color="#531546"/><stop offset="0.1458" stop-color="#44123f"/><stop offset="0.1467" stop-color="#3a113a"/><stop offset="0.1485" stop-color="#301337"/><stop offset="0.1494" stop-color="#2f1437"/><stop offset="0.1503" stop-color="#361141"/><stop offset="0.1512" stop-color="#3f1251"/><stop offset="0.1521" stop-color="#4a1566"/><stop offset="0.1530" stop-color="#562284"/><stop offset="0.1538" stop-color="#5c379c"/><stop offset="0.1547" stop-color="#5e4eab"/><stop offset="0.1565" stop-color="#606eb8"/><stop offset="0.1592" stop-color="#6b8dbf"/><stop offset="0.1601" stop-color="#7196c1"/><stop offset="0.1619" stop-color="#7a9fc2"/><stop offset="0.1744" stop-color="#8aaec5"/><stop offset="0.2800" stop-color="#b2c6ce"/><stop offset="0.4258" stop-color="#bfccd3"/><stop offset="0.7451" stop-color="#c8d1d6"/><stop offset="1.0000" stop-color="#ccd3d8"/></linearGradient><linearGradient id="g116" x2="0" y2="1"><stop offset="0.0000" stop-color="#e0dae0"/><stop offset="0.1324" stop-color="#e0dae0"/><stop offset="0.1342" stop-color="#dfd7d8"/><stop offset="0.1351" stop-color="#dcd0ce"/><stop offset="0.1360" stop-color="#d8c5bb"/><stop offset="0.1377" stop-color="#cca489"/><stop offset="0.1386" stop-color="#c89073"/><stop offset="0.1395" stop-color="#c27a61"/><stop offset="0.1404" stop-color="#b96456"/><stop offset="0.1413" stop-color="#ad4e51"/><stop offset="0.1431" stop-color="#8e2c50"/><stop offset="0.1440" stop-color="#792050"/><stop offset="0.1458" stop-color="#521545"/><stop offset="0.1467" stop-color="#43123e"/><stop offset="0.1476" stop-color="#39113a"/><stop offset="0.1494" stop-color="#301437"/><stop offset="0.1503" stop-color="#2f1437"/><stop offset="0.1512" stop-color="#361141"/><stop offset="0.1521" stop-color="#3f1251"/><stop offset="0.1530" stop-color="#4a1565"/><stop offset="0.1538" stop-color="#562285"/><stop offset="0.1547" stop-color="#5c389d"/><stop offset="0.1556" stop-color="#5e4eab"/><stop offset="0.1574" stop-color="#616fb9"/><stop offset="0.1601" stop-color="#6c8ebf"/><stop offset="0.1610" stop-color="#7397c1"/><stop offset="0.1628" stop-color="#7ba1c2"/><stop offset="0.1753" stop-color="#8dafc5"/><stop offset="0.2818" stop-color="#b3c6ce"/><stop offset="0.4329" stop-color="#c1cdd3"/><stop offset="0.8828" stop-color="#cad2d7"/><stop offset="1.0000" stop-color="#ccd3d8"/></linearGradient><linearGradient id="g117" x2="0" y2="1"><stop offset="0.0000" stop-color="#e0dae0"/><stop offset="0.1333" stop-color="#e0dae0"/><stop offset="0.1351" stop-color="#ded6d7"/><stop offset="0.1360" stop-color="#dccfcb"/><stop offset="0.1369" stop-color="#d7c3b8"/><stop offset="0.1386" stop-color="#cca287"/><stop offset="0.1395" stop-color="#c78d70"/><stop offset="0.1404" stop-color="#c1775f"/><stop offset="0.1413" stop-color="#b86255"/><stop offset="0.1431" stop-color="#9d3a50"/><stop offset="0.1449" stop-color="#781f4f"/><stop offset="0.1467" stop-color="#501444"/><stop offset="0.1476" stop-color="#42123e"/><stop offset="0.1485" stop-color="#381139"/><stop offset="0.1503" stop-color="#301437"/><stop offset="0.1512" stop-color="#301437"/><stop offset="0.1521" stop-color="#361142"/><stop offset="0.1530" stop-color="#3f1251"/><stop offset="0.1538" stop-color="#491565"/><stop offset="0.1547" stop-color="#572385"/><stop offset="0.1556" stop-color="#5c389d"/><stop offset="0.1565" stop-color="#5e4fac"/><stop offset="0.1583" stop-color="#6170b9"/><stop offset="0.1610" stop-color="#6c8fbf"/><stop offset="0.1619" stop-color="#7499c1"/><stop offset="0.1637" stop-color="#7da3c3"/><stop offset="0.1753" stop-color="#8eb1c5"/><stop offset="0.2844" stop-color="#b5c7cf"/><stop offset="0.4240" stop-color="#c1cdd3"/><stop offset="0.7692" stop-color="#c9d1d6"/><stop offset="1.0000" stop-color="#ccd3d8"/></linearGradient><linearGradient id="g118" x2="0" y2="1"><stop offset="0.0000" stop-color="#e0dae0"/><stop offset="0.1342" stop-color="#e0dae0"/><stop offset="0.1360" stop-color="#ded5d6"/><stop offset="0.1369" stop-color="#dbcdc9"/><stop offset="0.1377" stop-color="#d6c2b5"/><stop offset="0.1395" stop-color="#cba084"/><stop offset="0.1404" stop-color="#c68b6e"/><stop offset="0.1413" stop-color="#c0755e"/><stop offset="0.1422" stop-color="#b75f55"/><stop offset="0.1440" stop-color="#9b3850"/><stop offset="0.1449" stop-color="#8a2950"/><stop offset="0.1458" stop-color="#761e4f"/><stop offset="0.1476" stop-color="#4f1444"/><stop offset="0.1485" stop-color="#41123d"/><stop offset="0.1494" stop-color="#381139"/><stop offset="0.1512" stop-color="#301437"/><stop offset="0.1521" stop-color="#301338"/><stop offset="0.1530" stop-color="#361142"/><stop offset="0.1538" stop-color="#3f1251"/><stop offset="0.1547" stop-color="#491565"/><stop offset="0.1556" stop-color="#572385"/><stop offset="0.1565" stop-color="#5c399d"/><stop offset="0.1574" stop-color="#5e4fac"/><stop offset="0.1592" stop-color="#6171b9"/><stop offset="0.1619" stop-color="#6d90c0"/><stop offset="0.1628" stop-color="#759ac1"/><stop offset="0.1646" stop-color="#7ea4c3"/><stop offset="0.1753" stop-color="#8fb1c6"/><stop offset="0.2844" stop-color="#b6c8cf"/><stop offset="0.4097" stop-color="#c1cdd3"/><stop offset="0.7335" stop-color="#c9d1d6"/><stop offset="1.0000" stop-color="#cdd3d8"/></linearGradient><linearGradient id="g119" x2="0" y2="1"><stop offset="0.0000" stop-color="#e0dae0"/><stop offset="0.1351" stop-color="#e0dae0"/><stop offset="0.1369" stop-color="#ded5d5"/><stop offset="0.1377" stop-color="#dbccc7"/><stop offset="0.1395" stop-color="#cfb09a"/><stop offset="0.1413" stop-color="#c6896c"/><stop offset="0.1422" stop-color="#bf725d"/><stop offset="0.1431" stop-color="#b65d54"/><stop offset="0.1449" stop-color="#9a3750"/><stop offset="0.1458" stop-color="#882850"/><stop offset="0.1467" stop-color="#741e4f"/><stop offset="0.1485" stop-color="#4e1443"/><stop offset="0.1494" stop-color="#40123d"/><stop offset="0.1503" stop-color="#371139"/><stop offset="0.1521" stop-color="#301436"/><stop offset="0.1530" stop-color="#311338"/><stop offset="0.1538" stop-color="#371142"/><stop offset="0.1547" stop-color="#3f1251"/><stop offset="0.1556" stop-color="#491565"/><stop offset="0.1565" stop-color="#572385"/><stop offset="0.1574" stop-color="#5d3a9e"/><stop offset="0.1583" stop-color="#5e50ac"/><stop offset="0.1601" stop-color="#6172ba"/><stop offset="0.1628" stop-color="#6e92c0"/><stop offset="0.1646" stop-color="#7ba1c2"/><stop offset="0.1655" stop-color="#80a5c3"/><stop offset="0.1762" stop-color="#92b3c6"/><stop offset="0.2844" stop-color="#b6c8cf"/><stop offset="0.3775" stop-color="#bfccd3"/><stop offset="0.5948" stop-color="#c8d1d6"/><stop offset="1.0000" stop-color="#cdd3d8"/></linearGradient><linearGradient id="g120" x2="0" y2="1"><stop offset="0.0000" stop-color="#e0dae0"/><stop offset="0.1360" stop-color="#e0dadf"/><stop offset="0.1377" stop-color="#ded4d4"/><stop offset="0.1386" stop-color="#dacbc5"/><stop offset="0.1404" stop-color="#cfae97"/><stop offset="0.1422" stop-color="#c5866a"/><stop offset="0.1431" stop-color="#be705b"/><stop offset="0.1440" stop-color="#b55b53"/><stop offset="0.1458" stop-color="#983550"/><stop offset="0.1467" stop-color="#862750"/><stop offset="0.1485" stop-color="#5e174a"/><stop offset="0.1503" stop-color="#3f123d"/><stop offset="0.1521" stop-color="#321237"/><stop offset="0.1530" stop-color="#2f1436"/><stop offset="0.1538" stop-color="#311339"/><stop offset="0.1556" stop-color="#3f1251"/><stop offset="0.1565" stop-color="#4a1565"/><stop offset="0.1574" stop-color="#572386"/><stop offset="0.1583" stop-color="#5d3a9e"/><stop offset="0.1592" stop-color="#5e51ad"/><stop offset="0.1610" stop-color="#6173ba"/><stop offset="0.1637" stop-color="#6f93c0"/><stop offset="0.1655" stop-color="#7ca2c2"/><stop offset="0.1673" stop-color="#84a8c4"/><stop offset="0.1771" stop-color="#95b5c7"/><stop offset="0.2871" stop-color="#b8c9d0"/><stop offset="0.3828" stop-color="#c1cdd3"/><stop offset="0.5868" stop-color="#c8d1d6"/><stop offset="1.0000" stop-color="#cdd3d8"/></linearGradient><linearGradient id="g121" x2="0" y2="1"><stop offset="0.0000" stop-color="#e0dae0"/><stop offset="0.1369" stop-color="#e0dadf"/><stop offset="0.1386" stop-color="#ddd3d2"/><stop offset="0.1395" stop-color="#dacac3"/><stop offset="0.1413" stop-color="#ceac94"/><stop offset="0.1422" stop-color="#ca997c"/><stop offset="0.1431" stop-color="#c58468"/><stop offset="0.1440" stop-color="#bd6e5a"/><stop offset="0.1449" stop-color="#b35953"/><stop offset="0.1467" stop-color="#963350"/><stop offset="0.1476" stop-color="#842650"/><stop offset="0.1494" stop-color="#5c1749"/><stop offset="0.1512" stop-color="#3e113c"/><stop offset="0.1530" stop-color="#321237"/><stop offset="0.1538" stop-color="#2f1436"/><stop offset="0.1547" stop-color="#311239"/><stop offset="0.1565" stop-color="#3e1150"/><stop offset="0.1574" stop-color="#4a1566"/><stop offset="0.1583" stop-color="#572487"/><stop offset="0.1592" stop-color="#5d3b9f"/><stop offset="0.1601" stop-color="#5e51ad"/><stop offset="0.1619" stop-color="#6275ba"/><stop offset="0.1646" stop-color="#7094c0"/><stop offset="0.1664" stop-color="#7ea4c3"/><stop offset="0.1673" stop-color="#84a8c4"/><stop offset="0.1771" stop-color="#96b6c7"/><stop offset="0.2880" stop-color="#b9c9d0"/><stop offset="0.3891" stop-color="#c2ced4"/><stop offset="0.7111" stop-color="#cad2d7"/><stop offset="1.0000" stop-color="#ced4d9"/></linearGradient><linearGradient id="g122" x2="0" y2="1"><stop offset="0.0000" stop-color="#e0dae0"/><stop offset="0.1377" stop-color="#e0dadf"/><stop offset="0.1386" stop-color="#dfd7da"/><stop offset="0.1395" stop-color="#ddd2d0"/><stop offset="0.1404" stop-color="#d9c8c0"/><stop offset="0.1422" stop-color="#cea991"/><stop offset="0.1431" stop-color="#c99679"/><stop offset="0.1440" stop-color="#c48166"/><stop offset="0.1449" stop-color="#bc6b59"/><stop offset="0.1458" stop-color="#b25652"/><stop offset="0.1476" stop-color="#953250"/><stop offset="0.1485" stop-color="#832550"/><stop offset="0.1503" stop-color="#5b1648"/><stop offset="0.1521" stop-color="#3d113c"/><stop offset="0.1538" stop-color="#321237"/><stop offset="0.1547" stop-color="#2f1436"/><stop offset="0.1556" stop-color="#31123a"/><stop offset="0.1574" stop-color="#3e1150"/><stop offset="0.1583" stop-color="#4a1566"/><stop offset="0.1592" stop-color="#572487"/><stop offset="0.1601" stop-color="#5d3b9f"/><stop offset="0.1610" stop-color="#5e52ad"/><stop offset="0.1619" stop-color="#6066b6"/><stop offset="0.1628" stop-color="#6276ba"/><stop offset="0.1655" stop-color="#7195c0"/><stop offset="0.1673" stop-color="#7fa5c3"/><stop offset="0.1691" stop-color="#87abc4"/><stop offset="0.1780" stop-color="#99b8c8"/><stop offset="0.2916" stop-color="#bbcad1"/><stop offset="0.3989" stop-color="#c4ced4"/><stop offset="0.7943" stop-color="#ccd3d8"/><stop offset="1.0000" stop-color="#ced4d9"/></linearGradient><linearGradient id="g123" x2="0" y2="1"><stop offset="0.0000" stop-color="#e0dae0"/><stop offset="0.1377" stop-color="#e0dae0"/><stop offset="0.1395" stop-color="#dfd7d9"/><stop offset="0.1404" stop-color="#dcd1cf"/><stop offset="0.1413" stop-color="#d8c7be"/><stop offset="0.1431" stop-color="#cda78e"/><stop offset="0.1440" stop-color="#c89477"/><stop offset="0.1449" stop-color="#c37f64"/><stop offset="0.1458" stop-color="#bc6958"/><stop offset="0.1467" stop-color="#b15452"/><stop offset="0.1485" stop-color="#933050"/><stop offset="0.1494" stop-color="#812350"/><stop offset="0.1512" stop-color="#591648"/><stop offset="0.1521" stop-color="#491341"/><stop offset="0.1530" stop-color="#3d113b"/><stop offset="0.1547" stop-color="#311337"/><stop offset="0.1556" stop-color="#2f1436"/><stop offset="0.1565" stop-color="#32123a"/><stop offset="0.1583" stop-color="#3e114f"/><stop offset="0.1592" stop-color="#4a1566"/><stop offset="0.1601" stop-color="#572488"/><stop offset="0.1610" stop-color="#5d3ca0"/><stop offset="0.1619" stop-color="#5e53ae"/><stop offset="0.1628" stop-color="#6067b6"/><stop offset="0.1637" stop-color="#6277bb"/><stop offset="0.1664" stop-color="#7297c1"/><stop offset="0.1682" stop-color="#81a6c3"/><stop offset="0.1699" stop-color="#89acc5"/><stop offset="0.1789" stop-color="#9cb9c8"/><stop offset="0.2943" stop-color="#bccbd1"/><stop offset="0.4123" stop-color="#c5cfd5"/><stop offset="0.9669" stop-color="#ced4d9"/><stop offset="1.0000" stop-color="#ced4d9"/></linearGradient><linearGradient id="g124" x2="0" y2="1"><stop offset="0.0000" stop-color="#e0dae0"/><stop offset="0.1386" stop-color="#e0dae0"/><stop offset="0.1404" stop-color="#ded6d8"/><stop offset="0.1413" stop-color="#dcd0cd"/><stop offset="0.1422" stop-color="#d8c5bb"/><stop offset="0.1440" stop-color="#cda58b"/><stop offset="0.1449" stop-color="#c89174"/><stop offset="0.1458" stop-color="#c27c63"/><stop offset="0.1467" stop-color="#bb6757"/><stop offset="0.1476" stop-color="#b05251"/><stop offset="0.1494" stop-color="#912f50"/><stop offset="0.1512" stop-color="#6b1b4d"/><stop offset="0.1530" stop-color="#481341"/><stop offset="0.1538" stop-color="#3c113b"/><stop offset="0.1556" stop-color="#311337"/><stop offset="0.1565" stop-color="#2f1436"/><stop offset="0.1574" stop-color="#32123a"/><stop offset="0.1592" stop-color="#3d114e"/><stop offset="0.1601" stop-color="#4a1566"/><stop offset="0.1610" stop-color="#572588"/><stop offset="0.1619" stop-color="#5d3da0"/><stop offset="0.1628" stop-color="#5e53ae"/><stop offset="0.1637" stop-color="#6068b7"/><stop offset="0.1646" stop-color="#6378bb"/><stop offset="0.1673" stop-color="#7398c1"/><stop offset="0.1691" stop-color="#84a8c4"/><stop offset="0.1717" stop-color="#8dafc5"/><stop offset="0.1798" stop-color="#9ebbc9"/><stop offset="0.2916" stop-color="#bccbd1"/><stop offset="0.3676" stop-color="#c4ced4"/><stop offset="0.6869" stop-color="#ccd3d8"/><stop offset="1.0000" stop-color="#cfd4d9"/></linearGradient><linearGradient id="g125" x2="0" y2="1"><stop offset="0.0000" stop-color="#e0dae0"/><stop offset="0.1395" stop-color="#e0dae0"/><stop offset="0.1413" stop-color="#ded6d7"/><stop offset="0.1422" stop-color="#dccfcb"/><stop offset="0.1431" stop-color="#d7c3b9"/><stop offset="0.1449" stop-color="#cca389"/><stop offset="0.1458" stop-color="#c78f72"/><stop offset="0.1467" stop-color="#c27a61"/><stop offset="0.1476" stop-color="#ba6556"/><stop offset="0.1494" stop-color="#a03e50"/><stop offset="0.1503" stop-color="#902d50"/><stop offset="0.1512" stop-color="#7d2250"/><stop offset="0.1530" stop-color="#561547"/><stop offset="0.1547" stop-color="#3b113b"/><stop offset="0.1565" stop-color="#311337"/><stop offset="0.1574" stop-color="#2f1436"/><stop offset="0.1592" stop-color="#371143"/><stop offset="0.1601" stop-color="#3d114e"/><stop offset="0.1610" stop-color="#4a1666"/><stop offset="0.1619" stop-color="#582588"/><stop offset="0.1628" stop-color="#5d3da1"/><stop offset="0.1637" stop-color="#5e54ae"/><stop offset="0.1646" stop-color="#606ab7"/><stop offset="0.1664" stop-color="#6785be"/><stop offset="0.1691" stop-color="#7ca2c3"/><stop offset="0.1708" stop-color="#8aaec5"/><stop offset="0.1798" stop-color="#a0bcc9"/><stop offset="0.2934" stop-color="#beccd2"/><stop offset="0.3721" stop-color="#c5cfd5"/><stop offset="0.7907" stop-color="#cdd3d8"/><stop offset="1.0000" stop-color="#cfd4d9"/></linearGradient><linearGradient id="g126" x2="0" y2="1"><stop offset="0.0000" stop-color="#e0dae0"/><stop offset="0.1404" stop-color="#e0dae0"/><stop offset="0.1422" stop-color="#ded5d6"/><stop offset="0.1431" stop-color="#dbcdc9"/><stop offset="0.1440" stop-color="#d6c2b6"/><stop offset="0.1458" stop-color="#cca186"/><stop offset="0.1467" stop-color="#c78d70"/><stop offset="0.1476" stop-color="#c17860"/><stop offset="0.1485" stop-color="#b96356"/><stop offset="0.1503" stop-color="#9f3c50"/><stop offset="0.1512" stop-color="#8e2c50"/><stop offset="0.1530" stop-color="#671a4c"/><stop offset="0.1538" stop-color="#541546"/><stop offset="0.1556" stop-color="#3a113a"/><stop offset="0.1574" stop-color="#311337"/><stop offset="0.1583" stop-color="#2f1436"/><stop offset="0.1601" stop-color="#371143"/><stop offset="0.1610" stop-color="#3d114d"/><stop offset="0.1619" stop-color="#4b1667"/><stop offset="0.1628" stop-color="#58268a"/><stop offset="0.1637" stop-color="#5d3ea1"/><stop offset="0.1646" stop-color="#5f55af"/><stop offset="0.1655" stop-color="#606cb8"/><stop offset="0.1673" stop-color="#6786be"/><stop offset="0.1699" stop-color="#7ea4c3"/><stop offset="0.1717" stop-color="#8cafc5"/><stop offset="0.1807" stop-color="#a3beca"/><stop offset="0.2979" stop-color="#bfccd3"/><stop offset="0.3784" stop-color="#c6d0d5"/><stop offset="0.9633" stop-color="#cfd4d9"/><stop offset="1.0000" stop-color="#d0d5d9"/></linearGradient><linearGradient id="g127" x2="0" y2="1"><stop offset="0.0000" stop-color="#e0dae0"/><stop offset="0.1413" stop-color="#e0dadf"/><stop offset="0.1431" stop-color="#ded4d5"/><stop offset="0.1440" stop-color="#dbccc7"/><stop offset="0.1458" stop-color="#d0b19b"/><stop offset="0.1476" stop-color="#c68b6e"/><stop offset="0.1485" stop-color="#c0765e"/><stop offset="0.1494" stop-color="#b86155"/><stop offset="0.1512" stop-color="#9d3a50"/><stop offset="0.1530" stop-color="#792050"/><stop offset="0.1547" stop-color="#531545"/><stop offset="0.1556" stop-color="#44123f"/><stop offset="0.1565" stop-color="#3a113a"/><stop offset="0.1583" stop-color="#311337"/><stop offset="0.1592" stop-color="#2f1437"/><stop offset="0.1610" stop-color="#371143"/><stop offset="0.1619" stop-color="#3c114c"/><stop offset="0.1628" stop-color="#4b1668"/><stop offset="0.1637" stop-color="#58268a"/><stop offset="0.1646" stop-color="#5d3fa2"/><stop offset="0.1655" stop-color="#5f57b0"/><stop offset="0.1664" stop-color="#606db8"/><stop offset="0.1682" stop-color="#6887be"/><stop offset="0.1708" stop-color="#7fa5c3"/><stop offset="0.1717" stop-color="#89adc5"/><stop offset="0.1753" stop-color="#95b5c7"/><stop offset="0.1816" stop-color="#a6bfca"/><stop offset="0.3014" stop-color="#c1cdd3"/><stop offset="0.3873" stop-color="#c7d0d6"/><stop offset="1.0000" stop-color="#d0d5da"/></linearGradient><linearGradient id="g128" x2="0" y2="1"><stop offset="0.0000" stop-color="#e0dae0"/><stop offset="0.1422" stop-color="#e0dadf"/><stop offset="0.1440" stop-color="#ded4d4"/><stop offset="0.1449" stop-color="#dacbc5"/><stop offset="0.1458" stop-color="#d5bfb1"/><stop offset="0.1476" stop-color="#ca9c80"/><stop offset="0.1485" stop-color="#c6896c"/><stop offset="0.1494" stop-color="#c0735d"/><stop offset="0.1503" stop-color="#b65e54"/><stop offset="0.1521" stop-color="#9c3950"/><stop offset="0.1530" stop-color="#8b2a50"/><stop offset="0.1538" stop-color="#781f4f"/><stop offset="0.1556" stop-color="#521545"/><stop offset="0.1565" stop-color="#43123e"/><stop offset="0.1583" stop-color="#341238"/><stop offset="0.1601" stop-color="#2f1437"/><stop offset="0.1619" stop-color="#361142"/><stop offset="0.1628" stop-color="#3c114b"/><stop offset="0.1637" stop-color="#4b1668"/><stop offset="0.1646" stop-color="#58278b"/><stop offset="0.1655" stop-color="#5d40a2"/><stop offset="0.1664" stop-color="#5f58b0"/><stop offset="0.1673" stop-color="#616fb9"/><stop offset="0.1699" stop-color="#6f93c0"/><stop offset="0.1726" stop-color="#8cafc5"/><stop offset="0.1816" stop-color="#a7c0cb"/><stop offset="0.2961" stop-color="#c1cdd3"/><stop offset="0.3685" stop-color="#c8d1d6"/><stop offset="1.0000" stop-color="#d0d5da"/></linearGradient><linearGradient id="g129" x2="0" y2="1"><stop offset="0.0000" stop-color="#e0dae0"/><stop offset="0.1431" stop-color="#e0dadf"/><stop offset="0.1440" stop-color="#dfd8da"/><stop offset="0.1449" stop-color="#ddd3d2"/><stop offset="0.1458" stop-color="#dacac3"/><stop offset="0.1476" stop-color="#cfad96"/><stop offset="0.1485" stop-color="#ca9a7e"/><stop offset="0.1494" stop-color="#c5866a"/><stop offset="0.1503" stop-color="#bf715c"/><stop offset="0.1512" stop-color="#b55c54"/><stop offset="0.1530" stop-color="#9a3750"/><stop offset="0.1547" stop-color="#761e4f"/><stop offset="0.1565" stop-color="#501444"/><stop offset="0.1574" stop-color="#42123e"/><stop offset="0.1583" stop-color="#39113a"/><stop offset="0.1601" stop-color="#301337"/><stop offset="0.1610" stop-color="#2f1437"/><stop offset="0.1637" stop-color="#3b114a"/><stop offset="0.1646" stop-color="#4b1669"/><stop offset="0.1655" stop-color="#58278b"/><stop offset="0.1664" stop-color="#5d41a3"/><stop offset="0.1673" stop-color="#5f59b1"/><stop offset="0.1682" stop-color="#6171b9"/><stop offset="0.1708" stop-color="#7094c0"/><stop offset="0.1735" stop-color="#8eb1c5"/><stop offset="0.1825" stop-color="#aac2cc"/><stop offset="0.3086" stop-color="#c4ced4"/><stop offset="0.3837" stop-color="#c9d1d6"/><stop offset="1.0000" stop-color="#d1d5da"/></linearGradient><linearGradient id="g130" x2="0" y2="1"><stop offset="0.0000" stop-color="#e0dae0"/><stop offset="0.1431" stop-color="#e0dae0"/><stop offset="0.1449" stop-color="#dfd7da"/><stop offset="0.1458" stop-color="#ddd2d0"/><stop offset="0.1467" stop-color="#d9c8c0"/><stop offset="0.1485" stop-color="#ceab92"/><stop offset="0.1503" stop-color="#c58468"/><stop offset="0.1512" stop-color="#be6f5b"/><stop offset="0.1521" stop-color="#b45a53"/><stop offset="0.1538" stop-color="#983550"/><stop offset="0.1547" stop-color="#872750"/><stop offset="0.1565" stop-color="#60184a"/><stop offset="0.1583" stop-color="#41123d"/><stop offset="0.1601" stop-color="#331237"/><stop offset="0.1619" stop-color="#2f1437"/><stop offset="0.1646" stop-color="#3a1149"/><stop offset="0.1655" stop-color="#4c1669"/><stop offset="0.1664" stop-color="#59288d"/><stop offset="0.1673" stop-color="#5d42a4"/><stop offset="0.1682" stop-color="#5f5ab1"/><stop offset="0.1691" stop-color="#6172ba"/><stop offset="0.1717" stop-color="#7195c0"/><stop offset="0.1744" stop-color="#91b2c6"/><stop offset="0.1834" stop-color="#adc3cd"/><stop offset="0.3211" stop-color="#c6d0d5"/><stop offset="0.4866" stop-color="#ccd3d8"/><stop offset="1.0000" stop-color="#d1d5da"/></linearGradient><linearGradient id="g131" x2="0" y2="1"><stop offset="0.0000" stop-color="#e0dae0"/><stop offset="0.1440" stop-color="#e0dae0"/><stop offset="0.1458" stop-color="#dfd7d9"/><stop offset="0.1467" stop-color="#dcd1cf"/><stop offset="0.1476" stop-color="#d8c7be"/><stop offset="0.1494" stop-color="#cda990"/><stop offset="0.1512" stop-color="#c48166"/><stop offset="0.1521" stop-color="#bd6c5a"/><stop offset="0.1530" stop-color="#b35853"/><stop offset="0.1547" stop-color="#973450"/><stop offset="0.1556" stop-color="#862650"/><stop offset="0.1574" stop-color="#5f174a"/><stop offset="0.1592" stop-color="#40123d"/><stop offset="0.1610" stop-color="#331237"/><stop offset="0.1628" stop-color="#2f1437"/><stop offset="0.1655" stop-color="#3a1148"/><stop offset="0.1664" stop-color="#4c1669"/><stop offset="0.1673" stop-color="#59288d"/><stop offset="0.1682" stop-color="#5d43a4"/><stop offset="0.1691" stop-color="#5f5cb2"/><stop offset="0.1699" stop-color="#6275ba"/><stop offset="0.1717" stop-color="#6b8cbf"/><stop offset="0.1744" stop-color="#87abc4"/><stop offset="0.1753" stop-color="#93b4c6"/><stop offset="0.1843" stop-color="#b0c5cd"/><stop offset="0.3363" stop-color="#c9d1d6"/><stop offset="1.0000" stop-color="#d1d5da"/></linearGradient><linearGradient id="g132" x2="0" y2="1"><stop offset="0.0000" stop-color="#e0dae0"/><stop offset="0.1449" stop-color="#e0dae0"/><stop offset="0.1467" stop-color="#dfd6d8"/><stop offset="0.1476" stop-color="#dcd0cd"/><stop offset="0.1485" stop-color="#d8c5bb"/><stop offset="0.1503" stop-color="#cda78d"/><stop offset="0.1512" stop-color="#c89477"/><stop offset="0.1521" stop-color="#c37f65"/><stop offset="0.1530" stop-color="#bc6a58"/><stop offset="0.1547" stop-color="#a54350"/><stop offset="0.1565" stop-color="#842550"/><stop offset="0.1583" stop-color="#5d1749"/><stop offset="0.1601" stop-color="#40123d"/><stop offset="0.1619" stop-color="#331237"/><stop offset="0.1637" stop-color="#301437"/><stop offset="0.1664" stop-color="#3a1148"/><stop offset="0.1673" stop-color="#4c176b"/><stop offset="0.1682" stop-color="#59298e"/><stop offset="0.1691" stop-color="#5e43a5"/><stop offset="0.1699" stop-color="#5f5eb3"/><stop offset="0.1708" stop-color="#6276ba"/><stop offset="0.1726" stop-color="#6b8dbf"/><stop offset="0.1744" stop-color="#7da3c3"/><stop offset="0.1762" stop-color="#96b6c7"/><stop offset="0.1852" stop-color="#b3c6ce"/><stop offset="0.3470" stop-color="#cbd2d7"/><stop offset="1.0000" stop-color="#d2d6da"/></linearGradient><linearGradient id="g133" x2="0" y2="1"><stop offset="0.0000" stop-color="#e0dae0"/><stop offset="0.1458" stop-color="#e0dae0"/><stop offset="0.1476" stop-color="#ded6d7"/><stop offset="0.1485" stop-color="#dccecb"/><stop offset="0.1494" stop-color="#d7c4b9"/><stop offset="0.1512" stop-color="#cca58b"/><stop offset="0.1521" stop-color="#c89174"/><stop offset="0.1530" stop-color="#c37d63"/><stop offset="0.1538" stop-color="#bb6858"/><stop offset="0.1556" stop-color="#a34150"/><stop offset="0.1565" stop-color="#943150"/><stop offset="0.1574" stop-color="#822450"/><stop offset="0.1592" stop-color="#5c1749"/><stop offset="0.1610" stop-color="#3f113c"/><stop offset="0.1628" stop-color="#331237"/><stop offset="0.1646" stop-color="#301437"/><stop offset="0.1664" stop-color="#351140"/><stop offset="0.1673" stop-color="#3a1148"/><stop offset="0.1682" stop-color="#4c176b"/><stop offset="0.1691" stop-color="#592a8f"/><stop offset="0.1699" stop-color="#5e44a5"/><stop offset="0.1708" stop-color="#5f5fb3"/><stop offset="0.1717" stop-color="#6277bb"/><stop offset="0.1735" stop-color="#6c8ebf"/><stop offset="0.1753" stop-color="#7ea4c3"/><stop offset="0.1771" stop-color="#98b7c7"/><stop offset="0.1860" stop-color="#b6c8cf"/><stop offset="0.3533" stop-color="#ccd3d8"/><stop offset="1.0000" stop-color="#d2d6db"/></linearGradient><linearGradient id="g134" x2="0" y2="1"><stop offset="0.0000" stop-color="#e0dae0"/><stop offset="0.1467" stop-color="#e0dae0"/><stop offset="0.1485" stop-color="#dfd6d8"/><stop offset="0.1494" stop-color="#dcd0cd"/><stop offset="0.1503" stop-color="#d8c5bc"/><stop offset="0.1521" stop-color="#cda78e"/><stop offset="0.1530" stop-color="#c99477"/><stop offset="0.1538" stop-color="#c48065"/><stop offset="0.1547" stop-color="#bc6b59"/><stop offset="0.1556" stop-color="#b35752"/><stop offset="0.1574" stop-color="#963350"/><stop offset="0.1583" stop-color="#852650"/><stop offset="0.1601" stop-color="#5f174a"/><stop offset="0.1619" stop-color="#41123d"/><stop offset="0.1628" stop-color="#381139"/><stop offset="0.1646" stop-color="#301437"/><stop offset="0.1664" stop-color="#32123a"/><stop offset="0.1682" stop-color="#381144"/><stop offset="0.1691" stop-color="#481563"/><stop offset="0.1699" stop-color="#572588"/><stop offset="0.1708" stop-color="#5d3ea1"/><stop offset="0.1717" stop-color="#5f59b1"/><stop offset="0.1726" stop-color="#6173ba"/><stop offset="0.1744" stop-color="#6b8cbf"/><stop offset="0.1762" stop-color="#7da2c3"/><stop offset="0.1780" stop-color="#97b7c7"/><stop offset="0.1869" stop-color="#b7c8cf"/><stop offset="0.3569" stop-color="#cdd3d8"/><stop offset="1.0000" stop-color="#d2d6db"/></linearGradient><linearGradient id="g135" x2="0" y2="1"><stop offset="0.0000" stop-color="#e0dae0"/><stop offset="0.1476" stop-color="#e0dae0"/><stop offset="0.1494" stop-color="#dfd7d9"/><stop offset="0.1503" stop-color="#dcd1cf"/><stop offset="0.1512" stop-color="#d9c7bf"/><stop offset="0.1530" stop-color="#ceaa92"/><stop offset="0.1538" stop-color="#c9987b"/><stop offset="0.1547" stop-color="#c58468"/><stop offset="0.1556" stop-color="#be6f5b"/><stop offset="0.1565" stop-color="#b55b53"/><stop offset="0.1583" stop-color="#9a3750"/><stop offset="0.1601" stop-color="#761f4f"/><stop offset="0.1619" stop-color="#521545"/><stop offset="0.1628" stop-color="#43123e"/><stop offset="0.1637" stop-color="#3a113a"/><stop offset="0.1655" stop-color="#311337"/><stop offset="0.1673" stop-color="#31123a"/><stop offset="0.1691" stop-color="#371143"/><stop offset="0.1699" stop-color="#44135a"/><stop offset="0.1708" stop-color="#551f7f"/><stop offset="0.1717" stop-color="#5c389c"/><stop offset="0.1726" stop-color="#5e53ae"/><stop offset="0.1735" stop-color="#606db8"/><stop offset="0.1744" stop-color="#647dbc"/><stop offset="0.1762" stop-color="#7195c0"/><stop offset="0.1780" stop-color="#86aac4"/><stop offset="0.1789" stop-color="#94b5c7"/><stop offset="0.1798" stop-color="#9cb9c8"/><stop offset="0.1878" stop-color="#b8c9d0"/><stop offset="0.3551" stop-color="#cdd3d8"/><stop offset="1.0000" stop-color="#d3d6db"/></linearGradient><linearGradient id="g136" x2="0" y2="1"><stop offset="0.0000" stop-color="#e0dae0"/><stop offset="0.1485" stop-color="#e0dae0"/><stop offset="0.1503" stop-color="#dfd7da"/><stop offset="0.1512" stop-color="#ddd2d1"/><stop offset="0.1521" stop-color="#d9c9c2"/><stop offset="0.1538" stop-color="#cfad96"/><stop offset="0.1556" stop-color="#c6876b"/><stop offset="0.1565" stop-color="#bf735d"/><stop offset="0.1574" stop-color="#b75f54"/><stop offset="0.1592" stop-color="#9d3a50"/><stop offset="0.1610" stop-color="#7a2050"/><stop offset="0.1628" stop-color="#551546"/><stop offset="0.1637" stop-color="#461240"/><stop offset="0.1646" stop-color="#3b113b"/><stop offset="0.1664" stop-color="#311337"/><stop offset="0.1682" stop-color="#311338"/><stop offset="0.1699" stop-color="#361142"/><stop offset="0.1708" stop-color="#3f1251"/><stop offset="0.1717" stop-color="#511b76"/><stop offset="0.1726" stop-color="#5b3196"/><stop offset="0.1735" stop-color="#5e4caa"/><stop offset="0.1744" stop-color="#6066b6"/><stop offset="0.1753" stop-color="#637abc"/><stop offset="0.1771" stop-color="#6e92c0"/><stop offset="0.1789" stop-color="#84a8c4"/><stop offset="0.1807" stop-color="#9cb9c8"/><stop offset="0.1896" stop-color="#b9cad0"/><stop offset="0.3596" stop-color="#cdd3d8"/><stop offset="1.0000" stop-color="#d3d6db"/></linearGradient><linearGradient id="g137" x2="0" y2="1"><stop offset="0.0000" stop-color="#e0dae0"/><stop offset="0.1503" stop-color="#e0dadf"/><stop offset="0.1521" stop-color="#ddd3d3"/><stop offset="0.1530" stop-color="#dacbc5"/><stop offset="0.1547" stop-color="#d0b09b"/><stop offset="0.1565" stop-color="#c68b6e"/><stop offset="0.1574" stop-color="#c1775f"/><stop offset="0.1583" stop-color="#b96356"/><stop offset="0.1601" stop-color="#a03e50"/><stop offset="0.1610" stop-color="#902e50"/><stop offset="0.1628" stop-color="#6b1b4d"/><stop offset="0.1646" stop-color="#491341"/><stop offset="0.1664" stop-color="#361139"/><stop offset="0.1682" stop-color="#301436"/><stop offset="0.1699" stop-color="#33123b"/><stop offset="0.1717" stop-color="#3a1149"/><stop offset="0.1726" stop-color="#4d176d"/><stop offset="0.1735" stop-color="#592a8f"/><stop offset="0.1744" stop-color="#5e45a6"/><stop offset="0.1753" stop-color="#5f60b4"/><stop offset="0.1762" stop-color="#6277bb"/><stop offset="0.1780" stop-color="#6d8fc0"/><stop offset="0.1798" stop-color="#80a6c3"/><stop offset="0.1816" stop-color="#9cb9c8"/><stop offset="0.1905" stop-color="#bbcad1"/><stop offset="0.3640" stop-color="#ced4d9"/><stop offset="1.0000" stop-color="#d3d6db"/></linearGradient><linearGradient id="g138" x2="0" y2="1"><stop offset="0.0000" stop-color="#e0dae0"/><stop offset="0.1512" stop-color="#e0dadf"/><stop offset="0.1530" stop-color="#ded4d5"/><stop offset="0.1538" stop-color="#dbcdc8"/><stop offset="0.1556" stop-color="#d0b39e"/><stop offset="0.1574" stop-color="#c78f72"/><stop offset="0.1583" stop-color="#c27b62"/><stop offset="0.1592" stop-color="#ba6657"/><stop offset="0.1610" stop-color="#a34150"/><stop offset="0.1628" stop-color="#832550"/><stop offset="0.1646" stop-color="#5d1749"/><stop offset="0.1664" stop-color="#40123d"/><stop offset="0.1682" stop-color="#331237"/><stop offset="0.1699" stop-color="#2f1437"/><stop offset="0.1726" stop-color="#381144"/><stop offset="0.1735" stop-color="#481563"/><stop offset="0.1744" stop-color="#572588"/><stop offset="0.1753" stop-color="#5d3ea1"/><stop offset="0.1762" stop-color="#5f59b1"/><stop offset="0.1771" stop-color="#6173ba"/><stop offset="0.1789" stop-color="#6b8dbf"/><stop offset="0.1807" stop-color="#7ea4c3"/><stop offset="0.1825" stop-color="#9ab8c8"/><stop offset="0.1914" stop-color="#bccbd1"/><stop offset="0.3640" stop-color="#ced4d9"/><stop offset="1.0000" stop-color="#d4d7db"/></linearGradient><linearGradient id="g139" x2="0" y2="1"><stop offset="0.0000" stop-color="#e0dae0"/><stop offset="0.1521" stop-color="#e0dadf"/><stop offset="0.1538" stop-color="#ded5d6"/><stop offset="0.1547" stop-color="#dccecb"/><stop offset="0.1565" stop-color="#d1b6a2"/><stop offset="0.1583" stop-color="#c89275"/><stop offset="0.1592" stop-color="#c37f64"/><stop offset="0.1601" stop-color="#bc6a59"/><stop offset="0.1619" stop-color="#a64450"/><stop offset="0.1637" stop-color="#862750"/><stop offset="0.1655" stop-color="#61184b"/><stop offset="0.1673" stop-color="#42123e"/><stop offset="0.1691" stop-color="#341238"/><stop offset="0.1708" stop-color="#2f1436"/><stop offset="0.1735" stop-color="#371143"/><stop offset="0.1744" stop-color="#431359"/><stop offset="0.1753" stop-color="#551f7f"/><stop offset="0.1762" stop-color="#5c389c"/><stop offset="0.1771" stop-color="#5e52ad"/><stop offset="0.1780" stop-color="#606db8"/><stop offset="0.1789" stop-color="#647ebc"/><stop offset="0.1807" stop-color="#7196c1"/><stop offset="0.1825" stop-color="#88acc4"/><stop offset="0.1834" stop-color="#97b6c7"/><stop offset="0.1843" stop-color="#9ebbc9"/><stop offset="0.1932" stop-color="#beccd2"/><stop offset="0.3721" stop-color="#cfd4d9"/><stop offset="1.0000" stop-color="#d4d7dc"/></linearGradient><linearGradient id="g140" x2="0" y2="1"><stop offset="0.0000" stop-color="#e0dae0"/><stop offset="0.1530" stop-color="#e0dae0"/><stop offset="0.1547" stop-color="#ded6d7"/><stop offset="0.1556" stop-color="#dccfcd"/><stop offset="0.1565" stop-color="#d8c5bc"/><stop offset="0.1583" stop-color="#cda88f"/><stop offset="0.1601" stop-color="#c48267"/><stop offset="0.1610" stop-color="#be6e5b"/><stop offset="0.1619" stop-color="#b55b53"/><stop offset="0.1637" stop-color="#9a3750"/><stop offset="0.1655" stop-color="#781f4f"/><stop offset="0.1673" stop-color="#531546"/><stop offset="0.1691" stop-color="#3b113b"/><stop offset="0.1708" stop-color="#311337"/><stop offset="0.1726" stop-color="#311338"/><stop offset="0.1744" stop-color="#361142"/><stop offset="0.1753" stop-color="#3f1251"/><stop offset="0.1762" stop-color="#511a75"/><stop offset="0.1771" stop-color="#5b3196"/><stop offset="0.1780" stop-color="#5e4caa"/><stop offset="0.1789" stop-color="#6066b6"/><stop offset="0.1798" stop-color="#637bbc"/><stop offset="0.1816" stop-color="#6f93c0"/><stop offset="0.1834" stop-color="#85a9c4"/><stop offset="0.1852" stop-color="#9ebbc9"/><stop offset="0.1941" stop-color="#bfccd2"/><stop offset="0.3685" stop-color="#cfd4d9"/><stop offset="1.0000" stop-color="#d4d7dc"/></linearGradient><linearGradient id="g141" x2="0" y2="1"><stop offset="0.0000" stop-color="#e0dae0"/><stop offset="0.1538" stop-color="#e0dae0"/><stop offset="0.1556" stop-color="#dfd7d9"/><stop offset="0.1565" stop-color="#dcd1cf"/><stop offset="0.1574" stop-color="#d9c7bf"/><stop offset="0.1592" stop-color="#ceab93"/><stop offset="0.1610" stop-color="#c5866a"/><stop offset="0.1619" stop-color="#bf725d"/><stop offset="0.1628" stop-color="#b65e54"/><stop offset="0.1646" stop-color="#9e3a50"/><stop offset="0.1664" stop-color="#7c2150"/><stop offset="0.1682" stop-color="#571647"/><stop offset="0.1691" stop-color="#481341"/><stop offset="0.1708" stop-color="#361138"/><stop offset="0.1726" stop-color="#301436"/><stop offset="0.1744" stop-color="#33123b"/><stop offset="0.1762" stop-color="#3a1149"/><stop offset="0.1771" stop-color="#4d176c"/><stop offset="0.1780" stop-color="#592a8f"/><stop offset="0.1789" stop-color="#5e45a6"/><stop offset="0.1798" stop-color="#5f60b3"/><stop offset="0.1807" stop-color="#6277bb"/><stop offset="0.1825" stop-color="#6d90c0"/><stop offset="0.1843" stop-color="#82a7c3"/><stop offset="0.1860" stop-color="#9ebbc9"/><stop offset="0.1950" stop-color="#c0cdd3"/><stop offset="0.3757" stop-color="#d0d5da"/><stop offset="1.0000" stop-color="#d5d7dc"/></linearGradient><linearGradient id="g142" x2="0" y2="1"><stop offset="0.0000" stop-color="#e0dae0"/><stop offset="0.1547" stop-color="#e0dae0"/><stop offset="0.1565" stop-color="#dfd7da"/><stop offset="0.1574" stop-color="#ddd2d1"/><stop offset="0.1583" stop-color="#d9c9c2"/><stop offset="0.1601" stop-color="#cfae97"/><stop offset="0.1619" stop-color="#c68a6d"/><stop offset="0.1628" stop-color="#c0765f"/><stop offset="0.1637" stop-color="#b86255"/><stop offset="0.1655" stop-color="#a03e50"/><stop offset="0.1673" stop-color="#802350"/><stop offset="0.1691" stop-color="#5b1648"/><stop offset="0.1708" stop-color="#3f123d"/><stop offset="0.1726" stop-color="#331237"/><stop offset="0.1744" stop-color="#2f1437"/><stop offset="0.1771" stop-color="#371144"/><stop offset="0.1780" stop-color="#481563"/><stop offset="0.1789" stop-color="#572487"/><stop offset="0.1798" stop-color="#5d3ea1"/><stop offset="0.1807" stop-color="#5f59b1"/><stop offset="0.1816" stop-color="#6173ba"/><stop offset="0.1834" stop-color="#6b8dbf"/><stop offset="0.1852" stop-color="#7fa5c3"/><stop offset="0.1869" stop-color="#9dbac8"/><stop offset="0.1959" stop-color="#c1cdd3"/><stop offset="0.3730" stop-color="#d0d5da"/><stop offset="1.0000" stop-color="#d5d7dc"/></linearGradient><linearGradient id="g143" x2="0" y2="1"><stop offset="0.0000" stop-color="#e0dae0"/><stop offset="0.1565" stop-color="#e0dadf"/><stop offset="0.1583" stop-color="#ddd3d3"/><stop offset="0.1592" stop-color="#dacbc5"/><stop offset="0.1610" stop-color="#d0b19b"/><stop offset="0.1628" stop-color="#c78e71"/><stop offset="0.1637" stop-color="#c27a61"/><stop offset="0.1646" stop-color="#ba6657"/><stop offset="0.1664" stop-color="#a34150"/><stop offset="0.1682" stop-color="#842550"/><stop offset="0.1699" stop-color="#5f174a"/><stop offset="0.1717" stop-color="#42123e"/><stop offset="0.1735" stop-color="#341238"/><stop offset="0.1753" stop-color="#2f1436"/><stop offset="0.1780" stop-color="#371143"/><stop offset="0.1789" stop-color="#431359"/><stop offset="0.1798" stop-color="#551f7f"/><stop offset="0.1807" stop-color="#5c379c"/><stop offset="0.1816" stop-color="#5e52ad"/><stop offset="0.1825" stop-color="#606db8"/><stop offset="0.1834" stop-color="#647ebc"/><stop offset="0.1852" stop-color="#7297c1"/><stop offset="0.1869" stop-color="#8aadc5"/><stop offset="0.1878" stop-color="#9ab8c8"/><stop offset="0.1887" stop-color="#a2bdc9"/><stop offset="0.1968" stop-color="#c1cdd3"/><stop offset="0.3587" stop-color="#d0d5da"/><stop offset="1.0000" stop-color="#d5d7dc"/></linearGradient><linearGradient id="g144" x2="0" y2="1"><stop offset="0.0000" stop-color="#e0dae0"/><stop offset="0.1574" stop-color="#e0dadf"/><stop offset="0.1592" stop-color="#ded4d4"/><stop offset="0.1601" stop-color="#dbcdc8"/><stop offset="0.1619" stop-color="#d1b4a0"/><stop offset="0.1637" stop-color="#c89174"/><stop offset="0.1646" stop-color="#c37d63"/><stop offset="0.1655" stop-color="#bc6a58"/><stop offset="0.1673" stop-color="#a64550"/><stop offset="0.1691" stop-color="#872750"/><stop offset="0.1708" stop-color="#63184b"/><stop offset="0.1726" stop-color="#44123f"/><stop offset="0.1735" stop-color="#3a113a"/><stop offset="0.1762" stop-color="#2f1436"/><stop offset="0.1789" stop-color="#361142"/><stop offset="0.1798" stop-color="#3f1251"/><stop offset="0.1807" stop-color="#511a75"/><stop offset="0.1816" stop-color="#5b3196"/><stop offset="0.1825" stop-color="#5e4baa"/><stop offset="0.1834" stop-color="#6066b6"/><stop offset="0.1843" stop-color="#637bbc"/><stop offset="0.1860" stop-color="#7094c0"/><stop offset="0.1878" stop-color="#87abc4"/><stop offset="0.1896" stop-color="#a1bdc9"/><stop offset="0.1986" stop-color="#c4ced4"/><stop offset="0.3828" stop-color="#d1d5da"/><stop offset="1.0000" stop-color="#d6d8dc"/></linearGradient><linearGradient id="g145" x2="0" y2="1"><stop offset="0.0000" stop-color="#e0dae0"/><stop offset="0.1583" stop-color="#e0dadf"/><stop offset="0.1601" stop-color="#ded5d6"/><stop offset="0.1610" stop-color="#dbceca"/><stop offset="0.1619" stop-color="#d7c4b9"/><stop offset="0.1637" stop-color="#cda68c"/><stop offset="0.1655" stop-color="#c48166"/><stop offset="0.1664" stop-color="#bd6e5a"/><stop offset="0.1673" stop-color="#b45a53"/><stop offset="0.1691" stop-color="#9b3850"/><stop offset="0.1708" stop-color="#792050"/><stop offset="0.1726" stop-color="#561546"/><stop offset="0.1735" stop-color="#471340"/><stop offset="0.1753" stop-color="#361138"/><stop offset="0.1771" stop-color="#301436"/><stop offset="0.1789" stop-color="#33123b"/><stop offset="0.1798" stop-color="#351140"/><stop offset="0.1807" stop-color="#3a1149"/><stop offset="0.1816" stop-color="#4d176c"/><stop offset="0.1825" stop-color="#592a8f"/><stop offset="0.1834" stop-color="#5e45a6"/><stop offset="0.1843" stop-color="#5f5fb3"/><stop offset="0.1852" stop-color="#6277bb"/><stop offset="0.1869" stop-color="#6e91c0"/><stop offset="0.1887" stop-color="#84a8c4"/><stop offset="0.1905" stop-color="#a1bdc9"/><stop offset="0.1995" stop-color="#c5cfd5"/><stop offset="0.3837" stop-color="#d2d6da"/><stop offset="1.0000" stop-color="#d6d8dc"/></linearGradient><linearGradient id="g146" x2="0" y2="1"><stop offset="0.0000" stop-color="#e0dae0"/><stop offset="0.1592" stop-color="#e0dae0"/><stop offset="0.1610" stop-color="#ded6d7"/><stop offset="0.1619" stop-color="#dccfcc"/><stop offset="0.1628" stop-color="#d8c5bc"/><stop offset="0.1646" stop-color="#cea991"/><stop offset="0.1655" stop-color="#c9977b"/><stop offset="0.1664" stop-color="#c58569"/><stop offset="0.1673" stop-color="#bf715c"/><stop offset="0.1682" stop-color="#b65e54"/><stop offset="0.1699" stop-color="#9e3b50"/><stop offset="0.1708" stop-color="#8e2c50"/><stop offset="0.1726" stop-color="#6b1b4d"/><stop offset="0.1744" stop-color="#4a1342"/><stop offset="0.1753" stop-color="#3f113c"/><stop offset="0.1771" stop-color="#331237"/><stop offset="0.1789" stop-color="#2f1437"/><stop offset="0.1816" stop-color="#371144"/><stop offset="0.1825" stop-color="#481563"/><stop offset="0.1834" stop-color="#572487"/><stop offset="0.1843" stop-color="#5d3ea1"/><stop offset="0.1852" stop-color="#5f59b1"/><stop offset="0.1860" stop-color="#6172ba"/><stop offset="0.1878" stop-color="#6c8ebf"/><stop offset="0.1896" stop-color="#81a6c3"/><stop offset="0.1914" stop-color="#a0bcc9"/><stop offset="0.2004" stop-color="#c5cfd5"/><stop offset="0.3882" stop-color="#d2d6db"/><stop offset="1.0000" stop-color="#d6d8dc"/></linearGradient><linearGradient id="g147" x2="0" y2="1"><stop offset="0.0000" stop-color="#e0dae0"/><stop offset="0.1601" stop-color="#e0dae0"/><stop offset="0.1619" stop-color="#dfd6d8"/><stop offset="0.1628" stop-color="#dcd1cf"/><stop offset="0.1637" stop-color="#d9c7bf"/><stop offset="0.1655" stop-color="#ceac94"/><stop offset="0.1673" stop-color="#c6896c"/><stop offset="0.1682" stop-color="#c0755e"/><stop offset="0.1691" stop-color="#b86255"/><stop offset="0.1708" stop-color="#a13e50"/><stop offset="0.1726" stop-color="#812450"/><stop offset="0.1744" stop-color="#5d1749"/><stop offset="0.1762" stop-color="#41123d"/><stop offset="0.1780" stop-color="#341238"/><stop offset="0.1798" stop-color="#2f1436"/><stop offset="0.1825" stop-color="#371143"/><stop offset="0.1834" stop-color="#431359"/><stop offset="0.1843" stop-color="#541f7f"/><stop offset="0.1852" stop-color="#5c379c"/><stop offset="0.1860" stop-color="#5e52ad"/><stop offset="0.1869" stop-color="#606cb8"/><stop offset="0.1878" stop-color="#647ebc"/><stop offset="0.1896" stop-color="#7397c1"/><stop offset="0.1914" stop-color="#8cafc5"/><stop offset="0.1923" stop-color="#9cbac8"/><stop offset="0.1932" stop-color="#a5bfca"/><stop offset="0.2013" stop-color="#c6d0d5"/><stop offset="0.3810" stop-color="#d2d6db"/><stop offset="1.0000" stop-color="#d7d8dd"/></linearGradient><linearGradient id="g148" x2="0" y2="1"><stop offset="0.0000" stop-color="#e0dae0"/><stop offset="0.1610" stop-color="#e0dae0"/><stop offset="0.1628" stop-color="#dfd7d9"/><stop offset="0.1637" stop-color="#ddd2d0"/><stop offset="0.1646" stop-color="#d9c9c2"/><stop offset="0.1664" stop-color="#cfaf99"/><stop offset="0.1682" stop-color="#c78c6f"/><stop offset="0.1691" stop-color="#c17960"/><stop offset="0.1699" stop-color="#ba6557"/><stop offset="0.1717" stop-color="#a44150"/><stop offset="0.1735" stop-color="#852650"/><stop offset="0.1753" stop-color="#61184a"/><stop offset="0.1771" stop-color="#43123e"/><stop offset="0.1789" stop-color="#341238"/><stop offset="0.1807" stop-color="#2f1436"/><stop offset="0.1834" stop-color="#361142"/><stop offset="0.1843" stop-color="#3e1250"/><stop offset="0.1852" stop-color="#511a75"/><stop offset="0.1860" stop-color="#5b3096"/><stop offset="0.1869" stop-color="#5e4baa"/><stop offset="0.1878" stop-color="#6066b6"/><stop offset="0.1887" stop-color="#637bbc"/><stop offset="0.1905" stop-color="#7095c0"/><stop offset="0.1923" stop-color="#89acc5"/><stop offset="0.1941" stop-color="#a5bfca"/><stop offset="0.2021" stop-color="#c6d0d5"/><stop offset="0.3739" stop-color="#d3d6db"/><stop offset="1.0000" stop-color="#d7d8dd"/></linearGradient><linearGradient id="g149" x2="0" y2="1"><stop offset="0.0000" stop-color="#e0dae0"/><stop offset="0.1619" stop-color="#e0dae0"/><stop offset="0.1637" stop-color="#dfd8da"/><stop offset="0.1646" stop-color="#ddd3d2"/><stop offset="0.1655" stop-color="#dacbc5"/><stop offset="0.1673" stop-color="#d0b29c"/><stop offset="0.1691" stop-color="#c78f72"/><stop offset="0.1699" stop-color="#c27c63"/><stop offset="0.1708" stop-color="#bb6958"/><stop offset="0.1726" stop-color="#a64550"/><stop offset="0.1744" stop-color="#882850"/><stop offset="0.1762" stop-color="#64194c"/><stop offset="0.1780" stop-color="#461240"/><stop offset="0.1798" stop-color="#361138"/><stop offset="0.1816" stop-color="#301436"/><stop offset="0.1834" stop-color="#33123b"/><stop offset="0.1843" stop-color="#351140"/><stop offset="0.1852" stop-color="#3a1149"/><stop offset="0.1860" stop-color="#4c176b"/><stop offset="0.1869" stop-color="#592a8f"/><stop offset="0.1878" stop-color="#5e45a6"/><stop offset="0.1887" stop-color="#5f5fb3"/><stop offset="0.1896" stop-color="#6277bb"/><stop offset="0.1914" stop-color="#6e92c0"/><stop offset="0.1932" stop-color="#86aac4"/><stop offset="0.1950" stop-color="#a5bfca"/><stop offset="0.2039" stop-color="#c9d1d6"/><stop offset="0.3971" stop-color="#d3d6db"/><stop offset="1.0000" stop-color="#d7d8dd"/></linearGradient><linearGradient id="g150" x2="0" y2="1"><stop offset="0.0000" stop-color="#e0dae0"/><stop offset="0.1637" stop-color="#e0dadf"/><stop offset="0.1655" stop-color="#ded4d4"/><stop offset="0.1664" stop-color="#dbccc8"/><stop offset="0.1673" stop-color="#d6c2b6"/><stop offset="0.1691" stop-color="#cca58a"/><stop offset="0.1699" stop-color="#c89275"/><stop offset="0.1708" stop-color="#c48065"/><stop offset="0.1717" stop-color="#bd6c5a"/><stop offset="0.1735" stop-color="#a94850"/><stop offset="0.1753" stop-color="#8c2a50"/><stop offset="0.1771" stop-color="#681a4d"/><stop offset="0.1789" stop-color="#491341"/><stop offset="0.1807" stop-color="#371139"/><stop offset="0.1825" stop-color="#301437"/><stop offset="0.1843" stop-color="#32123a"/><stop offset="0.1860" stop-color="#371144"/><stop offset="0.1869" stop-color="#481562"/><stop offset="0.1878" stop-color="#572487"/><stop offset="0.1887" stop-color="#5d3ea1"/><stop offset="0.1896" stop-color="#5f59b1"/><stop offset="0.1905" stop-color="#6172ba"/><stop offset="0.1923" stop-color="#6c8fbf"/><stop offset="0.1941" stop-color="#82a7c3"/><stop offset="0.1959" stop-color="#a3beca"/><stop offset="0.2039" stop-color="#c6d0d5"/><stop offset="0.2057" stop-color="#cad2d7"/><stop offset="0.4070" stop-color="#d4d7db"/><stop offset="1.0000" stop-color="#d8d9dd"/></linearGradient><linearGradient id="g151" x2="0" y2="1"><stop offset="0.0000" stop-color="#e0dae0"/><stop offset="0.1646" stop-color="#e0dadf"/><stop offset="0.1664" stop-color="#ded5d5"/><stop offset="0.1673" stop-color="#dbceca"/><stop offset="0.1682" stop-color="#d7c4b9"/><stop offset="0.1699" stop-color="#cda78e"/><stop offset="0.1717" stop-color="#c58468"/><stop offset="0.1726" stop-color="#be705b"/><stop offset="0.1744" stop-color="#ab4b50"/><stop offset="0.1762" stop-color="#8f2d50"/><stop offset="0.1780" stop-color="#6c1b4e"/><stop offset="0.1798" stop-color="#4c1342"/><stop offset="0.1816" stop-color="#381139"/><stop offset="0.1843" stop-color="#2f1436"/><stop offset="0.1869" stop-color="#371143"/><stop offset="0.1878" stop-color="#431359"/><stop offset="0.1887" stop-color="#541f7e"/><stop offset="0.1896" stop-color="#5c379c"/><stop offset="0.1905" stop-color="#5e52ad"/><stop offset="0.1914" stop-color="#606cb8"/><stop offset="0.1923" stop-color="#647ebc"/><stop offset="0.1941" stop-color="#7398c1"/><stop offset="0.1959" stop-color="#8eb1c5"/><stop offset="0.1968" stop-color="#9fbcc9"/><stop offset="0.1977" stop-color="#a9c1cb"/><stop offset="0.2057" stop-color="#cad2d7"/><stop offset="0.4043" stop-color="#d4d7dc"/><stop offset="1.0000" stop-color="#d8d9dd"/></linearGradient><linearGradient id="g152" x2="0" y2="1"><stop offset="0.0000" stop-color="#e0dae0"/><stop offset="0.1655" stop-color="#e0dadf"/><stop offset="0.1673" stop-color="#ded4d4"/><stop offset="0.1682" stop-color="#dbcdc8"/><stop offset="0.1699" stop-color="#d1b5a1"/><stop offset="0.1717" stop-color="#c89477"/><stop offset="0.1726" stop-color="#c48166"/><stop offset="0.1735" stop-color="#bd6e5a"/><stop offset="0.1753" stop-color="#aa4950"/><stop offset="0.1771" stop-color="#8e2c50"/><stop offset="0.1789" stop-color="#6b1b4d"/><stop offset="0.1807" stop-color="#4a1342"/><stop offset="0.1825" stop-color="#381139"/><stop offset="0.1852" stop-color="#2f1437"/><stop offset="0.1878" stop-color="#371143"/><stop offset="0.1887" stop-color="#45135c"/><stop offset="0.1896" stop-color="#552182"/><stop offset="0.1905" stop-color="#5d3a9e"/><stop offset="0.1914" stop-color="#5e54ae"/><stop offset="0.1923" stop-color="#616eb8"/><stop offset="0.1941" stop-color="#6b8dbf"/><stop offset="0.1959" stop-color="#81a6c3"/><stop offset="0.1977" stop-color="#a1bdc9"/><stop offset="0.1986" stop-color="#a9c1cb"/><stop offset="0.2066" stop-color="#cbd2d7"/><stop offset="0.4034" stop-color="#d4d7dc"/><stop offset="1.0000" stop-color="#d8d9dd"/></linearGradient><linearGradient id="g153" x2="0" y2="1"><stop offset="0.0000" stop-color="#e0dae0"/><stop offset="0.1655" stop-color="#e0dae0"/><stop offset="0.1673" stop-color="#dfd7d9"/><stop offset="0.1682" stop-color="#ddd1cf"/><stop offset="0.1691" stop-color="#d9c8c1"/><stop offset="0.1708" stop-color="#cfae97"/><stop offset="0.1726" stop-color="#c78c6f"/><stop offset="0.1735" stop-color="#c17960"/><stop offset="0.1744" stop-color="#ba6657"/><stop offset="0.1762" stop-color="#a44250"/><stop offset="0.1780" stop-color="#862750"/><stop offset="0.1798" stop-color="#63184b"/><stop offset="0.1816" stop-color="#45123f"/><stop offset="0.1834" stop-color="#351138"/><stop offset="0.1852" stop-color="#2f1436"/><stop offset="0.1869" stop-color="#33123b"/><stop offset="0.1887" stop-color="#3a1149"/><stop offset="0.1896" stop-color="#4d176d"/><stop offset="0.1905" stop-color="#592a8f"/><stop offset="0.1914" stop-color="#5e45a6"/><stop offset="0.1923" stop-color="#5f60b4"/><stop offset="0.1932" stop-color="#6278bb"/><stop offset="0.1950" stop-color="#6f92c0"/><stop offset="0.1968" stop-color="#87abc4"/><stop offset="0.1986" stop-color="#a7c0cb"/><stop offset="0.2075" stop-color="#ccd3d8"/><stop offset="0.4159" stop-color="#d5d7dc"/><stop offset="1.0000" stop-color="#d8d9dd"/></linearGradient><linearGradient id="g154" x2="0" y2="1"><stop offset="0.0000" stop-color="#e0dae0"/><stop offset="0.1664" stop-color="#e0dadf"/><stop offset="0.1682" stop-color="#ded5d5"/><stop offset="0.1691" stop-color="#dbcec9"/><stop offset="0.1699" stop-color="#d7c4b9"/><stop offset="0.1717" stop-color="#cda78e"/><stop offset="0.1735" stop-color="#c58468"/><stop offset="0.1744" stop-color="#be705c"/><stop offset="0.1762" stop-color="#ab4c50"/><stop offset="0.1780" stop-color="#8f2d50"/><stop offset="0.1798" stop-color="#6d1b4e"/><stop offset="0.1816" stop-color="#4d1443"/><stop offset="0.1825" stop-color="#40123d"/><stop offset="0.1843" stop-color="#341238"/><stop offset="0.1860" stop-color="#2f1436"/><stop offset="0.1887" stop-color="#371143"/><stop offset="0.1896" stop-color="#421257"/><stop offset="0.1905" stop-color="#541e7d"/><stop offset="0.1914" stop-color="#5c369b"/><stop offset="0.1923" stop-color="#5e51ad"/><stop offset="0.1932" stop-color="#606bb7"/><stop offset="0.1941" stop-color="#647ebc"/><stop offset="0.1959" stop-color="#7398c1"/><stop offset="0.1977" stop-color="#8eb0c5"/><stop offset="0.1986" stop-color="#9fbbc9"/><stop offset="0.1995" stop-color="#a9c1cb"/><stop offset="0.2075" stop-color="#ccd3d8"/><stop offset="0.4097" stop-color="#d5d7dc"/><stop offset="1.0000" stop-color="#d8d9dd"/></linearGradient><linearGradient id="g155" x2="0" y2="1"><stop offset="0.0000" stop-color="#e0dae0"/><stop offset="0.1664" stop-color="#e0dae0"/><stop offset="0.1682" stop-color="#dfd7d9"/><stop offset="0.1691" stop-color="#ddd2d1"/><stop offset="0.1699" stop-color="#dacac3"/><stop offset="0.1717" stop-color="#d0b09b"/><stop offset="0.1735" stop-color="#c78e71"/><stop offset="0.1744" stop-color="#c27b62"/><stop offset="0.1753" stop-color="#bb6858"/><stop offset="0.1771" stop-color="#a64450"/><stop offset="0.1789" stop-color="#882850"/><stop offset="0.1807" stop-color="#65194c"/><stop offset="0.1825" stop-color="#471340"/><stop offset="0.1834" stop-color="#3c113b"/><stop offset="0.1852" stop-color="#321237"/><stop offset="0.1869" stop-color="#301437"/><stop offset="0.1896" stop-color="#381145"/><stop offset="0.1905" stop-color="#4b1668"/><stop offset="0.1914" stop-color="#58278b"/><stop offset="0.1923" stop-color="#5d42a4"/><stop offset="0.1932" stop-color="#5f5db2"/><stop offset="0.1941" stop-color="#6276ba"/><stop offset="0.1959" stop-color="#6e91c0"/><stop offset="0.1977" stop-color="#85a9c4"/><stop offset="0.1995" stop-color="#a7c0cb"/><stop offset="0.2084" stop-color="#cdd3d8"/><stop offset="0.4365" stop-color="#d5d7dc"/><stop offset="1.0000" stop-color="#d9d9de"/></linearGradient><linearGradient id="g156" x2="0" y2="1"><stop offset="0.0000" stop-color="#e0dae0"/><stop offset="0.1673" stop-color="#e0dadf"/><stop offset="0.1691" stop-color="#ded5d6"/><stop offset="0.1699" stop-color="#dccfcc"/><stop offset="0.1717" stop-color="#d2b8a7"/><stop offset="0.1735" stop-color="#ca997c"/><stop offset="0.1744" stop-color="#c5866a"/><stop offset="0.1753" stop-color="#bf735d"/><stop offset="0.1762" stop-color="#b76055"/><stop offset="0.1780" stop-color="#a03e50"/><stop offset="0.1789" stop-color="#912f50"/><stop offset="0.1807" stop-color="#6f1c4e"/><stop offset="0.1825" stop-color="#4e1443"/><stop offset="0.1843" stop-color="#39113a"/><stop offset="0.1869" stop-color="#2f1436"/><stop offset="0.1896" stop-color="#361142"/><stop offset="0.1905" stop-color="#401253"/><stop offset="0.1914" stop-color="#521c78"/><stop offset="0.1923" stop-color="#5b3298"/><stop offset="0.1932" stop-color="#5e4dab"/><stop offset="0.1941" stop-color="#6068b6"/><stop offset="0.1950" stop-color="#647cbc"/><stop offset="0.1968" stop-color="#7196c1"/><stop offset="0.1986" stop-color="#8cafc5"/><stop offset="0.1995" stop-color="#9dbac8"/><stop offset="0.2004" stop-color="#a9c1cb"/><stop offset="0.2084" stop-color="#ccd3d8"/><stop offset="0.4016" stop-color="#d5d7dc"/><stop offset="1.0000" stop-color="#d9d9de"/></linearGradient><linearGradient id="g157" x2="0" y2="1"><stop offset="0.0000" stop-color="#e0dae0"/><stop offset="0.1673" stop-color="#e0dae0"/><stop offset="0.1691" stop-color="#dfd8da"/><stop offset="0.1699" stop-color="#ddd3d3"/><stop offset="0.1708" stop-color="#dacbc5"/><stop offset="0.1726" stop-color="#d0b29e"/><stop offset="0.1744" stop-color="#c89174"/><stop offset="0.1753" stop-color="#c37d63"/><stop offset="0.1762" stop-color="#bc6b59"/><stop offset="0.1780" stop-color="#a84750"/><stop offset="0.1798" stop-color="#8b2a50"/><stop offset="0.1816" stop-color="#671a4c"/><stop offset="0.1834" stop-color="#481341"/><stop offset="0.1852" stop-color="#361139"/><stop offset="0.1878" stop-color="#2f1437"/><stop offset="0.1905" stop-color="#371144"/><stop offset="0.1914" stop-color="#481563"/><stop offset="0.1923" stop-color="#572487"/><stop offset="0.1932" stop-color="#5d3ea1"/><stop offset="0.1941" stop-color="#5f59b1"/><stop offset="0.1950" stop-color="#6173ba"/><stop offset="0.1968" stop-color="#6c8fbf"/><stop offset="0.1986" stop-color="#83a8c4"/><stop offset="0.2004" stop-color="#a4beca"/><stop offset="0.2084" stop-color="#cad2d7"/><stop offset="0.2120" stop-color="#ced4d9"/><stop offset="0.4526" stop-color="#d5d7dc"/><stop offset="1.0000" stop-color="#d9d9de"/></linearGradient><linearGradient id="g158" x2="0" y2="1"><stop offset="0.0000" stop-color="#e0dae0"/><stop offset="0.1682" stop-color="#e0dae0"/><stop offset="0.1699" stop-color="#ded6d7"/><stop offset="0.1708" stop-color="#dcd0ce"/><stop offset="0.1717" stop-color="#d8c7be"/><stop offset="0.1735" stop-color="#ceac94"/><stop offset="0.1753" stop-color="#c6896c"/><stop offset="0.1762" stop-color="#c0755e"/><stop offset="0.1771" stop-color="#b96356"/><stop offset="0.1789" stop-color="#a24050"/><stop offset="0.1798" stop-color="#933050"/><stop offset="0.1816" stop-color="#711d4f"/><stop offset="0.1834" stop-color="#501444"/><stop offset="0.1852" stop-color="#3a113a"/><stop offset="0.1869" stop-color="#311337"/><stop offset="0.1887" stop-color="#301338"/><stop offset="0.1905" stop-color="#361141"/><stop offset="0.1914" stop-color="#3d114e"/><stop offset="0.1923" stop-color="#501a73"/><stop offset="0.1932" stop-color="#5b2f94"/><stop offset="0.1941" stop-color="#5e49a9"/><stop offset="0.1950" stop-color="#5f65b5"/><stop offset="0.1959" stop-color="#637abb"/><stop offset="0.1977" stop-color="#7095c0"/><stop offset="0.1995" stop-color="#89adc5"/><stop offset="0.2013" stop-color="#a8c0cb"/><stop offset="0.2093" stop-color="#ccd3d8"/><stop offset="0.2138" stop-color="#ced4d9"/><stop offset="0.4499" stop-color="#d5d7dc"/><stop offset="1.0000" stop-color="#d9d9de"/></linearGradient><linearGradient id="g159" x2="0" y2="1"><stop offset="0.0000" stop-color="#e0dae0"/><stop offset="0.1691" stop-color="#e0dadf"/><stop offset="0.1708" stop-color="#ded4d4"/><stop offset="0.1717" stop-color="#dbccc7"/><stop offset="0.1735" stop-color="#d1b4a0"/><stop offset="0.1753" stop-color="#c89376"/><stop offset="0.1762" stop-color="#c48065"/><stop offset="0.1771" stop-color="#bd6d5a"/><stop offset="0.1789" stop-color="#a94950"/><stop offset="0.1807" stop-color="#8d2b50"/><stop offset="0.1825" stop-color="#691a4d"/><stop offset="0.1843" stop-color="#4a1342"/><stop offset="0.1860" stop-color="#371139"/><stop offset="0.1887" stop-color="#2f1437"/><stop offset="0.1914" stop-color="#371144"/><stop offset="0.1923" stop-color="#46145e"/><stop offset="0.1932" stop-color="#562183"/><stop offset="0.1941" stop-color="#5d3b9f"/><stop offset="0.1950" stop-color="#5f55af"/><stop offset="0.1959" stop-color="#616fb9"/><stop offset="0.1977" stop-color="#6b8dbf"/><stop offset="0.1995" stop-color="#81a6c3"/><stop offset="0.2013" stop-color="#a2bdca"/><stop offset="0.2021" stop-color="#aac2cc"/><stop offset="0.2102" stop-color="#cdd3d8"/><stop offset="0.4383" stop-color="#d5d7dc"/><stop offset="1.0000" stop-color="#d9d9de"/></linearGradient><linearGradient id="g160" x2="0" y2="1"><stop offset="0.0000" stop-color="#e0dae0"/><stop offset="0.1691" stop-color="#e0dae0"/><stop offset="0.1708" stop-color="#dfd6d8"/><stop offset="0.1717" stop-color="#dcd1cf"/><stop offset="0.1726" stop-color="#d9c8c0"/><stop offset="0.1744" stop-color="#cfae97"/><stop offset="0.1762" stop-color="#c68b6e"/><stop offset="0.1771" stop-color="#c17860"/><stop offset="0.1780" stop-color="#ba6557"/><stop offset="0.1798" stop-color="#a44250"/><stop offset="0.1816" stop-color="#862650"/><stop offset="0.1834" stop-color="#62184b"/><stop offset="0.1852" stop-color="#44123f"/><stop offset="0.1869" stop-color="#351138"/><stop offset="0.1887" stop-color="#2f1436"/><stop offset="0.1905" stop-color="#33123c"/><stop offset="0.1914" stop-color="#361141"/><stop offset="0.1923" stop-color="#3b114a"/><stop offset="0.1932" stop-color="#4e186e"/><stop offset="0.1941" stop-color="#5a2b90"/><stop offset="0.1950" stop-color="#5e46a6"/><stop offset="0.1959" stop-color="#5f61b4"/><stop offset="0.1968" stop-color="#6378bb"/><stop offset="0.1986" stop-color="#6f93c0"/><stop offset="0.2004" stop-color="#87abc4"/><stop offset="0.2021" stop-color="#a7c0cb"/><stop offset="0.2102" stop-color="#ccd3d8"/><stop offset="0.2129" stop-color="#cfd4d9"/><stop offset="0.4758" stop-color="#d6d8dc"/><stop offset="1.0000" stop-color="#d9d9de"/></linearGradient><linearGradient id="g161" x2="0" y2="1"><stop offset="0.0000" stop-color="#e0dae0"/><stop offset="0.1699" stop-color="#e0dadf"/><stop offset="0.1717" stop-color="#ded5d5"/><stop offset="0.1726" stop-color="#dbcdc9"/><stop offset="0.1744" stop-color="#d1b6a3"/><stop offset="0.1762" stop-color="#c99578"/><stop offset="0.1771" stop-color="#c48367"/><stop offset="0.1780" stop-color="#be705b"/><stop offset="0.1798" stop-color="#ab4b50"/><stop offset="0.1816" stop-color="#8f2d50"/><stop offset="0.1834" stop-color="#6c1b4e"/><stop offset="0.1852" stop-color="#4b1342"/><stop offset="0.1869" stop-color="#381139"/><stop offset="0.1896" stop-color="#2f1436"/><stop offset="0.1923" stop-color="#371143"/><stop offset="0.1932" stop-color="#431359"/><stop offset="0.1941" stop-color="#541f7e"/><stop offset="0.1950" stop-color="#5c379c"/><stop offset="0.1959" stop-color="#5e52ad"/><stop offset="0.1968" stop-color="#606cb8"/><stop offset="0.1977" stop-color="#647ebc"/><stop offset="0.1995" stop-color="#7398c1"/><stop offset="0.2013" stop-color="#8eb1c5"/><stop offset="0.2021" stop-color="#a0bcc9"/><stop offset="0.2030" stop-color="#a9c1cb"/><stop offset="0.2111" stop-color="#ced4d8"/><stop offset="0.4481" stop-color="#d6d8dc"/><stop offset="1.0000" stop-color="#d9d9de"/></linearGradient><linearGradient id="g162" x2="0" y2="1"><stop offset="0.0000" stop-color="#e0dae0"/><stop offset="0.1699" stop-color="#e0dae0"/><stop offset="0.1717" stop-color="#dfd7d9"/><stop offset="0.1726" stop-color="#ddd2d0"/><stop offset="0.1735" stop-color="#d9c9c2"/><stop offset="0.1753" stop-color="#cfaf99"/><stop offset="0.1771" stop-color="#c78e71"/><stop offset="0.1780" stop-color="#c27b62"/><stop offset="0.1789" stop-color="#bb6857"/><stop offset="0.1807" stop-color="#a54450"/><stop offset="0.1825" stop-color="#882850"/><stop offset="0.1843" stop-color="#64194b"/><stop offset="0.1860" stop-color="#461240"/><stop offset="0.1878" stop-color="#361138"/><stop offset="0.1896" stop-color="#301436"/><stop offset="0.1914" stop-color="#32123b"/><stop offset="0.1932" stop-color="#391146"/><stop offset="0.1941" stop-color="#4c1669"/><stop offset="0.1950" stop-color="#59288d"/><stop offset="0.1959" stop-color="#5e43a5"/><stop offset="0.1968" stop-color="#5f5eb3"/><stop offset="0.1977" stop-color="#6277bb"/><stop offset="0.1995" stop-color="#6e91c0"/><stop offset="0.2013" stop-color="#86aac4"/><stop offset="0.2030" stop-color="#a7c0cb"/><stop offset="0.2120" stop-color="#cfd4d9"/><stop offset="0.5125" stop-color="#d6d8dc"/><stop offset="1.0000" stop-color="#d9d9de"/></linearGradient><linearGradient id="g163" x2="0" y2="1"><stop offset="0.0000" stop-color="#e0dae0"/><stop offset="0.1708" stop-color="#e0dadf"/><stop offset="0.1726" stop-color="#ded5d6"/><stop offset="0.1735" stop-color="#dccecb"/><stop offset="0.1744" stop-color="#d7c5bb"/><stop offset="0.1762" stop-color="#cda990"/><stop offset="0.1780" stop-color="#c58569"/><stop offset="0.1789" stop-color="#bf725d"/><stop offset="0.1798" stop-color="#b75f55"/><stop offset="0.1816" stop-color="#a03d50"/><stop offset="0.1834" stop-color="#802350"/><stop offset="0.1852" stop-color="#5d1749"/><stop offset="0.1869" stop-color="#41123d"/><stop offset="0.1887" stop-color="#341238"/><stop offset="0.1905" stop-color="#2f1436"/><stop offset="0.1932" stop-color="#361142"/><stop offset="0.1941" stop-color="#411254"/><stop offset="0.1950" stop-color="#521c7a"/><stop offset="0.1959" stop-color="#5c3499"/><stop offset="0.1968" stop-color="#5e4eab"/><stop offset="0.1977" stop-color="#6069b7"/><stop offset="0.1986" stop-color="#647cbc"/><stop offset="0.2004" stop-color="#7297c1"/><stop offset="0.2021" stop-color="#8cafc5"/><stop offset="0.2030" stop-color="#9dbac8"/><stop offset="0.2039" stop-color="#a9c1cb"/><stop offset="0.2120" stop-color="#ced4d9"/><stop offset="0.4678" stop-color="#d6d8dc"/><stop offset="1.0000" stop-color="#d9d9de"/></linearGradient><linearGradient id="g164" x2="0" y2="1"><stop offset="0.0000" stop-color="#e0dae0"/><stop offset="0.1708" stop-color="#e0dae0"/><stop offset="0.1726" stop-color="#dfd7da"/><stop offset="0.1735" stop-color="#ddd3d2"/><stop offset="0.1744" stop-color="#dacbc5"/><stop offset="0.1762" stop-color="#d0b29c"/><stop offset="0.1780" stop-color="#c89073"/><stop offset="0.1789" stop-color="#c37d63"/><stop offset="0.1798" stop-color="#bc6a58"/><stop offset="0.1816" stop-color="#a74650"/><stop offset="0.1834" stop-color="#8a2950"/><stop offset="0.1852" stop-color="#67194c"/><stop offset="0.1869" stop-color="#481341"/><stop offset="0.1887" stop-color="#361139"/><stop offset="0.1914" stop-color="#2f1437"/><stop offset="0.1941" stop-color="#381144"/><stop offset="0.1950" stop-color="#491564"/><stop offset="0.1959" stop-color="#582588"/><stop offset="0.1968" stop-color="#5d40a2"/><stop offset="0.1977" stop-color="#5f5ab1"/><stop offset="0.1986" stop-color="#6174ba"/><stop offset="0.2004" stop-color="#6d90c0"/><stop offset="0.2021" stop-color="#84a8c4"/><stop offset="0.2039" stop-color="#a6bfca"/><stop offset="0.2120" stop-color="#ccd3d8"/><stop offset="0.2147" stop-color="#d0d5d9"/><stop offset="0.5197" stop-color="#d6d8dc"/><stop offset="1.0000" stop-color="#d9d9de"/></linearGradient><linearGradient id="g165" x2="0" y2="1"><stop offset="0.0000" stop-color="#e0dae0"/><stop offset="0.1717" stop-color="#e0dadf"/><stop offset="0.1735" stop-color="#ded6d7"/><stop offset="0.1744" stop-color="#dcd0cd"/><stop offset="0.1753" stop-color="#d8c6bd"/><stop offset="0.1771" stop-color="#ceab93"/><stop offset="0.1789" stop-color="#c6876b"/><stop offset="0.1798" stop-color="#c0755e"/><stop offset="0.1807" stop-color="#b86255"/><stop offset="0.1825" stop-color="#a13f50"/><stop offset="0.1843" stop-color="#832550"/><stop offset="0.1860" stop-color="#5f174a"/><stop offset="0.1878" stop-color="#43123e"/><stop offset="0.1896" stop-color="#341238"/><stop offset="0.1914" stop-color="#2f1436"/><stop offset="0.1941" stop-color="#361141"/><stop offset="0.1950" stop-color="#3e1150"/><stop offset="0.1959" stop-color="#511a75"/><stop offset="0.1968" stop-color="#5b3095"/><stop offset="0.1977" stop-color="#5e4ba9"/><stop offset="0.1986" stop-color="#6066b6"/><stop offset="0.1995" stop-color="#637bbc"/><stop offset="0.2013" stop-color="#7195c0"/><stop offset="0.2030" stop-color="#8aaec5"/><stop offset="0.2048" stop-color="#a8c1cb"/><stop offset="0.2129" stop-color="#ced4d9"/><stop offset="0.2200" stop-color="#d0d5da"/><stop offset="0.5546" stop-color="#d7d8dd"/><stop offset="1.0000" stop-color="#d9d9de"/></linearGradient><linearGradient id="g166" x2="0" y2="1"><stop offset="0.0000" stop-color="#e0dae0"/><stop offset="0.1726" stop-color="#e0dadf"/><stop offset="0.1744" stop-color="#ddd4d3"/><stop offset="0.1753" stop-color="#daccc6"/><stop offset="0.1771" stop-color="#d1b4a0"/><stop offset="0.1789" stop-color="#c89275"/><stop offset="0.1798" stop-color="#c38065"/><stop offset="0.1807" stop-color="#bd6c5a"/><stop offset="0.1825" stop-color="#a94850"/><stop offset="0.1843" stop-color="#8c2b50"/><stop offset="0.1860" stop-color="#691a4d"/><stop offset="0.1878" stop-color="#491341"/><stop offset="0.1887" stop-color="#3e113c"/><stop offset="0.1905" stop-color="#331237"/><stop offset="0.1923" stop-color="#2f1437"/><stop offset="0.1950" stop-color="#371144"/><stop offset="0.1959" stop-color="#47145f"/><stop offset="0.1968" stop-color="#562284"/><stop offset="0.1977" stop-color="#5d3ca0"/><stop offset="0.1986" stop-color="#5f57b0"/><stop offset="0.1995" stop-color="#6170b9"/><stop offset="0.2013" stop-color="#6c8ebf"/><stop offset="0.2030" stop-color="#82a7c3"/><stop offset="0.2048" stop-color="#a3beca"/><stop offset="0.2075" stop-color="#b3c6ce"/><stop offset="0.2138" stop-color="#d0d5d9"/><stop offset="0.5018" stop-color="#d6d8dc"/><stop offset="1.0000" stop-color="#d9d9de"/></linearGradient><linearGradient id="g167" x2="0" y2="1"><stop offset="0.0000" stop-color="#e0dae0"/><stop offset="0.1726" stop-color="#e0dae0"/><stop offset="0.1744" stop-color="#dfd6d8"/><stop offset="0.1753" stop-color="#dcd1cf"/><stop offset="0.1762" stop-color="#d9c7bf"/><stop offset="0.1780" stop-color="#cfad96"/><stop offset="0.1798" stop-color="#c68a6d"/><stop offset="0.1807" stop-color="#c1775f"/><stop offset="0.1816" stop-color="#b96456"/><stop offset="0.1834" stop-color="#a34150"/><stop offset="0.1852" stop-color="#852650"/><stop offset="0.1869" stop-color="#61184b"/><stop offset="0.1887" stop-color="#44123f"/><stop offset="0.1896" stop-color="#3b113a"/><stop offset="0.1923" stop-color="#2f1436"/><stop offset="0.1950" stop-color="#361141"/><stop offset="0.1959" stop-color="#3c114b"/><stop offset="0.1968" stop-color="#4e1870"/><stop offset="0.1977" stop-color="#5a2d92"/><stop offset="0.1986" stop-color="#5e47a7"/><stop offset="0.1995" stop-color="#5f62b4"/><stop offset="0.2004" stop-color="#6379bb"/><stop offset="0.2021" stop-color="#6f93c0"/><stop offset="0.2039" stop-color="#88acc4"/><stop offset="0.2057" stop-color="#a7c0cb"/><stop offset="0.2138" stop-color="#ced4d9"/><stop offset="0.2218" stop-color="#d1d5da"/><stop offset="0.5921" stop-color="#d7d8dd"/><stop offset="1.0000" stop-color="#d9d9de"/></linearGradient><linearGradient id="g168" x2="0" y2="1"><stop offset="0.0000" stop-color="#e0dae0"/><stop offset="0.1735" stop-color="#e0dadf"/><stop offset="0.1753" stop-color="#ded4d5"/><stop offset="0.1762" stop-color="#dbcdc8"/><stop offset="0.1771" stop-color="#d7c3b7"/><stop offset="0.1798" stop-color="#c99578"/><stop offset="0.1807" stop-color="#c48267"/><stop offset="0.1816" stop-color="#be6f5b"/><stop offset="0.1834" stop-color="#aa4a50"/><stop offset="0.1852" stop-color="#8e2c50"/><stop offset="0.1869" stop-color="#6b1b4d"/><stop offset="0.1887" stop-color="#4b1342"/><stop offset="0.1896" stop-color="#40123d"/><stop offset="0.1914" stop-color="#331238"/><stop offset="0.1932" stop-color="#2f1437"/><stop offset="0.1959" stop-color="#371143"/><stop offset="0.1968" stop-color="#44135a"/><stop offset="0.1977" stop-color="#551f80"/><stop offset="0.1986" stop-color="#5c389d"/><stop offset="0.1995" stop-color="#5e53ae"/><stop offset="0.2004" stop-color="#606db8"/><stop offset="0.2013" stop-color="#657fbc"/><stop offset="0.2030" stop-color="#7499c1"/><stop offset="0.2048" stop-color="#8fb1c6"/><stop offset="0.2057" stop-color="#a0bcc9"/><stop offset="0.2066" stop-color="#aac1cc"/><stop offset="0.2147" stop-color="#d0d5d9"/><stop offset="0.5349" stop-color="#d7d8dd"/><stop offset="1.0000" stop-color="#d9d9de"/></linearGradient><linearGradient id="g169" x2="0" y2="1"><stop offset="0.0000" stop-color="#e0dae0"/><stop offset="0.1735" stop-color="#e0dae0"/><stop offset="0.1753" stop-color="#dfd7d9"/><stop offset="0.1762" stop-color="#ddd2d0"/><stop offset="0.1771" stop-color="#d9c9c2"/><stop offset="0.1789" stop-color="#cfaf99"/><stop offset="0.1807" stop-color="#c78c70"/><stop offset="0.1816" stop-color="#c27a61"/><stop offset="0.1825" stop-color="#ba6657"/><stop offset="0.1843" stop-color="#a54350"/><stop offset="0.1860" stop-color="#872750"/><stop offset="0.1878" stop-color="#64194b"/><stop offset="0.1896" stop-color="#461240"/><stop offset="0.1914" stop-color="#361138"/><stop offset="0.1932" stop-color="#301436"/><stop offset="0.1950" stop-color="#32123b"/><stop offset="0.1968" stop-color="#3a1148"/><stop offset="0.1977" stop-color="#4c176b"/><stop offset="0.1986" stop-color="#59298e"/><stop offset="0.1995" stop-color="#5e43a5"/><stop offset="0.2004" stop-color="#5f5fb3"/><stop offset="0.2013" stop-color="#6277bb"/><stop offset="0.2030" stop-color="#6e92c0"/><stop offset="0.2048" stop-color="#86aac4"/><stop offset="0.2066" stop-color="#a7c0cb"/><stop offset="0.2156" stop-color="#d1d5da"/><stop offset="0.6315" stop-color="#d7d8dd"/><stop offset="1.0000" stop-color="#d9d9de"/></linearGradient><linearGradient id="g170" x2="0" y2="1"><stop offset="0.0000" stop-color="#e0dae0"/><stop offset="0.1744" stop-color="#e0dadf"/><stop offset="0.1762" stop-color="#ded5d6"/><stop offset="0.1771" stop-color="#dccecb"/><stop offset="0.1789" stop-color="#d2b7a5"/><stop offset="0.1807" stop-color="#c9977a"/><stop offset="0.1816" stop-color="#c58569"/><stop offset="0.1825" stop-color="#bf715c"/><stop offset="0.1834" stop-color="#b65e54"/><stop offset="0.1852" stop-color="#9f3c50"/><stop offset="0.1869" stop-color="#802350"/><stop offset="0.1887" stop-color="#5c1749"/><stop offset="0.1905" stop-color="#41123d"/><stop offset="0.1923" stop-color="#341238"/><stop offset="0.1941" stop-color="#2f1436"/><stop offset="0.1968" stop-color="#361142"/><stop offset="0.1977" stop-color="#411256"/><stop offset="0.1986" stop-color="#531d7b"/><stop offset="0.1995" stop-color="#5c359a"/><stop offset="0.2004" stop-color="#5e4fac"/><stop offset="0.2013" stop-color="#606ab7"/><stop offset="0.2021" stop-color="#647dbc"/><stop offset="0.2039" stop-color="#7297c1"/><stop offset="0.2057" stop-color="#8db0c5"/><stop offset="0.2066" stop-color="#9ebbc9"/><stop offset="0.2075" stop-color="#a9c1cb"/><stop offset="0.2156" stop-color="#d0d5d9"/><stop offset="0.5447" stop-color="#d7d8dd"/><stop offset="1.0000" stop-color="#dad9de"/></linearGradient><linearGradient id="g171" x2="0" y2="1"><stop offset="0.0000" stop-color="#e0dae0"/><stop offset="0.1744" stop-color="#e0dae0"/><stop offset="0.1762" stop-color="#dfd7da"/><stop offset="0.1771" stop-color="#ddd2d1"/><stop offset="0.1780" stop-color="#dacac4"/><stop offset="0.1798" stop-color="#d0b19c"/><stop offset="0.1816" stop-color="#c78f72"/><stop offset="0.1825" stop-color="#c27c63"/><stop offset="0.1834" stop-color="#bb6958"/><stop offset="0.1852" stop-color="#a64550"/><stop offset="0.1869" stop-color="#8a2950"/><stop offset="0.1887" stop-color="#66194c"/><stop offset="0.1905" stop-color="#471340"/><stop offset="0.1923" stop-color="#361139"/><stop offset="0.1950" stop-color="#2f1437"/><stop offset="0.1977" stop-color="#381145"/><stop offset="0.1986" stop-color="#4a1566"/><stop offset="0.1995" stop-color="#58268a"/><stop offset="0.2004" stop-color="#5d41a3"/><stop offset="0.2013" stop-color="#5f5bb2"/><stop offset="0.2021" stop-color="#6275ba"/><stop offset="0.2039" stop-color="#6d90c0"/><stop offset="0.2057" stop-color="#84a9c4"/><stop offset="0.2075" stop-color="#a6bfca"/><stop offset="0.2156" stop-color="#ced4d9"/><stop offset="0.2174" stop-color="#d2d6da"/><stop offset="0.6691" stop-color="#d8d9dd"/><stop offset="1.0000" stop-color="#dad9de"/></linearGradient><linearGradient id="g172" x2="0" y2="1"><stop offset="0.0000" stop-color="#e0dae0"/><stop offset="0.1753" stop-color="#e0dadf"/><stop offset="0.1771" stop-color="#ded6d7"/><stop offset="0.1780" stop-color="#dccfcc"/><stop offset="0.1789" stop-color="#d8c6bd"/><stop offset="0.1807" stop-color="#ceab92"/><stop offset="0.1825" stop-color="#c6876b"/><stop offset="0.1834" stop-color="#c0745e"/><stop offset="0.1843" stop-color="#b86155"/><stop offset="0.1860" stop-color="#a13f50"/><stop offset="0.1869" stop-color="#922f50"/><stop offset="0.1887" stop-color="#701c4e"/><stop offset="0.1905" stop-color="#4f1444"/><stop offset="0.1914" stop-color="#42123e"/><stop offset="0.1932" stop-color="#341238"/><stop offset="0.1950" stop-color="#2f1436"/><stop offset="0.1977" stop-color="#361142"/><stop offset="0.1986" stop-color="#3f1251"/><stop offset="0.1995" stop-color="#511a75"/><stop offset="0.2004" stop-color="#5b3196"/><stop offset="0.2013" stop-color="#5e4caa"/><stop offset="0.2021" stop-color="#6066b6"/><stop offset="0.2030" stop-color="#637bbc"/><stop offset="0.2048" stop-color="#7195c0"/><stop offset="0.2066" stop-color="#8aaec5"/><stop offset="0.2084" stop-color="#a9c1cb"/><stop offset="0.2165" stop-color="#d0d5d9"/><stop offset="0.3256" stop-color="#d4d7dc"/><stop offset="1.0000" stop-color="#dad9de"/></linearGradient><linearGradient id="g173" x2="0" y2="1"><stop offset="0.0000" stop-color="#e0dae0"/><stop offset="0.1762" stop-color="#e0dadf"/><stop offset="0.1780" stop-color="#ddd3d3"/><stop offset="0.1789" stop-color="#daccc6"/><stop offset="0.1807" stop-color="#d1b49f"/><stop offset="0.1825" stop-color="#c89275"/><stop offset="0.1834" stop-color="#c37f65"/><stop offset="0.1843" stop-color="#bd6c5a"/><stop offset="0.1860" stop-color="#a94850"/><stop offset="0.1878" stop-color="#8c2a50"/><stop offset="0.1896" stop-color="#691a4d"/><stop offset="0.1914" stop-color="#491341"/><stop offset="0.1932" stop-color="#371139"/><stop offset="0.1950" stop-color="#301437"/><stop offset="0.1968" stop-color="#32123a"/><stop offset="0.1986" stop-color="#371144"/><stop offset="0.1995" stop-color="#47145f"/><stop offset="0.2004" stop-color="#562385"/><stop offset="0.2013" stop-color="#5d3ca0"/><stop offset="0.2021" stop-color="#5f57b0"/><stop offset="0.2030" stop-color="#6171b9"/><stop offset="0.2048" stop-color="#6c8ebf"/><stop offset="0.2066" stop-color="#82a7c3"/><stop offset="0.2084" stop-color="#a3beca"/><stop offset="0.2111" stop-color="#b3c6ce"/><stop offset="0.2174" stop-color="#d1d5da"/><stop offset="0.6118" stop-color="#d8d9dd"/><stop offset="1.0000" stop-color="#dad9de"/></linearGradient><linearGradient id="g174" x2="0" y2="1"><stop offset="0.0000" stop-color="#e0dae0"/><stop offset="0.1762" stop-color="#e0dae0"/><stop offset="0.1780" stop-color="#dfd6d8"/><stop offset="0.1789" stop-color="#dcd1cf"/><stop offset="0.1798" stop-color="#d9c8bf"/><stop offset="0.1816" stop-color="#cfad96"/><stop offset="0.1834" stop-color="#c68a6d"/><stop offset="0.1843" stop-color="#c1775f"/><stop offset="0.1852" stop-color="#b96456"/><stop offset="0.1869" stop-color="#a34150"/><stop offset="0.1887" stop-color="#852650"/><stop offset="0.1905" stop-color="#61184b"/><stop offset="0.1923" stop-color="#44123f"/><stop offset="0.1932" stop-color="#3b113a"/><stop offset="0.1959" stop-color="#2f1436"/><stop offset="0.1986" stop-color="#361141"/><stop offset="0.1995" stop-color="#3c114b"/><stop offset="0.2004" stop-color="#4e1870"/><stop offset="0.2013" stop-color="#5a2d92"/><stop offset="0.2021" stop-color="#5e47a7"/><stop offset="0.2030" stop-color="#5f62b4"/><stop offset="0.2039" stop-color="#6379bb"/><stop offset="0.2057" stop-color="#6f93c0"/><stop offset="0.2075" stop-color="#88acc4"/><stop offset="0.2093" stop-color="#a7c0cb"/><stop offset="0.2174" stop-color="#cfd4d9"/><stop offset="0.2245" stop-color="#d2d6da"/><stop offset="0.6190" stop-color="#d8d9dd"/><stop offset="1.0000" stop-color="#dad9de"/></linearGradient><linearGradient id="g175" x2="0" y2="1"><stop offset="0.0000" stop-color="#e0dae0"/><stop offset="0.1771" stop-color="#e0dadf"/><stop offset="0.1789" stop-color="#ded4d5"/><stop offset="0.1798" stop-color="#dbcdc9"/><stop offset="0.1816" stop-color="#d1b6a3"/><stop offset="0.1834" stop-color="#c99578"/><stop offset="0.1843" stop-color="#c48267"/><stop offset="0.1852" stop-color="#be6f5b"/><stop offset="0.1869" stop-color="#aa4b50"/><stop offset="0.1887" stop-color="#8e2c50"/><stop offset="0.1905" stop-color="#6c1b4d"/><stop offset="0.1923" stop-color="#4b1342"/><stop offset="0.1941" stop-color="#381139"/><stop offset="0.1968" stop-color="#2f1436"/><stop offset="0.1995" stop-color="#371143"/><stop offset="0.2004" stop-color="#44135a"/><stop offset="0.2013" stop-color="#551f7f"/><stop offset="0.2021" stop-color="#5c389c"/><stop offset="0.2030" stop-color="#5e53ae"/><stop offset="0.2039" stop-color="#606db8"/><stop offset="0.2057" stop-color="#6b8cbf"/><stop offset="0.2075" stop-color="#80a5c3"/><stop offset="0.2093" stop-color="#a0bcc9"/><stop offset="0.2102" stop-color="#aac1cc"/><stop offset="0.2182" stop-color="#d0d5da"/><stop offset="0.5313" stop-color="#d8d8dd"/><stop offset="1.0000" stop-color="#dad9de"/></linearGradient><linearGradient id="g176" x2="0" y2="1"><stop offset="0.0000" stop-color="#e0dae0"/><stop offset="0.1771" stop-color="#e0dae0"/><stop offset="0.1789" stop-color="#dfd7d9"/><stop offset="0.1798" stop-color="#ddd2d0"/><stop offset="0.1807" stop-color="#d9c9c2"/><stop offset="0.1825" stop-color="#cfaf99"/><stop offset="0.1843" stop-color="#c78d71"/><stop offset="0.1852" stop-color="#c27a61"/><stop offset="0.1860" stop-color="#bb6757"/><stop offset="0.1878" stop-color="#a54450"/><stop offset="0.1896" stop-color="#872750"/><stop offset="0.1914" stop-color="#64194b"/><stop offset="0.1932" stop-color="#461240"/><stop offset="0.1950" stop-color="#361138"/><stop offset="0.1968" stop-color="#301436"/><stop offset="0.1986" stop-color="#32123b"/><stop offset="0.2004" stop-color="#391147"/><stop offset="0.2013" stop-color="#4c1669"/><stop offset="0.2021" stop-color="#59298d"/><stop offset="0.2030" stop-color="#5e43a5"/><stop offset="0.2039" stop-color="#5f5eb3"/><stop offset="0.2048" stop-color="#6277bb"/><stop offset="0.2066" stop-color="#6e91c0"/><stop offset="0.2084" stop-color="#86aac4"/><stop offset="0.2102" stop-color="#a7c0cb"/><stop offset="0.2191" stop-color="#d1d6da"/><stop offset="0.5841" stop-color="#d8d9dd"/><stop offset="1.0000" stop-color="#dad9de"/></linearGradient><linearGradient id="g177" x2="0" y2="1"><stop offset="0.0000" stop-color="#e0dae0"/><stop offset="0.1780" stop-color="#e0dadf"/><stop offset="0.1798" stop-color="#ded5d6"/><stop offset="0.1807" stop-color="#dccecb"/><stop offset="0.1816" stop-color="#d7c5bb"/><stop offset="0.1834" stop-color="#cda990"/><stop offset="0.1852" stop-color="#c58569"/><stop offset="0.1860" stop-color="#bf725d"/><stop offset="0.1869" stop-color="#b75f55"/><stop offset="0.1887" stop-color="#a03d50"/><stop offset="0.1905" stop-color="#802350"/><stop offset="0.1923" stop-color="#5d1749"/><stop offset="0.1941" stop-color="#41123d"/><stop offset="0.1959" stop-color="#341238"/><stop offset="0.1977" stop-color="#2f1436"/><stop offset="0.2004" stop-color="#361142"/><stop offset="0.2013" stop-color="#411254"/><stop offset="0.2021" stop-color="#521c7a"/><stop offset="0.2030" stop-color="#5c3499"/><stop offset="0.2039" stop-color="#5e4eab"/><stop offset="0.2048" stop-color="#6069b7"/><stop offset="0.2057" stop-color="#647cbc"/><stop offset="0.2075" stop-color="#7297c1"/><stop offset="0.2093" stop-color="#8cafc5"/><stop offset="0.2102" stop-color="#9dbac8"/><stop offset="0.2111" stop-color="#a9c1cb"/><stop offset="0.2191" stop-color="#d0d5da"/><stop offset="0.5367" stop-color="#d8d9dd"/><stop offset="1.0000" stop-color="#dad9de"/></linearGradient><linearGradient id="g178" x2="0" y2="1"><stop offset="0.0000" stop-color="#e0dae0"/><stop offset="0.1780" stop-color="#e0dae0"/><stop offset="0.1798" stop-color="#dfd7da"/><stop offset="0.1807" stop-color="#ddd3d2"/><stop offset="0.1816" stop-color="#dacbc5"/><stop offset="0.1834" stop-color="#d0b29c"/><stop offset="0.1852" stop-color="#c89073"/><stop offset="0.1860" stop-color="#c37d63"/><stop offset="0.1869" stop-color="#bc6a58"/><stop offset="0.1887" stop-color="#a74650"/><stop offset="0.1905" stop-color="#8b2a50"/><stop offset="0.1923" stop-color="#67194c"/><stop offset="0.1941" stop-color="#481341"/><stop offset="0.1959" stop-color="#361139"/><stop offset="0.1986" stop-color="#2f1437"/><stop offset="0.2013" stop-color="#381144"/><stop offset="0.2021" stop-color="#491563"/><stop offset="0.2030" stop-color="#572588"/><stop offset="0.2039" stop-color="#5d3fa2"/><stop offset="0.2048" stop-color="#5f5ab1"/><stop offset="0.2057" stop-color="#6173ba"/><stop offset="0.2075" stop-color="#6d8fbf"/><stop offset="0.2093" stop-color="#84a8c4"/><stop offset="0.2111" stop-color="#a5bfca"/><stop offset="0.2191" stop-color="#ced4d9"/><stop offset="0.2209" stop-color="#d2d6da"/><stop offset="0.5671" stop-color="#d8d9dd"/><stop offset="1.0000" stop-color="#dad9de"/></linearGradient><linearGradient id="g179" x2="0" y2="1"><stop offset="0.0000" stop-color="#e0dae0"/><stop offset="0.1789" stop-color="#e0dae0"/><stop offset="0.1807" stop-color="#ded6d7"/><stop offset="0.1816" stop-color="#dcd0cd"/><stop offset="0.1834" stop-color="#d3baaa"/><stop offset="0.1852" stop-color="#ca9b7e"/><stop offset="0.1860" stop-color="#c6896c"/><stop offset="0.1869" stop-color="#c0755e"/><stop offset="0.1878" stop-color="#b86255"/><stop offset="0.1896" stop-color="#a23f50"/><stop offset="0.1914" stop-color="#832550"/><stop offset="0.1932" stop-color="#60184a"/><stop offset="0.1950" stop-color="#43123e"/><stop offset="0.1968" stop-color="#341238"/><stop offset="0.1986" stop-color="#2f1436"/><stop offset="0.2013" stop-color="#361141"/><stop offset="0.2021" stop-color="#3e114f"/><stop offset="0.2030" stop-color="#501a74"/><stop offset="0.2039" stop-color="#5b2f95"/><stop offset="0.2048" stop-color="#5e4aa9"/><stop offset="0.2057" stop-color="#5f65b5"/><stop offset="0.2066" stop-color="#637abb"/><stop offset="0.2084" stop-color="#7195c0"/><stop offset="0.2102" stop-color="#89adc5"/><stop offset="0.2120" stop-color="#a8c1cb"/><stop offset="0.2200" stop-color="#cfd4d9"/><stop offset="0.2272" stop-color="#d2d6da"/><stop offset="0.5689" stop-color="#d8d9dd"/><stop offset="1.0000" stop-color="#dad9de"/></linearGradient><linearGradient id="g180" x2="0" y2="1"><stop offset="0.0000" stop-color="#e0dae0"/><stop offset="0.1798" stop-color="#e0dadf"/><stop offset="0.1816" stop-color="#ded4d4"/><stop offset="0.1825" stop-color="#dbccc7"/><stop offset="0.1843" stop-color="#d1b4a0"/><stop offset="0.1860" stop-color="#c89376"/><stop offset="0.1869" stop-color="#c48065"/><stop offset="0.1878" stop-color="#bd6d5a"/><stop offset="0.1896" stop-color="#a94950"/><stop offset="0.1914" stop-color="#8d2b50"/><stop offset="0.1932" stop-color="#691a4d"/><stop offset="0.1950" stop-color="#4a1342"/><stop offset="0.1968" stop-color="#371139"/><stop offset="0.1995" stop-color="#2f1437"/><stop offset="0.2021" stop-color="#371144"/><stop offset="0.2030" stop-color="#46145e"/><stop offset="0.2039" stop-color="#562183"/><stop offset="0.2048" stop-color="#5d3b9f"/><stop offset="0.2057" stop-color="#5f55af"/><stop offset="0.2066" stop-color="#616fb9"/><stop offset="0.2084" stop-color="#6b8dbf"/><stop offset="0.2102" stop-color="#81a6c3"/><stop offset="0.2120" stop-color="#a2bdca"/><stop offset="0.2138" stop-color="#afc4cd"/><stop offset="0.2209" stop-color="#d1d5da"/><stop offset="0.5322" stop-color="#d8d9dd"/><stop offset="1.0000" stop-color="#dad9de"/></linearGradient><linearGradient id="g181" x2="0" y2="1"><stop offset="0.0000" stop-color="#e0dae0"/><stop offset="0.1798" stop-color="#e0dae0"/><stop offset="0.1816" stop-color="#dfd7d8"/><stop offset="0.1825" stop-color="#dcd1cf"/><stop offset="0.1834" stop-color="#d9c8c0"/><stop offset="0.1852" stop-color="#cfae97"/><stop offset="0.1869" stop-color="#c68b6e"/><stop offset="0.1878" stop-color="#c17960"/><stop offset="0.1887" stop-color="#ba6557"/><stop offset="0.1905" stop-color="#a44250"/><stop offset="0.1923" stop-color="#862750"/><stop offset="0.1941" stop-color="#63184b"/><stop offset="0.1959" stop-color="#45123f"/><stop offset="0.1977" stop-color="#351138"/><stop offset="0.1995" stop-color="#2f1436"/><stop offset="0.2013" stop-color="#33123c"/><stop offset="0.2021" stop-color="#351140"/><stop offset="0.2030" stop-color="#3b114a"/><stop offset="0.2039" stop-color="#4d186d"/><stop offset="0.2048" stop-color="#5a2b90"/><stop offset="0.2057" stop-color="#5e46a6"/><stop offset="0.2066" stop-color="#5f60b4"/><stop offset="0.2075" stop-color="#6278bb"/><stop offset="0.2093" stop-color="#6f93c0"/><stop offset="0.2111" stop-color="#87abc4"/><stop offset="0.2129" stop-color="#a7c0cb"/><stop offset="0.2209" stop-color="#cfd4d9"/><stop offset="0.2290" stop-color="#d2d6da"/><stop offset="0.5608" stop-color="#d8d9dd"/><stop offset="1.0000" stop-color="#dad9de"/></linearGradient><linearGradient id="g182" x2="0" y2="1"><stop offset="0.0000" stop-color="#e0dae0"/><stop offset="0.1807" stop-color="#e0dadf"/><stop offset="0.1825" stop-color="#ded5d5"/><stop offset="0.1834" stop-color="#dbcdc9"/><stop offset="0.1843" stop-color="#d7c3b9"/><stop offset="0.1860" stop-color="#cda78e"/><stop offset="0.1878" stop-color="#c58468"/><stop offset="0.1887" stop-color="#be705b"/><stop offset="0.1905" stop-color="#ab4b50"/><stop offset="0.1923" stop-color="#8f2d50"/><stop offset="0.1941" stop-color="#6c1b4e"/><stop offset="0.1959" stop-color="#4c1343"/><stop offset="0.1968" stop-color="#40123d"/><stop offset="0.1986" stop-color="#341238"/><stop offset="0.2004" stop-color="#2f1436"/><stop offset="0.2030" stop-color="#371143"/><stop offset="0.2039" stop-color="#421257"/><stop offset="0.2048" stop-color="#541e7e"/><stop offset="0.2057" stop-color="#5c369b"/><stop offset="0.2066" stop-color="#5e51ad"/><stop offset="0.2075" stop-color="#606cb8"/><stop offset="0.2084" stop-color="#647ebc"/><stop offset="0.2102" stop-color="#7398c1"/><stop offset="0.2120" stop-color="#8eb0c5"/><stop offset="0.2129" stop-color="#9fbbc9"/><stop offset="0.2138" stop-color="#a9c1cb"/><stop offset="0.2218" stop-color="#d0d5da"/><stop offset="0.5018" stop-color="#d8d9dd"/><stop offset="1.0000" stop-color="#dad9de"/></linearGradient><linearGradient id="g183" x2="0" y2="1"><stop offset="0.0000" stop-color="#e0dae0"/><stop offset="0.1807" stop-color="#e0dae0"/><stop offset="0.1825" stop-color="#dfd7d9"/><stop offset="0.1834" stop-color="#ddd2d1"/><stop offset="0.1843" stop-color="#dacac3"/><stop offset="0.1860" stop-color="#d0b09b"/><stop offset="0.1878" stop-color="#c78e71"/><stop offset="0.1887" stop-color="#c27b62"/><stop offset="0.1896" stop-color="#bb6858"/><stop offset="0.1914" stop-color="#a64550"/><stop offset="0.1932" stop-color="#882850"/><stop offset="0.1950" stop-color="#65194c"/><stop offset="0.1968" stop-color="#471340"/><stop offset="0.1986" stop-color="#361138"/><stop offset="0.2013" stop-color="#301437"/><stop offset="0.2039" stop-color="#381145"/><stop offset="0.2048" stop-color="#4b1668"/><stop offset="0.2057" stop-color="#58278b"/><stop offset="0.2066" stop-color="#5d42a4"/><stop offset="0.2075" stop-color="#5f5db2"/><stop offset="0.2084" stop-color="#6276ba"/><stop offset="0.2102" stop-color="#6e91c0"/><stop offset="0.2120" stop-color="#85a9c4"/><stop offset="0.2138" stop-color="#a7c0cb"/><stop offset="0.2227" stop-color="#d1d6da"/><stop offset="0.5403" stop-color="#d9d9de"/><stop offset="1.0000" stop-color="#dad9de"/></linearGradient><linearGradient id="g184" x2="0" y2="1"><stop offset="0.0000" stop-color="#e0dae0"/><stop offset="0.1816" stop-color="#e0dadf"/><stop offset="0.1834" stop-color="#ded5d6"/><stop offset="0.1843" stop-color="#dccfcc"/><stop offset="0.1860" stop-color="#d2b9a7"/><stop offset="0.1878" stop-color="#ca997c"/><stop offset="0.1887" stop-color="#c5866a"/><stop offset="0.1896" stop-color="#c0735d"/><stop offset="0.1905" stop-color="#b86155"/><stop offset="0.1923" stop-color="#a03e50"/><stop offset="0.1941" stop-color="#812450"/><stop offset="0.1959" stop-color="#5e1749"/><stop offset="0.1977" stop-color="#42123e"/><stop offset="0.1995" stop-color="#341238"/><stop offset="0.2013" stop-color="#2f1436"/><stop offset="0.2039" stop-color="#361142"/><stop offset="0.2048" stop-color="#401253"/><stop offset="0.2057" stop-color="#511b77"/><stop offset="0.2066" stop-color="#5b3298"/><stop offset="0.2075" stop-color="#5e4dab"/><stop offset="0.2084" stop-color="#6067b6"/><stop offset="0.2093" stop-color="#647cbc"/><stop offset="0.2111" stop-color="#7196c1"/><stop offset="0.2129" stop-color="#8bafc5"/><stop offset="0.2147" stop-color="#a9c1cb"/><stop offset="0.2227" stop-color="#d0d5d9"/><stop offset="0.4401" stop-color="#d8d9dd"/><stop offset="1.0000" stop-color="#dadade"/></linearGradient><linearGradient id="g185" x2="0" y2="1"><stop offset="0.0000" stop-color="#e0dae0"/><stop offset="0.1816" stop-color="#e0dae0"/><stop offset="0.1834" stop-color="#dfd8da"/><stop offset="0.1843" stop-color="#ddd3d3"/><stop offset="0.1852" stop-color="#dacbc6"/><stop offset="0.1869" stop-color="#d0b39e"/><stop offset="0.1887" stop-color="#c89174"/><stop offset="0.1896" stop-color="#c37f64"/><stop offset="0.1905" stop-color="#bc6b59"/><stop offset="0.1923" stop-color="#a84750"/><stop offset="0.1941" stop-color="#8b2a50"/><stop offset="0.1959" stop-color="#681a4d"/><stop offset="0.1977" stop-color="#491341"/><stop offset="0.1995" stop-color="#371139"/><stop offset="0.2021" stop-color="#2f1437"/><stop offset="0.2048" stop-color="#371144"/><stop offset="0.2057" stop-color="#471461"/><stop offset="0.2066" stop-color="#572487"/><stop offset="0.2075" stop-color="#5d3da1"/><stop offset="0.2084" stop-color="#5f58b0"/><stop offset="0.2093" stop-color="#6172ba"/><stop offset="0.2111" stop-color="#6c8fbf"/><stop offset="0.2129" stop-color="#82a7c3"/><stop offset="0.2147" stop-color="#a4beca"/><stop offset="0.2227" stop-color="#ced4d9"/><stop offset="0.2245" stop-color="#d2d6da"/><stop offset="0.5420" stop-color="#d9d9de"/><stop offset="1.0000" stop-color="#dadade"/></linearGradient><linearGradient id="g186" x2="0" y2="1"><stop offset="0.0000" stop-color="#e0dae0"/><stop offset="0.1825" stop-color="#e0dae0"/><stop offset="0.1843" stop-color="#dfd6d8"/><stop offset="0.1852" stop-color="#dcd0ce"/><stop offset="0.1860" stop-color="#d8c7be"/><stop offset="0.1878" stop-color="#ceac95"/><stop offset="0.1896" stop-color="#c6896d"/><stop offset="0.1905" stop-color="#c0765f"/><stop offset="0.1914" stop-color="#b96356"/><stop offset="0.1932" stop-color="#a34050"/><stop offset="0.1950" stop-color="#842550"/><stop offset="0.1968" stop-color="#60184a"/><stop offset="0.1986" stop-color="#43123f"/><stop offset="0.2004" stop-color="#351138"/><stop offset="0.2021" stop-color="#2f1436"/><stop offset="0.2048" stop-color="#361141"/><stop offset="0.2057" stop-color="#3d114d"/><stop offset="0.2066" stop-color="#4f1972"/><stop offset="0.2075" stop-color="#5a2e93"/><stop offset="0.2084" stop-color="#5e48a8"/><stop offset="0.2093" stop-color="#5f63b5"/><stop offset="0.2102" stop-color="#6379bb"/><stop offset="0.2120" stop-color="#7094c0"/><stop offset="0.2138" stop-color="#89adc5"/><stop offset="0.2156" stop-color="#a8c0cb"/><stop offset="0.2236" stop-color="#cfd4d9"/><stop offset="0.2308" stop-color="#d2d6da"/><stop offset="0.5438" stop-color="#d9d9de"/><stop offset="1.0000" stop-color="#dadade"/></linearGradient><linearGradient id="g187" x2="0" y2="1"><stop offset="0.0000" stop-color="#e0dae0"/><stop offset="0.1834" stop-color="#e0dadf"/><stop offset="0.1852" stop-color="#ded4d4"/><stop offset="0.1860" stop-color="#dbcdc8"/><stop offset="0.1878" stop-color="#d1b5a1"/><stop offset="0.1896" stop-color="#c89477"/><stop offset="0.1905" stop-color="#c48166"/><stop offset="0.1914" stop-color="#be6e5a"/><stop offset="0.1932" stop-color="#aa4a50"/><stop offset="0.1950" stop-color="#8e2c50"/><stop offset="0.1968" stop-color="#6b1b4d"/><stop offset="0.1986" stop-color="#4b1342"/><stop offset="0.1995" stop-color="#3f123d"/><stop offset="0.2013" stop-color="#331237"/><stop offset="0.2030" stop-color="#2f1437"/><stop offset="0.2057" stop-color="#371143"/><stop offset="0.2066" stop-color="#45135c"/><stop offset="0.2075" stop-color="#552081"/><stop offset="0.2084" stop-color="#5d399e"/><stop offset="0.2093" stop-color="#5e54ae"/><stop offset="0.2102" stop-color="#606eb8"/><stop offset="0.2111" stop-color="#657fbd"/><stop offset="0.2129" stop-color="#7499c1"/><stop offset="0.2147" stop-color="#8fb1c6"/><stop offset="0.2156" stop-color="#a1bdc9"/><stop offset="0.2165" stop-color="#aac2cc"/><stop offset="0.2245" stop-color="#d1d5da"/><stop offset="0.5098" stop-color="#d9d9de"/><stop offset="1.0000" stop-color="#dadadf"/></linearGradient><linearGradient id="g188" x2="0" y2="1"><stop offset="0.0000" stop-color="#e0dae0"/><stop offset="0.1834" stop-color="#e0dae0"/><stop offset="0.1852" stop-color="#dfd7d9"/><stop offset="0.1860" stop-color="#ddd2d0"/><stop offset="0.1869" stop-color="#d9c9c2"/><stop offset="0.1887" stop-color="#cfaf98"/><stop offset="0.1905" stop-color="#c78c6f"/><stop offset="0.1914" stop-color="#c27a61"/><stop offset="0.1923" stop-color="#ba6657"/><stop offset="0.1941" stop-color="#a54350"/><stop offset="0.1959" stop-color="#872750"/><stop offset="0.1977" stop-color="#63194b"/><stop offset="0.1995" stop-color="#461240"/><stop offset="0.2004" stop-color="#3c113b"/><stop offset="0.2030" stop-color="#301436"/><stop offset="0.2048" stop-color="#32123b"/><stop offset="0.2066" stop-color="#3a1148"/><stop offset="0.2075" stop-color="#4c176b"/><stop offset="0.2084" stop-color="#592a8f"/><stop offset="0.2093" stop-color="#5e44a5"/><stop offset="0.2102" stop-color="#5f5fb3"/><stop offset="0.2111" stop-color="#6277bb"/><stop offset="0.2129" stop-color="#6e92c0"/><stop offset="0.2147" stop-color="#87abc4"/><stop offset="0.2165" stop-color="#a7c0cb"/><stop offset="0.2245" stop-color="#cfd4d9"/><stop offset="0.2281" stop-color="#d2d6da"/><stop offset="0.5268" stop-color="#d9d9de"/><stop offset="1.0000" stop-color="#dbdadf"/></linearGradient><linearGradient id="g189" x2="0" y2="1"><stop offset="0.0000" stop-color="#e0dae0"/><stop offset="0.1843" stop-color="#e0dadf"/><stop offset="0.1860" stop-color="#ded5d6"/><stop offset="0.1869" stop-color="#dccecb"/><stop offset="0.1887" stop-color="#d2b7a5"/><stop offset="0.1905" stop-color="#c9977a"/><stop offset="0.1914" stop-color="#c58469"/><stop offset="0.1923" stop-color="#bf715c"/><stop offset="0.1932" stop-color="#b65e54"/><stop offset="0.1950" stop-color="#9f3c50"/><stop offset="0.1968" stop-color="#7f2350"/><stop offset="0.1986" stop-color="#5c1749"/><stop offset="0.2004" stop-color="#41123d"/><stop offset="0.2021" stop-color="#341238"/><stop offset="0.2039" stop-color="#2f1436"/><stop offset="0.2066" stop-color="#361142"/><stop offset="0.2075" stop-color="#411256"/><stop offset="0.2084" stop-color="#531d7c"/><stop offset="0.2093" stop-color="#5c359a"/><stop offset="0.2102" stop-color="#5e4fac"/><stop offset="0.2111" stop-color="#606ab7"/><stop offset="0.2120" stop-color="#647dbc"/><stop offset="0.2138" stop-color="#7297c1"/><stop offset="0.2156" stop-color="#8db0c5"/><stop offset="0.2165" stop-color="#9ebbc9"/><stop offset="0.2174" stop-color="#a9c1cb"/><stop offset="0.2254" stop-color="#d0d5da"/><stop offset="0.4919" stop-color="#d9d9de"/><stop offset="1.0000" stop-color="#dbdadf"/></linearGradient><linearGradient id="g190" x2="0" y2="1"><stop offset="0.0000" stop-color="#e0dae0"/><stop offset="0.1843" stop-color="#e0dae0"/><stop offset="0.1860" stop-color="#dfd7da"/><stop offset="0.1869" stop-color="#ddd2d1"/><stop offset="0.1878" stop-color="#dacac4"/><stop offset="0.1896" stop-color="#d0b19c"/><stop offset="0.1914" stop-color="#c78f72"/><stop offset="0.1923" stop-color="#c27c63"/><stop offset="0.1932" stop-color="#bc6958"/><stop offset="0.1950" stop-color="#a74550"/><stop offset="0.1968" stop-color="#8a2950"/><stop offset="0.1986" stop-color="#66194c"/><stop offset="0.2004" stop-color="#471340"/><stop offset="0.2021" stop-color="#361139"/><stop offset="0.2048" stop-color="#2f1437"/><stop offset="0.2075" stop-color="#381145"/><stop offset="0.2084" stop-color="#4a1565"/><stop offset="0.2093" stop-color="#58268a"/><stop offset="0.2102" stop-color="#5d40a3"/><stop offset="0.2111" stop-color="#5f5bb1"/><stop offset="0.2120" stop-color="#6275ba"/><stop offset="0.2138" stop-color="#6d90c0"/><stop offset="0.2156" stop-color="#84a9c4"/><stop offset="0.2174" stop-color="#a6bfca"/><stop offset="0.2254" stop-color="#ced4d9"/><stop offset="0.2272" stop-color="#d2d6da"/><stop offset="0.5098" stop-color="#d9d9de"/><stop offset="1.0000" stop-color="#dbdadf"/></linearGradient><linearGradient id="g191" x2="0" y2="1"><stop offset="0.0000" stop-color="#e0dae0"/><stop offset="0.1852" stop-color="#e0dadf"/><stop offset="0.1869" stop-color="#ded6d7"/><stop offset="0.1878" stop-color="#dccfcc"/><stop offset="0.1887" stop-color="#d8c6bd"/><stop offset="0.1905" stop-color="#ceab92"/><stop offset="0.1923" stop-color="#c6876b"/><stop offset="0.1932" stop-color="#c0745e"/><stop offset="0.1941" stop-color="#b86255"/><stop offset="0.1959" stop-color="#a13f50"/><stop offset="0.1968" stop-color="#922f50"/><stop offset="0.1986" stop-color="#701c4e"/><stop offset="0.2004" stop-color="#4f1444"/><stop offset="0.2013" stop-color="#42123e"/><stop offset="0.2030" stop-color="#341238"/><stop offset="0.2048" stop-color="#2f1436"/><stop offset="0.2075" stop-color="#361142"/><stop offset="0.2084" stop-color="#3f1250"/><stop offset="0.2093" stop-color="#511a75"/><stop offset="0.2102" stop-color="#5b3196"/><stop offset="0.2111" stop-color="#5e4baa"/><stop offset="0.2120" stop-color="#6066b6"/><stop offset="0.2129" stop-color="#637bbc"/><stop offset="0.2147" stop-color="#7195c0"/><stop offset="0.2165" stop-color="#8aaec5"/><stop offset="0.2182" stop-color="#a9c1cb"/><stop offset="0.2263" stop-color="#d0d5d9"/><stop offset="0.2934" stop-color="#d4d7dc"/><stop offset="0.5859" stop-color="#dad9de"/><stop offset="1.0000" stop-color="#dbdadf"/></linearGradient><linearGradient id="g192" x2="0" y2="1"><stop offset="0.0000" stop-color="#e0dae0"/><stop offset="0.1860" stop-color="#e0dadf"/><stop offset="0.1878" stop-color="#ddd3d3"/><stop offset="0.1887" stop-color="#daccc6"/><stop offset="0.1905" stop-color="#d1b4a0"/><stop offset="0.1923" stop-color="#c89275"/><stop offset="0.1932" stop-color="#c37f65"/><stop offset="0.1941" stop-color="#bd6c5a"/><stop offset="0.1959" stop-color="#a94850"/><stop offset="0.1977" stop-color="#8c2b50"/><stop offset="0.1995" stop-color="#691a4d"/><stop offset="0.2013" stop-color="#491341"/><stop offset="0.2030" stop-color="#371139"/><stop offset="0.2057" stop-color="#2f1437"/><stop offset="0.2084" stop-color="#371144"/><stop offset="0.2093" stop-color="#47145f"/><stop offset="0.2102" stop-color="#562285"/><stop offset="0.2111" stop-color="#5d3ca0"/><stop offset="0.2120" stop-color="#5f57b0"/><stop offset="0.2129" stop-color="#6171b9"/><stop offset="0.2147" stop-color="#6c8ebf"/><stop offset="0.2165" stop-color="#82a7c3"/><stop offset="0.2182" stop-color="#a3beca"/><stop offset="0.2209" stop-color="#b3c6ce"/><stop offset="0.2272" stop-color="#d1d5da"/><stop offset="0.5134" stop-color="#d9d9de"/><stop offset="1.0000" stop-color="#dbdadf"/></linearGradient><linearGradient id="g193" x2="0" y2="1"><stop offset="0.0000" stop-color="#e0dae0"/><stop offset="0.1860" stop-color="#e0dae0"/><stop offset="0.1878" stop-color="#dfd6d8"/><stop offset="0.1887" stop-color="#ddd1cf"/><stop offset="0.1896" stop-color="#d9c8c0"/><stop offset="0.1914" stop-color="#cfad96"/><stop offset="0.1932" stop-color="#c68a6e"/><stop offset="0.1941" stop-color="#c1775f"/><stop offset="0.1950" stop-color="#b96456"/><stop offset="0.1968" stop-color="#a34150"/><stop offset="0.1986" stop-color="#852650"/><stop offset="0.2004" stop-color="#61184b"/><stop offset="0.2021" stop-color="#44123f"/><stop offset="0.2039" stop-color="#351138"/><stop offset="0.2057" stop-color="#2f1436"/><stop offset="0.2075" stop-color="#33113c"/><stop offset="0.2084" stop-color="#361141"/><stop offset="0.2093" stop-color="#3c114b"/><stop offset="0.2102" stop-color="#4e186f"/><stop offset="0.2111" stop-color="#5a2d92"/><stop offset="0.2120" stop-color="#5e47a7"/><stop offset="0.2129" stop-color="#5f62b4"/><stop offset="0.2138" stop-color="#6379bb"/><stop offset="0.2156" stop-color="#6f93c0"/><stop offset="0.2174" stop-color="#88acc4"/><stop offset="0.2191" stop-color="#a7c0cb"/><stop offset="0.2272" stop-color="#cfd4d9"/><stop offset="0.2352" stop-color="#d2d6da"/><stop offset="0.5304" stop-color="#dad9de"/><stop offset="1.0000" stop-color="#dbdadf"/></linearGradient><linearGradient id="g194" x2="0" y2="1"><stop offset="0.0000" stop-color="#e0dae0"/><stop offset="0.1869" stop-color="#e0dadf"/><stop offset="0.1887" stop-color="#ded4d5"/><stop offset="0.1896" stop-color="#dbcdc9"/><stop offset="0.1914" stop-color="#d1b6a3"/><stop offset="0.1932" stop-color="#c99578"/><stop offset="0.1941" stop-color="#c48267"/><stop offset="0.1950" stop-color="#be6f5b"/><stop offset="0.1968" stop-color="#ab4b50"/><stop offset="0.1986" stop-color="#8e2c50"/><stop offset="0.2004" stop-color="#6c1b4e"/><stop offset="0.2021" stop-color="#4b1342"/><stop offset="0.2039" stop-color="#381139"/><stop offset="0.2066" stop-color="#2f1436"/><stop offset="0.2093" stop-color="#371143"/><stop offset="0.2102" stop-color="#431359"/><stop offset="0.2111" stop-color="#551f7f"/><stop offset="0.2120" stop-color="#5c389c"/><stop offset="0.2129" stop-color="#5e52ad"/><stop offset="0.2138" stop-color="#606db8"/><stop offset="0.2156" stop-color="#6b8cbf"/><stop offset="0.2174" stop-color="#80a5c3"/><stop offset="0.2191" stop-color="#a0bcc9"/><stop offset="0.2200" stop-color="#aac1cc"/><stop offset="0.2281" stop-color="#d0d5da"/><stop offset="0.4902" stop-color="#dad9de"/><stop offset="1.0000" stop-color="#dbdadf"/></linearGradient><linearGradient id="g195" x2="0" y2="1"><stop offset="0.0000" stop-color="#e0dae0"/><stop offset="0.1869" stop-color="#e0dae0"/><stop offset="0.1887" stop-color="#dfd7d9"/><stop offset="0.1896" stop-color="#ddd2d0"/><stop offset="0.1905" stop-color="#d9c9c2"/><stop offset="0.1923" stop-color="#cfaf99"/><stop offset="0.1941" stop-color="#c78e71"/><stop offset="0.1950" stop-color="#c27a61"/><stop offset="0.1959" stop-color="#bb6857"/><stop offset="0.1977" stop-color="#a54450"/><stop offset="0.1995" stop-color="#882850"/><stop offset="0.2013" stop-color="#64194b"/><stop offset="0.2030" stop-color="#461240"/><stop offset="0.2048" stop-color="#361138"/><stop offset="0.2066" stop-color="#301436"/><stop offset="0.2084" stop-color="#32123b"/><stop offset="0.2102" stop-color="#391147"/><stop offset="0.2111" stop-color="#4c1669"/><stop offset="0.2120" stop-color="#59288d"/><stop offset="0.2129" stop-color="#5e43a5"/><stop offset="0.2138" stop-color="#5f5eb3"/><stop offset="0.2147" stop-color="#6277bb"/><stop offset="0.2165" stop-color="#6e91c0"/><stop offset="0.2182" stop-color="#86aac4"/><stop offset="0.2200" stop-color="#a7c0cb"/><stop offset="0.2290" stop-color="#d1d6da"/><stop offset="0.5125" stop-color="#dad9de"/><stop offset="1.0000" stop-color="#dbdadf"/></linearGradient><linearGradient id="g196" x2="0" y2="1"><stop offset="0.0000" stop-color="#e0dae0"/><stop offset="0.1878" stop-color="#e0dadf"/><stop offset="0.1896" stop-color="#ded5d6"/><stop offset="0.1905" stop-color="#dccecb"/><stop offset="0.1914" stop-color="#d8c5bb"/><stop offset="0.1932" stop-color="#cda990"/><stop offset="0.1950" stop-color="#c58569"/><stop offset="0.1959" stop-color="#bf725d"/><stop offset="0.1968" stop-color="#b75f55"/><stop offset="0.1986" stop-color="#a03d50"/><stop offset="0.2004" stop-color="#802350"/><stop offset="0.2021" stop-color="#5d1749"/><stop offset="0.2039" stop-color="#41123d"/><stop offset="0.2057" stop-color="#341238"/><stop offset="0.2075" stop-color="#2f1436"/><stop offset="0.2102" stop-color="#361142"/><stop offset="0.2111" stop-color="#411254"/><stop offset="0.2120" stop-color="#521c79"/><stop offset="0.2129" stop-color="#5c3499"/><stop offset="0.2138" stop-color="#5e4eab"/><stop offset="0.2147" stop-color="#6068b7"/><stop offset="0.2156" stop-color="#647cbc"/><stop offset="0.2174" stop-color="#7297c1"/><stop offset="0.2191" stop-color="#8cafc5"/><stop offset="0.2200" stop-color="#9dbac8"/><stop offset="0.2209" stop-color="#a9c1cb"/><stop offset="0.2290" stop-color="#d0d5da"/><stop offset="0.4812" stop-color="#dad9de"/><stop offset="1.0000" stop-color="#dbdadf"/></linearGradient><linearGradient id="g197" x2="0" y2="1"><stop offset="0.0000" stop-color="#e0dae0"/><stop offset="0.1878" stop-color="#e0dae0"/><stop offset="0.1896" stop-color="#dfd7da"/><stop offset="0.1905" stop-color="#ddd3d2"/><stop offset="0.1914" stop-color="#dacbc5"/><stop offset="0.1932" stop-color="#d0b29d"/><stop offset="0.1950" stop-color="#c89073"/><stop offset="0.1959" stop-color="#c37d63"/><stop offset="0.1968" stop-color="#bc6a59"/><stop offset="0.1986" stop-color="#a74650"/><stop offset="0.2004" stop-color="#8b2a50"/><stop offset="0.2021" stop-color="#67194c"/><stop offset="0.2039" stop-color="#481341"/><stop offset="0.2057" stop-color="#361139"/><stop offset="0.2084" stop-color="#2f1437"/><stop offset="0.2111" stop-color="#381144"/><stop offset="0.2120" stop-color="#481563"/><stop offset="0.2129" stop-color="#572588"/><stop offset="0.2138" stop-color="#5d3fa2"/><stop offset="0.2147" stop-color="#5f59b1"/><stop offset="0.2156" stop-color="#6173ba"/><stop offset="0.2174" stop-color="#6c8fbf"/><stop offset="0.2191" stop-color="#84a8c4"/><stop offset="0.2209" stop-color="#a5bfca"/><stop offset="0.2290" stop-color="#ced4d9"/><stop offset="0.2308" stop-color="#d2d6da"/><stop offset="0.5018" stop-color="#dad9de"/><stop offset="1.0000" stop-color="#dbdadf"/></linearGradient><linearGradient id="g198" x2="0" y2="1"><stop offset="0.0000" stop-color="#e0dae0"/><stop offset="0.1887" stop-color="#e0dae0"/><stop offset="0.1905" stop-color="#ded6d7"/><stop offset="0.1914" stop-color="#dcd0ce"/><stop offset="0.1932" stop-color="#d3baaa"/><stop offset="0.1950" stop-color="#ca9b7f"/><stop offset="0.1959" stop-color="#c6896c"/><stop offset="0.1968" stop-color="#c0755e"/><stop offset="0.1977" stop-color="#b96356"/><stop offset="0.1995" stop-color="#a24050"/><stop offset="0.2013" stop-color="#832550"/><stop offset="0.2030" stop-color="#60184a"/><stop offset="0.2048" stop-color="#43123e"/><stop offset="0.2066" stop-color="#341238"/><stop offset="0.2084" stop-color="#2f1436"/><stop offset="0.2111" stop-color="#361141"/><stop offset="0.2120" stop-color="#3d114e"/><stop offset="0.2129" stop-color="#501a74"/><stop offset="0.2138" stop-color="#5b2f94"/><stop offset="0.2147" stop-color="#5e49a9"/><stop offset="0.2156" stop-color="#5f65b5"/><stop offset="0.2165" stop-color="#637abb"/><stop offset="0.2182" stop-color="#7195c0"/><stop offset="0.2200" stop-color="#89adc5"/><stop offset="0.2218" stop-color="#a8c1cb"/><stop offset="0.2299" stop-color="#cfd4d9"/><stop offset="0.2370" stop-color="#d2d6da"/><stop offset="0.5045" stop-color="#dad9de"/><stop offset="1.0000" stop-color="#dbdadf"/></linearGradient><linearGradient id="g199" x2="0" y2="1"><stop offset="0.0000" stop-color="#e0dae0"/><stop offset="0.1896" stop-color="#e0dadf"/><stop offset="0.1914" stop-color="#ded4d4"/><stop offset="0.1923" stop-color="#dbccc8"/><stop offset="0.1932" stop-color="#d6c2b6"/><stop offset="0.1959" stop-color="#c89376"/><stop offset="0.1968" stop-color="#c48066"/><stop offset="0.1977" stop-color="#bd6e5a"/><stop offset="0.1995" stop-color="#a94950"/><stop offset="0.2013" stop-color="#8d2b50"/><stop offset="0.2030" stop-color="#6a1a4d"/><stop offset="0.2048" stop-color="#4a1342"/><stop offset="0.2066" stop-color="#371139"/><stop offset="0.2093" stop-color="#2f1437"/><stop offset="0.2120" stop-color="#371144"/><stop offset="0.2129" stop-color="#46145d"/><stop offset="0.2138" stop-color="#562182"/><stop offset="0.2147" stop-color="#5d3b9f"/><stop offset="0.2156" stop-color="#5f55af"/><stop offset="0.2165" stop-color="#616fb9"/><stop offset="0.2182" stop-color="#6b8dbf"/><stop offset="0.2200" stop-color="#81a6c3"/><stop offset="0.2218" stop-color="#a2bdca"/><stop offset="0.2236" stop-color="#afc4cd"/><stop offset="0.2308" stop-color="#d1d5da"/><stop offset="0.4928" stop-color="#dad9de"/><stop offset="1.0000" stop-color="#dbdadf"/></linearGradient><linearGradient id="g200" x2="0" y2="1"><stop offset="0.0000" stop-color="#e0dae0"/><stop offset="0.1896" stop-color="#e0dae0"/><stop offset="0.1914" stop-color="#dfd7d8"/><stop offset="0.1923" stop-color="#dcd1cf"/><stop offset="0.1941" stop-color="#d4bdad"/><stop offset="0.1968" stop-color="#c68b6e"/><stop offset="0.1977" stop-color="#c17960"/><stop offset="0.1986" stop-color="#ba6557"/><stop offset="0.2004" stop-color="#a44250"/><stop offset="0.2021" stop-color="#862750"/><stop offset="0.2039" stop-color="#63184b"/><stop offset="0.2057" stop-color="#45123f"/><stop offset="0.2075" stop-color="#351138"/><stop offset="0.2093" stop-color="#2f1436"/><stop offset="0.2111" stop-color="#33123c"/><stop offset="0.2120" stop-color="#351140"/><stop offset="0.2129" stop-color="#3b114a"/><stop offset="0.2138" stop-color="#4d176d"/><stop offset="0.2147" stop-color="#5a2b90"/><stop offset="0.2156" stop-color="#5e46a6"/><stop offset="0.2165" stop-color="#5f60b4"/><stop offset="0.2174" stop-color="#6278bb"/><stop offset="0.2191" stop-color="#6f93c0"/><stop offset="0.2209" stop-color="#87abc4"/><stop offset="0.2227" stop-color="#a7c0cb"/><stop offset="0.2308" stop-color="#cfd4d9"/><stop offset="0.2397" stop-color="#d2d6da"/><stop offset="0.5134" stop-color="#dad9de"/><stop offset="1.0000" stop-color="#dcdadf"/></linearGradient><linearGradient id="g201" x2="0" y2="1"><stop offset="0.0000" stop-color="#e0dae0"/><stop offset="0.1905" stop-color="#e0dadf"/><stop offset="0.1923" stop-color="#ded5d5"/><stop offset="0.1932" stop-color="#dbcdc9"/><stop offset="0.1941" stop-color="#d7c4b9"/><stop offset="0.1959" stop-color="#cda78e"/><stop offset="0.1977" stop-color="#c58468"/><stop offset="0.1986" stop-color="#be705b"/><stop offset="0.2004" stop-color="#ab4c50"/><stop offset="0.2021" stop-color="#8f2d50"/><stop offset="0.2039" stop-color="#6d1b4e"/><stop offset="0.2057" stop-color="#4c1343"/><stop offset="0.2066" stop-color="#40123d"/><stop offset="0.2084" stop-color="#341238"/><stop offset="0.2102" stop-color="#2f1436"/><stop offset="0.2129" stop-color="#371143"/><stop offset="0.2138" stop-color="#421257"/><stop offset="0.2147" stop-color="#541e7d"/><stop offset="0.2156" stop-color="#5c369b"/><stop offset="0.2165" stop-color="#5e51ad"/><stop offset="0.2174" stop-color="#606bb8"/><stop offset="0.2182" stop-color="#647ebc"/><stop offset="0.2200" stop-color="#7398c1"/><stop offset="0.2218" stop-color="#8eb0c5"/><stop offset="0.2227" stop-color="#9fbbc9"/><stop offset="0.2236" stop-color="#a9c1cb"/><stop offset="0.2317" stop-color="#d0d5da"/><stop offset="0.4794" stop-color="#dad9de"/><stop offset="1.0000" stop-color="#dcdadf"/></linearGradient><linearGradient id="g202" x2="0" y2="1"><stop offset="0.0000" stop-color="#e0dae0"/><stop offset="0.1905" stop-color="#e0dae0"/><stop offset="0.1923" stop-color="#dfd7d9"/><stop offset="0.1932" stop-color="#ddd2d1"/><stop offset="0.1941" stop-color="#dacac3"/><stop offset="0.1959" stop-color="#d0b09b"/><stop offset="0.1977" stop-color="#c78e72"/><stop offset="0.1986" stop-color="#c27b62"/><stop offset="0.1995" stop-color="#bb6958"/><stop offset="0.2013" stop-color="#a64550"/><stop offset="0.2030" stop-color="#882850"/><stop offset="0.2048" stop-color="#65194c"/><stop offset="0.2066" stop-color="#471340"/><stop offset="0.2084" stop-color="#361138"/><stop offset="0.2111" stop-color="#301437"/><stop offset="0.2138" stop-color="#381145"/><stop offset="0.2147" stop-color="#4b1667"/><stop offset="0.2156" stop-color="#58278b"/><stop offset="0.2165" stop-color="#5d42a4"/><stop offset="0.2174" stop-color="#5f5cb2"/><stop offset="0.2182" stop-color="#6276ba"/><stop offset="0.2200" stop-color="#6e91c0"/><stop offset="0.2218" stop-color="#85a9c4"/><stop offset="0.2236" stop-color="#a7c0cb"/><stop offset="0.2326" stop-color="#d1d6da"/><stop offset="0.5045" stop-color="#dad9de"/><stop offset="1.0000" stop-color="#dcdadf"/></linearGradient><linearGradient id="g203" x2="0" y2="1"><stop offset="0.0000" stop-color="#e0dae0"/><stop offset="0.1914" stop-color="#e0dadf"/><stop offset="0.1932" stop-color="#ded6d6"/><stop offset="0.1941" stop-color="#dccfcc"/><stop offset="0.1959" stop-color="#d2b9a7"/><stop offset="0.1977" stop-color="#ca997c"/><stop offset="0.1986" stop-color="#c5866a"/><stop offset="0.1995" stop-color="#c0745d"/><stop offset="0.2004" stop-color="#b86155"/><stop offset="0.2021" stop-color="#a03e50"/><stop offset="0.2039" stop-color="#812450"/><stop offset="0.2057" stop-color="#5e174a"/><stop offset="0.2075" stop-color="#42123e"/><stop offset="0.2093" stop-color="#341238"/><stop offset="0.2111" stop-color="#2f1436"/><stop offset="0.2138" stop-color="#361142"/><stop offset="0.2147" stop-color="#401252"/><stop offset="0.2156" stop-color="#511b77"/><stop offset="0.2165" stop-color="#5b3297"/><stop offset="0.2174" stop-color="#5e4dab"/><stop offset="0.2182" stop-color="#6067b6"/><stop offset="0.2191" stop-color="#637bbc"/><stop offset="0.2209" stop-color="#7196c1"/><stop offset="0.2227" stop-color="#8baec5"/><stop offset="0.2245" stop-color="#a9c1cb"/><stop offset="0.2326" stop-color="#d0d5d9"/><stop offset="0.3596" stop-color="#d7d8dd"/><stop offset="0.6288" stop-color="#dbdadf"/><stop offset="1.0000" stop-color="#dcdadf"/></linearGradient><linearGradient id="g204" x2="0" y2="1"><stop offset="0.0000" stop-color="#e0dae0"/><stop offset="0.1914" stop-color="#e0dae0"/><stop offset="0.1932" stop-color="#dfd8da"/><stop offset="0.1941" stop-color="#ddd3d3"/><stop offset="0.1950" stop-color="#dacbc6"/><stop offset="0.1968" stop-color="#d0b39e"/><stop offset="0.1986" stop-color="#c89174"/><stop offset="0.1995" stop-color="#c37f64"/><stop offset="0.2004" stop-color="#bc6b59"/><stop offset="0.2021" stop-color="#a84750"/><stop offset="0.2039" stop-color="#8b2a50"/><stop offset="0.2057" stop-color="#681a4d"/><stop offset="0.2075" stop-color="#491341"/><stop offset="0.2093" stop-color="#371139"/><stop offset="0.2111" stop-color="#301437"/><stop offset="0.2129" stop-color="#32123a"/><stop offset="0.2147" stop-color="#371144"/><stop offset="0.2156" stop-color="#471461"/><stop offset="0.2165" stop-color="#572486"/><stop offset="0.2174" stop-color="#5d3da1"/><stop offset="0.2182" stop-color="#5f58b0"/><stop offset="0.2191" stop-color="#6172b9"/><stop offset="0.2209" stop-color="#6c8fbf"/><stop offset="0.2227" stop-color="#82a7c3"/><stop offset="0.2245" stop-color="#a4beca"/><stop offset="0.2326" stop-color="#ced4d9"/><stop offset="0.2343" stop-color="#d2d6da"/><stop offset="0.4973" stop-color="#dadade"/><stop offset="1.0000" stop-color="#dcdadf"/></linearGradient><linearGradient id="g205" x2="0" y2="1"><stop offset="0.0000" stop-color="#e0dae0"/><stop offset="0.1923" stop-color="#e0dae0"/><stop offset="0.1941" stop-color="#dfd6d8"/><stop offset="0.1950" stop-color="#dcd0ce"/><stop offset="0.1959" stop-color="#d8c7be"/><stop offset="0.1977" stop-color="#ceac95"/><stop offset="0.1995" stop-color="#c68a6d"/><stop offset="0.2004" stop-color="#c1765f"/><stop offset="0.2013" stop-color="#b96356"/><stop offset="0.2030" stop-color="#a34050"/><stop offset="0.2048" stop-color="#842550"/><stop offset="0.2066" stop-color="#61184a"/><stop offset="0.2084" stop-color="#44123f"/><stop offset="0.2102" stop-color="#351138"/><stop offset="0.2120" stop-color="#2f1436"/><stop offset="0.2147" stop-color="#361141"/><stop offset="0.2156" stop-color="#3d114d"/><stop offset="0.2165" stop-color="#4f1971"/><stop offset="0.2174" stop-color="#5a2e93"/><stop offset="0.2182" stop-color="#5e48a8"/><stop offset="0.2191" stop-color="#5f63b5"/><stop offset="0.2200" stop-color="#6379bb"/><stop offset="0.2218" stop-color="#7094c0"/><stop offset="0.2236" stop-color="#89acc5"/><stop offset="0.2254" stop-color="#a8c0cb"/><stop offset="0.2335" stop-color="#cfd4d9"/><stop offset="0.2415" stop-color="#d2d6da"/><stop offset="0.4973" stop-color="#dadade"/><stop offset="1.0000" stop-color="#dcdadf"/></linearGradient><linearGradient id="g206" x2="0" y2="1"><stop offset="0.0000" stop-color="#e0dae0"/><stop offset="0.1932" stop-color="#e0dadf"/><stop offset="0.1950" stop-color="#ded4d4"/><stop offset="0.1959" stop-color="#dbcdc8"/><stop offset="0.1977" stop-color="#d1b5a1"/><stop offset="0.1995" stop-color="#c99477"/><stop offset="0.2004" stop-color="#c48166"/><stop offset="0.2013" stop-color="#be6f5b"/><stop offset="0.2030" stop-color="#aa4a50"/><stop offset="0.2048" stop-color="#8e2c50"/><stop offset="0.2066" stop-color="#6b1b4d"/><stop offset="0.2084" stop-color="#4b1342"/><stop offset="0.2093" stop-color="#3f123d"/><stop offset="0.2111" stop-color="#331237"/><stop offset="0.2129" stop-color="#2f1437"/><stop offset="0.2156" stop-color="#371143"/><stop offset="0.2165" stop-color="#44135b"/><stop offset="0.2174" stop-color="#552081"/><stop offset="0.2182" stop-color="#5c399d"/><stop offset="0.2191" stop-color="#5e54ae"/><stop offset="0.2200" stop-color="#606eb8"/><stop offset="0.2209" stop-color="#657fbd"/><stop offset="0.2227" stop-color="#7499c1"/><stop offset="0.2245" stop-color="#8fb1c6"/><stop offset="0.2254" stop-color="#a1bdc9"/><stop offset="0.2263" stop-color="#aac2cc"/><stop offset="0.2343" stop-color="#d1d5da"/><stop offset="0.4741" stop-color="#dadade"/><stop offset="1.0000" stop-color="#dcdadf"/></linearGradient><linearGradient id="g207" x2="0" y2="1"><stop offset="0.0000" stop-color="#e0dae0"/><stop offset="0.1932" stop-color="#e0dae0"/><stop offset="0.1950" stop-color="#dfd7d9"/><stop offset="0.1959" stop-color="#ddd2d0"/><stop offset="0.1968" stop-color="#d9c9c2"/><stop offset="0.1986" stop-color="#cfaf99"/><stop offset="0.2004" stop-color="#c78c6f"/><stop offset="0.2013" stop-color="#c27a61"/><stop offset="0.2021" stop-color="#ba6657"/><stop offset="0.2039" stop-color="#a54350"/><stop offset="0.2057" stop-color="#872750"/><stop offset="0.2075" stop-color="#63194b"/><stop offset="0.2093" stop-color="#461240"/><stop offset="0.2111" stop-color="#361138"/><stop offset="0.2129" stop-color="#301436"/><stop offset="0.2147" stop-color="#32123b"/><stop offset="0.2165" stop-color="#3a1148"/><stop offset="0.2174" stop-color="#4c176b"/><stop offset="0.2182" stop-color="#592a8e"/><stop offset="0.2191" stop-color="#5e44a5"/><stop offset="0.2200" stop-color="#5f5fb3"/><stop offset="0.2209" stop-color="#6277bb"/><stop offset="0.2227" stop-color="#6e92c0"/><stop offset="0.2245" stop-color="#86abc4"/><stop offset="0.2263" stop-color="#a7c0cb"/><stop offset="0.2343" stop-color="#cfd4d9"/><stop offset="0.2379" stop-color="#d2d6da"/><stop offset="0.4973" stop-color="#dbdadf"/><stop offset="1.0000" stop-color="#dcdadf"/></linearGradient><linearGradient id="g208" x2="0" y2="1"><stop offset="0.0000" stop-color="#e0dae0"/><stop offset="0.1941" stop-color="#e0dadf"/><stop offset="0.1959" stop-color="#ded5d6"/><stop offset="0.1968" stop-color="#dccecb"/><stop offset="0.1986" stop-color="#d2b7a5"/><stop offset="0.2004" stop-color="#c9977b"/><stop offset="0.2013" stop-color="#c58569"/><stop offset="0.2021" stop-color="#bf715c"/><stop offset="0.2030" stop-color="#b65e54"/><stop offset="0.2048" stop-color="#9f3c50"/><stop offset="0.2066" stop-color="#802350"/><stop offset="0.2084" stop-color="#5c1749"/><stop offset="0.2102" stop-color="#41123d"/><stop offset="0.2120" stop-color="#341238"/><stop offset="0.2138" stop-color="#2f1436"/><stop offset="0.2165" stop-color="#361142"/><stop offset="0.2174" stop-color="#411256"/><stop offset="0.2182" stop-color="#531d7b"/><stop offset="0.2191" stop-color="#5c359a"/><stop offset="0.2200" stop-color="#5e4fac"/><stop offset="0.2209" stop-color="#606ab7"/><stop offset="0.2218" stop-color="#647dbc"/><stop offset="0.2236" stop-color="#7297c1"/><stop offset="0.2254" stop-color="#8db0c5"/><stop offset="0.2263" stop-color="#9ebbc9"/><stop offset="0.2272" stop-color="#a9c1cb"/><stop offset="0.2352" stop-color="#d0d5da"/><stop offset="0.4705" stop-color="#dbdadf"/><stop offset="1.0000" stop-color="#dcdadf"/></linearGradient><linearGradient id="g209" x2="0" y2="1"><stop offset="0.0000" stop-color="#e0dae0"/><stop offset="0.1941" stop-color="#e0dae0"/><stop offset="0.1959" stop-color="#dfd7da"/><stop offset="0.1968" stop-color="#ddd2d1"/><stop offset="0.1977" stop-color="#dacac3"/><stop offset="0.1995" stop-color="#d0b09b"/><stop offset="0.2013" stop-color="#c78f72"/><stop offset="0.2021" stop-color="#c27c62"/><stop offset="0.2030" stop-color="#bb6958"/><stop offset="0.2048" stop-color="#a64550"/><stop offset="0.2066" stop-color="#892850"/><stop offset="0.2084" stop-color="#65194c"/><stop offset="0.2102" stop-color="#471340"/><stop offset="0.2120" stop-color="#361138"/><stop offset="0.2147" stop-color="#2f1437"/><stop offset="0.2174" stop-color="#381145"/><stop offset="0.2182" stop-color="#4a1666"/><stop offset="0.2191" stop-color="#58278b"/><stop offset="0.2200" stop-color="#5d41a3"/><stop offset="0.2209" stop-color="#5f5cb2"/><stop offset="0.2218" stop-color="#6276ba"/><stop offset="0.2236" stop-color="#6d90c0"/><stop offset="0.2254" stop-color="#85a9c4"/><stop offset="0.2272" stop-color="#a7c0cb"/><stop offset="0.2361" stop-color="#d1d6da"/><stop offset="0.5000" stop-color="#dbdadf"/><stop offset="1.0000" stop-color="#dcdadf"/></linearGradient><linearGradient id="g210" x2="0" y2="1"><stop offset="0.0000" stop-color="#e0dae0"/><stop offset="0.1941" stop-color="#e0dae0"/><stop offset="0.1959" stop-color="#dfd7da"/><stop offset="0.1968" stop-color="#ddd2d1"/><stop offset="0.1977" stop-color="#dacac3"/><stop offset="0.1995" stop-color="#d0b09b"/><stop offset="0.2013" stop-color="#c78f72"/><stop offset="0.2021" stop-color="#c27c62"/><stop offset="0.2030" stop-color="#bb6958"/><stop offset="0.2048" stop-color="#a64550"/><stop offset="0.2066" stop-color="#892850"/><stop offset="0.2084" stop-color="#65194c"/><stop offset="0.2102" stop-color="#471340"/><stop offset="0.2120" stop-color="#361138"/><stop offset="0.2147" stop-color="#2f1437"/><stop offset="0.2174" stop-color="#381145"/><stop offset="0.2182" stop-color="#4a1666"/><stop offset="0.2191" stop-color="#58278b"/><stop offset="0.2200" stop-color="#5d41a3"/><stop offset="0.2209" stop-color="#5f5cb2"/><stop offset="0.2218" stop-color="#6276ba"/><stop offset="0.2236" stop-color="#6d90c0"/><stop offset="0.2254" stop-color="#85a9c4"/><stop offset="0.2272" stop-color="#a7c0cb"/><stop offset="0.2361" stop-color="#d1d6da"/><stop offset="0.4964" stop-color="#dbdadf"/><stop offset="1.0000" stop-color="#dcdadf"/></linearGradient><linearGradient id="g211" x2="0" y2="1"><stop offset="0.0000" stop-color="#e0dae0"/><stop offset="0.1941" stop-color="#e0dae0"/><stop offset="0.1959" stop-color="#dfd7da"/><stop offset="0.1968" stop-color="#ddd2d1"/><stop offset="0.1977" stop-color="#dacac3"/><stop offset="0.1995" stop-color="#d0b09b"/><stop offset="0.2013" stop-color="#c78f72"/><stop offset="0.2021" stop-color="#c27c62"/><stop offset="0.2030" stop-color="#bb6958"/><stop offset="0.2048" stop-color="#a64550"/><stop offset="0.2066" stop-color="#892850"/><stop offset="0.2084" stop-color="#65194c"/><stop offset="0.2102" stop-color="#471340"/><stop offset="0.2120" stop-color="#361138"/><stop offset="0.2147" stop-color="#2f1437"/><stop offset="0.2174" stop-color="#381145"/><stop offset="0.2182" stop-color="#4a1666"/><stop offset="0.2191" stop-color="#58278b"/><stop offset="0.2200" stop-color="#5d41a3"/><stop offset="0.2209" stop-color="#5f5cb2"/><stop offset="0.2218" stop-color="#6276ba"/><stop offset="0.2236" stop-color="#6d90c0"/><stop offset="0.2254" stop-color="#85a9c4"/><stop offset="0.2272" stop-color="#a7c0cb"/><stop offset="0.2361" stop-color="#d1d6da"/><stop offset="0.4928" stop-color="#dbdadf"/><stop offset="1.0000" stop-color="#dcdadf"/></linearGradient><filter id="hb" x="-2%" y="-2%" width="104%" height="104%" color-interpolation-filters="sRGB"><feGaussianBlur stdDeviation="2.2 0.9"/></filter><clipPath id="hc"><rect x="149.5" y="135.0" width="828.2" height="538.7"/></clipPath></defs><g clip-path="url(#hc)"><g filter="url(#hb)" shape-rendering="crispEdges"><rect x="140" y="125" width="5" height="559" fill="url(#g0)"/><rect x="144" y="125" width="5" height="559" fill="url(#g1)"/><rect x="148" y="125" width="5" height="559" fill="url(#g2)"/><rect x="152" y="125" width="5" height="559" fill="url(#g3)"/><rect x="156" y="125" width="5" height="559" fill="url(#g4)"/><rect x="160" y="125" width="5" height="559" fill="url(#g5)"/><rect x="164" y="125" width="5" height="559" fill="url(#g6)"/><rect x="168" y="125" width="5" height="559" fill="url(#g7)"/><rect x="172" y="125" width="5" height="559" fill="url(#g8)"/><rect x="176" y="125" width="5" height="559" fill="url(#g9)"/><rect x="180" y="125" width="5" height="559" fill="url(#g10)"/><rect x="184" y="125" width="5" height="559" fill="url(#g11)"/><rect x="188" y="125" width="5" height="559" fill="url(#g12)"/><rect x="192" y="125" width="5" height="559" fill="url(#g13)"/><rect x="196" y="125" width="5" height="559" fill="url(#g14)"/><rect x="200" y="125" width="5" height="559" fill="url(#g15)"/><rect x="204" y="125" width="5" height="559" fill="url(#g16)"/><rect x="208" y="125" width="5" height="559" fill="url(#g17)"/><rect x="212" y="125" width="5" height="559" fill="url(#g18)"/><rect x="216" y="125" width="5" height="559" fill="url(#g19)"/><rect x="220" y="125" width="5" height="559" fill="url(#g20)"/><rect x="224" y="125" width="5" height="559" fill="url(#g21)"/><rect x="228" y="125" width="5" height="559" fill="url(#g22)"/><rect x="232" y="125" width="5" height="559" fill="url(#g23)"/><rect x="236" y="125" width="5" height="559" fill="url(#g24)"/><rect x="240" y="125" width="5" height="559" fill="url(#g25)"/><rect x="244" y="125" width="5" height="559" fill="url(#g26)"/><rect x="248" y="125" width="5" height="559" fill="url(#g27)"/><rect x="252" y="125" width="5" height="559" fill="url(#g28)"/><rect x="256" y="125" width="5" height="559" fill="url(#g29)"/><rect x="260" y="125" width="5" height="559" fill="url(#g30)"/><rect x="264" y="125" width="5" height="559" fill="url(#g31)"/><rect x="268" y="125" width="5" height="559" fill="url(#g32)"/><rect x="272" y="125" width="5" height="559" fill="url(#g33)"/><rect x="276" y="125" width="5" height="559" fill="url(#g34)"/><rect x="280" y="125" width="5" height="559" fill="url(#g35)"/><rect x="284" y="125" width="5" height="559" fill="url(#g36)"/><rect x="288" y="125" width="5" height="559" fill="url(#g37)"/><rect x="292" y="125" width="5" height="559" fill="url(#g38)"/><rect x="296" y="125" width="5" height="559" fill="url(#g39)"/><rect x="300" y="125" width="5" height="559" fill="url(#g40)"/><rect x="304" y="125" width="5" height="559" fill="url(#g41)"/><rect x="308" y="125" width="5" height="559" fill="url(#g42)"/><rect x="312" y="125" width="5" height="559" fill="url(#g43)"/><rect x="316" y="125" width="5" height="559" fill="url(#g44)"/><rect x="320" y="125" width="5" height="559" fill="url(#g45)"/><rect x="324" y="125" width="5" height="559" fill="url(#g46)"/><rect x="328" y="125" width="5" height="559" fill="url(#g47)"/><rect x="332" y="125" width="5" height="559" fill="url(#g48)"/><rect x="336" y="125" width="5" height="559" fill="url(#g49)"/><rect x="340" y="125" width="5" height="559" fill="url(#g50)"/><rect x="344" y="125" width="5" height="559" fill="url(#g51)"/><rect x="348" y="125" width="5" height="559" fill="url(#g52)"/><rect x="352" y="125" width="5" height="559" fill="url(#g53)"/><rect x="356" y="125" width="5" height="559" fill="url(#g54)"/><rect x="360" y="125" width="5" height="559" fill="url(#g55)"/><rect x="364" y="125" width="5" height="559" fill="url(#g56)"/><rect x="368" y="125" width="5" height="559" fill="url(#g57)"/><rect x="372" y="125" width="5" height="559" fill="url(#g58)"/><rect x="376" y="125" width="5" height="559" fill="url(#g59)"/><rect x="380" y="125" width="5" height="559" fill="url(#g60)"/><rect x="384" y="125" width="5" height="559" fill="url(#g61)"/><rect x="388" y="125" width="5" height="559" fill="url(#g62)"/><rect x="392" y="125" width="5" height="559" fill="url(#g63)"/><rect x="396" y="125" width="5" height="559" fill="url(#g64)"/><rect x="400" y="125" width="5" height="559" fill="url(#g65)"/><rect x="404" y="125" width="5" height="559" fill="url(#g66)"/><rect x="408" y="125" width="5" height="559" fill="url(#g67)"/><rect x="412" y="125" width="5" height="559" fill="url(#g68)"/><rect x="416" y="125" width="5" height="559" fill="url(#g69)"/><rect x="420" y="125" width="5" height="559" fill="url(#g70)"/><rect x="424" y="125" width="5" height="559" fill="url(#g71)"/><rect x="428" y="125" width="5" height="559" fill="url(#g72)"/><rect x="432" y="125" width="5" height="559" fill="url(#g73)"/><rect x="436" y="125" width="5" height="559" fill="url(#g74)"/><rect x="440" y="125" width="5" height="559" fill="url(#g75)"/><rect x="444" y="125" width="5" height="559" fill="url(#g76)"/><rect x="448" y="125" width="5" height="559" fill="url(#g77)"/><rect x="452" y="125" width="5" height="559" fill="url(#g78)"/><rect x="456" y="125" width="5" height="559" fill="url(#g79)"/><rect x="460" y="125" width="5" height="559" fill="url(#g80)"/><rect x="464" y="125" width="5" height="559" fill="url(#g81)"/><rect x="468" y="125" width="5" height="559" fill="url(#g82)"/><rect x="472" y="125" width="5" height="559" fill="url(#g83)"/><rect x="476" y="125" width="5" height="559" fill="url(#g84)"/><rect x="480" y="125" width="5" height="559" fill="url(#g85)"/><rect x="484" y="125" width="5" height="559" fill="url(#g86)"/><rect x="488" y="125" width="5" height="559" fill="url(#g87)"/><rect x="492" y="125" width="5" height="559" fill="url(#g88)"/><rect x="496" y="125" width="5" height="559" fill="url(#g89)"/><rect x="500" y="125" width="5" height="559" fill="url(#g90)"/><rect x="504" y="125" width="5" height="559" fill="url(#g91)"/><rect x="508" y="125" width="5" height="559" fill="url(#g92)"/><rect x="512" y="125" width="5" height="559" fill="url(#g93)"/><rect x="516" y="125" width="5" height="559" fill="url(#g94)"/><rect x="520" y="125" width="5" height="559" fill="url(#g95)"/><rect x="524" y="125" width="5" height="559" fill="url(#g96)"/><rect x="528" y="125" width="5" height="559" fill="url(#g97)"/><rect x="532" y="125" width="5" height="559" fill="url(#g98)"/><rect x="536" y="125" width="5" height="559" fill="url(#g99)"/><rect x="540" y="125" width="5" height="559" fill="url(#g100)"/><rect x="544" y="125" width="5" height="559" fill="url(#g101)"/><rect x="548" y="125" width="5" height="559" fill="url(#g102)"/><rect x="552" y="125" width="5" height="559" fill="url(#g103)"/><rect x="556" y="125" width="5" height="559" fill="url(#g104)"/><rect x="560" y="125" width="5" height="559" fill="url(#g105)"/><rect x="564" y="125" width="5" height="559" fill="url(#g106)"/><rect x="568" y="125" width="5" height="559" fill="url(#g107)"/><rect x="572" y="125" width="5" height="559" fill="url(#g108)"/><rect x="576" y="125" width="5" height="559" fill="url(#g109)"/><rect x="580" y="125" width="5" height="559" fill="url(#g110)"/><rect x="584" y="125" width="5" height="559" fill="url(#g111)"/><rect x="588" y="125" width="5" height="559" fill="url(#g112)"/><rect x="592" y="125" width="5" height="559" fill="url(#g113)"/><rect x="596" y="125" width="5" height="559" fill="url(#g114)"/><rect x="600" y="125" width="5" height="559" fill="url(#g115)"/><rect x="604" y="125" width="5" height="559" fill="url(#g116)"/><rect x="608" y="125" width="5" height="559" fill="url(#g117)"/><rect x="612" y="125" width="5" height="559" fill="url(#g118)"/><rect x="616" y="125" width="5" height="559" fill="url(#g119)"/><rect x="620" y="125" width="5" height="559" fill="url(#g120)"/><rect x="624" y="125" width="5" height="559" fill="url(#g121)"/><rect x="628" y="125" width="5" height="559" fill="url(#g122)"/><rect x="632" y="125" width="5" height="559" fill="url(#g123)"/><rect x="636" y="125" width="5" height="559" fill="url(#g124)"/><rect x="640" y="125" width="5" height="559" fill="url(#g125)"/><rect x="644" y="125" width="5" height="559" fill="url(#g126)"/><rect x="648" y="125" width="5" height="559" fill="url(#g127)"/><rect x="652" y="125" width="5" height="559" fill="url(#g128)"/><rect x="656" y="125" width="5" height="559" fill="url(#g129)"/><rect x="660" y="125" width="5" height="559" fill="url(#g130)"/><rect x="664" y="125" width="5" height="559" fill="url(#g131)"/><rect x="668" y="125" width="5" height="559" fill="url(#g132)"/><rect x="672" y="125" width="5" height="559" fill="url(#g133)"/><rect x="676" y="125" width="5" height="559" fill="url(#g134)"/><rect x="680" y="125" width="5" height="559" fill="url(#g135)"/><rect x="684" y="125" width="5" height="559" fill="url(#g136)"/><rect x="688" y="125" width="5" height="559" fill="url(#g137)"/><rect x="692" y="125" width="5" height="559" fill="url(#g138)"/><rect x="696" y="125" width="5" height="559" fill="url(#g139)"/><rect x="700" y="125" width="5" height="559" fill="url(#g140)"/><rect x="704" y="125" width="5" height="559" fill="url(#g141)"/><rect x="708" y="125" width="5" height="559" fill="url(#g142)"/><rect x="712" y="125" width="5" height="559" fill="url(#g143)"/><rect x="716" y="125" width="5" height="559" fill="url(#g144)"/><rect x="720" y="125" width="5" height="559" fill="url(#g145)"/><rect x="724" y="125" width="5" height="559" fill="url(#g146)"/><rect x="728" y="125" width="5" height="559" fill="url(#g147)"/><rect x="732" y="125" width="5" height="559" fill="url(#g148)"/><rect x="736" y="125" width="5" height="559" fill="url(#g149)"/><rect x="740" y="125" width="5" height="559" fill="url(#g150)"/><rect x="744" y="125" width="5" height="559" fill="url(#g151)"/><rect x="748" y="125" width="5" height="559" fill="url(#g152)"/><rect x="752" y="125" width="5" height="559" fill="url(#g153)"/><rect x="756" y="125" width="5" height="559" fill="url(#g154)"/><rect x="760" y="125" width="5" height="559" fill="url(#g155)"/><rect x="764" y="125" width="5" height="559" fill="url(#g156)"/><rect x="768" y="125" width="5" height="559" fill="url(#g157)"/><rect x="772" y="125" width="5" height="559" fill="url(#g158)"/><rect x="776" y="125" width="5" height="559" fill="url(#g159)"/><rect x="780" y="125" width="5" height="559" fill="url(#g160)"/><rect x="784" y="125" width="5" height="559" fill="url(#g161)"/><rect x="788" y="125" width="5" height="559" fill="url(#g162)"/><rect x="792" y="125" width="5" height="559" fill="url(#g163)"/><rect x="796" y="125" width="5" height="559" fill="url(#g164)"/><rect x="800" y="125" width="5" height="559" fill="url(#g165)"/><rect x="804" y="125" width="5" height="559" fill="url(#g166)"/><rect x="808" y="125" width="5" height="559" fill="url(#g167)"/><rect x="812" y="125" width="5" height="559" fill="url(#g168)"/><rect x="816" y="125" width="5" height="559" fill="url(#g169)"/><rect x="820" y="125" width="5" height="559" fill="url(#g170)"/><rect x="824" y="125" width="5" height="559" fill="url(#g171)"/><rect x="828" y="125" width="5" height="559" fill="url(#g172)"/><rect x="832" y="125" width="5" height="559" fill="url(#g173)"/><rect x="836" y="125" width="5" height="559" fill="url(#g174)"/><rect x="840" y="125" width="5" height="559" fill="url(#g175)"/><rect x="844" y="125" width="5" height="559" fill="url(#g176)"/><rect x="848" y="125" width="5" height="559" fill="url(#g177)"/><rect x="852" y="125" width="5" height="559" fill="url(#g178)"/><rect x="856" y="125" width="5" height="559" fill="url(#g179)"/><rect x="860" y="125" width="5" height="559" fill="url(#g180)"/><rect x="864" y="125" width="5" height="559" fill="url(#g181)"/><rect x="868" y="125" width="5" height="559" fill="url(#g182)"/><rect x="872" y="125" width="5" height="559" fill="url(#g183)"/><rect x="876" y="125" width="5" height="559" fill="url(#g184)"/><rect x="880" y="125" width="5" height="559" fill="url(#g185)"/><rect x="884" y="125" width="5" height="559" fill="url(#g186)"/><rect x="888" y="125" width="5" height="559" fill="url(#g187)"/><rect x="892" y="125" width="5" height="559" fill="url(#g188)"/><rect x="896" y="125" width="5" height="559" fill="url(#g189)"/><rect x="900" y="125" width="5" height="559" fill="url(#g190)"/><rect x="904" y="125" width="5" height="559" fill="url(#g191)"/><rect x="908" y="125" width="5" height="559" fill="url(#g192)"/><rect x="912" y="125" width="5" height="559" fill="url(#g193)"/><rect x="916" y="125" width="5" height="559" fill="url(#g194)"/><rect x="920" y="125" width="5" height="559" fill="url(#g195)"/><rect x="924" y="125" width="5" height="559" fill="url(#g196)"/><rect x="928" y="125" width="5" height="559" fill="url(#g197)"/><rect x="932" y="125" width="5" height="559" fill="url(#g198)"/><rect x="936" y="125" width="5" height="559" fill="url(#g199)"/><rect x="940" y="125" width="5" height="559" fill="url(#g200)"/><rect x="944" y="125" width="5" height="559" fill="url(#g201)"/><rect x="948" y="125" width="5" height="559" fill="url(#g202)"/><rect x="952" y="125" width="5" height="559" fill="url(#g203)"/><rect x="956" y="125" width="5" height="559" fill="url(#g204)"/><rect x="960" y="125" width="5" height="559" fill="url(#g205)"/><rect x="964" y="125" width="5" height="559" fill="url(#g206)"/><rect x="968" y="125" width="5" height="559" fill="url(#g207)"/><rect x="972" y="125" width="5" height="559" fill="url(#g208)"/><rect x="976" y="125" width="5" height="559" fill="url(#g209)"/><rect x="980" y="125" width="5" height="559" fill="url(#g210)"/><rect x="984" y="125" width="4" height="559" fill="url(#g211)"/></g></g><line x1="139" y1="673.70" x2="149.70" y2="673.70" stroke="#000" stroke-width="1.8"/><line x1="139" y1="520.38" x2="149.70" y2="520.38" stroke="#000" stroke-width="1.8"/><line x1="139" y1="367.05" x2="149.70" y2="367.05" stroke="#000" stroke-width="1.8"/><line x1="139" y1="213.73" x2="149.70" y2="213.73" stroke="#000" stroke-width="1.8"/><line x1="172.90" y1="673.70" x2="172.90" y2="684" stroke="#000" stroke-width="1.8"/><line x1="324.12" y1="673.70" x2="324.12" y2="684" stroke="#000" stroke-width="1.8"/><line x1="412.58" y1="673.70" x2="412.58" y2="684" stroke="#000" stroke-width="1.8"/><line x1="475.34" y1="673.70" x2="475.34" y2="684" stroke="#000" stroke-width="1.8"/><line x1="563.80" y1="673.70" x2="563.80" y2="684" stroke="#000" stroke-width="1.8"/><line x1="675.25" y1="673.70" x2="675.25" y2="684" stroke="#000" stroke-width="1.8"/><line x1="748.66" y1="673.70" x2="748.66" y2="684" stroke="#000" stroke-width="1.8"/><line x1="826.47" y1="673.70" x2="826.47" y2="684" stroke="#000" stroke-width="1.8"/><line x1="977.69" y1="673.70" x2="977.69" y2="684" stroke="#000" stroke-width="1.8"/><g clip-path="url(#axc)"><polyline points="149.7,428.8 172.9,425.7 323.3,405.7 412.3,390.7 475.0,382.3 564.0,364.2 675.2,337.6 748.6,325.7 826.7,311.0 977.7,289.5" fill="none" stroke="#d8f4f8" stroke-opacity="0.75" stroke-width="9" stroke-linejoin="round"/><circle cx="172.9" cy="425.7" r="12.2" fill="#d8f4f8" fill-opacity="0.75"/><circle cx="323.3" cy="405.7" r="12.2" fill="#d8f4f8" fill-opacity="0.75"/><circle cx="412.3" cy="390.7" r="12.2" fill="#d8f4f8" fill-opacity="0.75"/><circle cx="475.0" cy="382.3" r="12.2" fill="#d8f4f8" fill-opacity="0.75"/><circle cx="564.0" cy="364.2" r="12.2" fill="#d8f4f8" fill-opacity="0.75"/><circle cx="675.2" cy="337.6" r="12.2" fill="#d8f4f8" fill-opacity="0.75"/><circle cx="748.6" cy="325.7" r="12.2" fill="#d8f4f8" fill-opacity="0.75"/><circle cx="826.7" cy="311.0" r="12.2" fill="#d8f4f8" fill-opacity="0.75"/><circle cx="977.7" cy="289.5" r="12.2" fill="#d8f4f8" fill-opacity="0.75"/><polyline points="149.7,428.8 172.9,425.7 323.3,405.7 412.3,390.7 475.0,382.3 564.0,364.2 675.2,337.6 748.6,325.7 826.7,311.0 977.7,289.5" fill="none" stroke="#c4000c" stroke-width="6.6" stroke-linejoin="round"/><circle cx="172.9" cy="425.7" r="11" fill="#c4000c"/><circle cx="323.3" cy="405.7" r="11" fill="#c4000c"/><circle cx="412.3" cy="390.7" r="11" fill="#c4000c"/><circle cx="475.0" cy="382.3" r="11" fill="#c4000c"/><circle cx="564.0" cy="364.2" r="11" fill="#c4000c"/><circle cx="675.2" cy="337.6" r="11" fill="#c4000c"/><circle cx="748.6" cy="325.7" r="11" fill="#c4000c"/><circle cx="826.7" cy="311.0" r="11" fill="#c4000c"/><circle cx="977.7" cy="289.5" r="11" fill="#c4000c"/></g><line x1="699" y1="272" x2="945" y2="268.7" stroke="#f0f4f8" stroke-opacity="0.6" stroke-width="6.6" stroke-linecap="round"/><path d="M941,262 L956,268.5 L941,276 Z" fill="#f0f4f8" fill-opacity="0.6" stroke="#f0f4f8" stroke-opacity="0.6" stroke-width="5" stroke-linejoin="round"/><line x1="699" y1="272" x2="945" y2="268.7" stroke="#111" stroke-width="5" stroke-linecap="round"/><path d="M941,262 L956,268.5 L941,276 Z" fill="#111" stroke="#111" stroke-width="3" stroke-linejoin="round"/><text x="278" y="258.0" font-family='"Liberation Serif", serif' font-size="23" fill="#000" stroke="#000" stroke-width="0.15" textLength="396" lengthAdjust="spacingAndGlyphs">With large capitalizations and heavy tails,</text><text x="278" y="282.8" font-family='"Liberation Serif", serif' font-size="23" fill="#000" stroke="#000" stroke-width="0.15" textLength="372" lengthAdjust="spacingAndGlyphs">there is a significant appetite for limits,</text><text x="278" y="307.6" font-family='"Liberation Serif", serif' font-size="23" fill="#000" stroke="#000" stroke-width="0.15" textLength="411" lengthAdjust="spacingAndGlyphs">so the market is likely driven by availability</text><text x="128.5" y="684.9" font-size="30.5" text-anchor="end" textLength="73.0" lengthAdjust="spacingAndGlyphs" stroke="#fff" stroke-width="0.35" >0.0%</text><text x="128.5" y="531.6" font-size="30.5" text-anchor="end" textLength="73.0" lengthAdjust="spacingAndGlyphs" stroke="#fff" stroke-width="0.35" >0.5%</text><text x="128.5" y="378.2" font-size="30.5" text-anchor="end" textLength="73.0" lengthAdjust="spacingAndGlyphs" stroke="#fff" stroke-width="0.35" >1.0%</text><text x="128.5" y="224.9" font-size="30.5" text-anchor="end" textLength="73.0" lengthAdjust="spacingAndGlyphs" stroke="#fff" stroke-width="0.35" >1.5%</text><text x="171.9" y="717.0" font-size="30.5" text-anchor="middle" textLength="36.0" lengthAdjust="spacingAndGlyphs" stroke="#fff" stroke-width="0.35" >25</text><text x="323.1" y="717.0" font-size="30.5" text-anchor="middle" textLength="36.0" lengthAdjust="spacingAndGlyphs" stroke="#fff" stroke-width="0.35" >50</text><text x="411.6" y="717.0" font-size="30.5" text-anchor="middle" textLength="36.0" lengthAdjust="spacingAndGlyphs" stroke="#fff" stroke-width="0.35" >75</text><text x="474.3" y="717.0" font-size="30.5" text-anchor="middle" textLength="57.0" lengthAdjust="spacingAndGlyphs" stroke="#fff" stroke-width="0.35" >100</text><text x="562.8" y="717.0" font-size="30.5" text-anchor="middle" textLength="57.0" lengthAdjust="spacingAndGlyphs" stroke="#fff" stroke-width="0.35" >150</text><text x="674.2" y="717.0" font-size="30.5" text-anchor="middle" textLength="57.0" lengthAdjust="spacingAndGlyphs" stroke="#fff" stroke-width="0.35" >250</text><text x="747.7" y="717.0" font-size="30.5" text-anchor="middle" textLength="57.0" lengthAdjust="spacingAndGlyphs" stroke="#fff" stroke-width="0.35" >350</text><text x="825.5" y="717.0" font-size="30.5" text-anchor="middle" textLength="57.0" lengthAdjust="spacingAndGlyphs" stroke="#fff" stroke-width="0.35" >500</text><text x="976.7" y="717.0" font-size="30.5" text-anchor="middle" textLength="84.0" lengthAdjust="spacingAndGlyphs" stroke="#fff" stroke-width="0.35" >1,000</text><text x="573.5" y="43.6" font-size="30.5" text-anchor="middle" textLength="452.0" lengthAdjust="spacingAndGlyphs" stroke="#fff" stroke-width="0.35" >Initial Cap: $150M ; Shape: 0.9</text><text x="573.5" y="758.0" font-size="30.5" text-anchor="middle" textLength="479.0" lengthAdjust="spacingAndGlyphs" stroke="#fff" stroke-width="0.35" >Policy Limit in Millions (log scale)</text><text x="0" y="0" font-size="30.5" text-anchor="middle" textLength="182" lengthAdjust="spacingAndGlyphs" stroke="#fff" stroke-width="0.35" transform="translate(37.2,367) rotate(-90)">Growth Rate</text></svg></body></html>
